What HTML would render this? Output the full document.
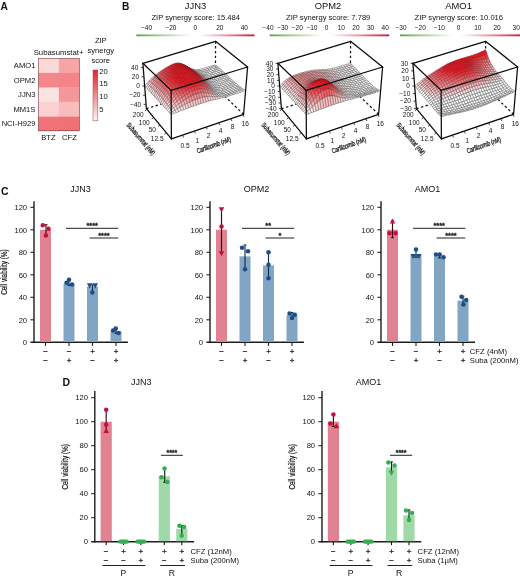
<!DOCTYPE html>
<html><head><meta charset="utf-8"><title>Figure</title>
<style>
html,body{margin:0;padding:0;background:#fff;}
body{width:520px;height:579px;overflow:hidden;}
svg{display:block;font-family:"Liberation Sans", Arial, Helvetica, sans-serif;}
</style></head><body>
<svg width="520" height="579" viewBox="0 0 520 579">
<rect x="0" y="0" width="520" height="579" fill="#ffffff"/>
<text x="0.50" y="9.50" font-size="10.2" text-anchor="start" font-weight="bold" fill="#111" >A</text>
<rect x="38.40" y="58.50" width="20.70" height="14.60" fill="#fcd9d9" />
<rect x="58.90" y="58.50" width="20.60" height="14.60" fill="#f6a5a6" />
<text x="35.40" y="68.40" font-size="7.6" text-anchor="end" font-weight="normal" fill="#111" >AMO1</text>
<rect x="38.40" y="72.90" width="20.70" height="14.90" fill="#f3878b" />
<rect x="58.90" y="72.90" width="20.60" height="14.90" fill="#f3858a" />
<text x="35.40" y="82.95" font-size="7.6" text-anchor="end" font-weight="normal" fill="#111" >OPM2</text>
<rect x="38.40" y="87.60" width="20.70" height="14.40" fill="#fce3e3" />
<rect x="58.90" y="87.60" width="20.60" height="14.40" fill="#f4979a" />
<text x="35.40" y="97.40" font-size="7.6" text-anchor="end" font-weight="normal" fill="#111" >JJN3</text>
<rect x="38.40" y="101.80" width="20.70" height="15.00" fill="#fad0d1" />
<rect x="58.90" y="101.80" width="20.60" height="15.00" fill="#f8bcbd" />
<text x="35.40" y="111.90" font-size="7.6" text-anchor="end" font-weight="normal" fill="#111" >MM1S</text>
<rect x="38.40" y="116.60" width="20.70" height="14.40" fill="#ef7378" />
<rect x="58.90" y="116.60" width="20.60" height="14.40" fill="#ef7277" />
<text x="35.40" y="126.40" font-size="7.6" text-anchor="end" font-weight="normal" fill="#111" >NCI-H929</text>
<rect x="38.4" y="58.5" width="41.10" height="72.30" fill="none" stroke="#7d3b42" stroke-width="0.6"/>
<text x="58.60" y="54.70" font-size="7.75" text-anchor="middle" font-weight="normal" fill="#111" >Subasumstat+</text>
<text x="48.40" y="139.50" font-size="7.6" text-anchor="middle" font-weight="normal" fill="#111" >BTZ</text>
<text x="69.40" y="139.50" font-size="7.6" text-anchor="middle" font-weight="normal" fill="#111" >CFZ</text>
<defs><linearGradient id="cbA" x1="0" y1="0" x2="0" y2="1"><stop offset="0" stop-color="#dc2430"/><stop offset="0.5" stop-color="#f08a8e"/><stop offset="1" stop-color="#fff6f6"/></linearGradient></defs>
<rect x="93.0" y="70.0" width="4.8" height="50.8" fill="url(#cbA)" stroke="#a8434a" stroke-width="0.5"/>
<text x="99.30" y="73.50" font-size="7.6" text-anchor="start" font-weight="normal" fill="#111" >20</text>
<text x="99.30" y="85.60" font-size="7.6" text-anchor="start" font-weight="normal" fill="#111" >15</text>
<text x="99.30" y="98.50" font-size="7.6" text-anchor="start" font-weight="normal" fill="#111" >10</text>
<text x="99.30" y="111.50" font-size="7.6" text-anchor="start" font-weight="normal" fill="#111" >5</text>
<text x="100.80" y="43.30" font-size="7.6" text-anchor="middle" font-weight="normal" fill="#111" >ZIP</text>
<text x="100.80" y="53.40" font-size="7.6" text-anchor="middle" font-weight="normal" fill="#111" >synergy</text>
<text x="100.80" y="63.10" font-size="7.6" text-anchor="middle" font-weight="normal" fill="#111" >score</text>
<text x="122.00" y="9.50" font-size="10.2" text-anchor="start" font-weight="bold" fill="#111" >B</text>
<text x="195.50" y="9.00" font-size="9.4" text-anchor="middle" font-weight="normal" fill="#111" >JJN3</text>
<text x="195.70" y="20.30" font-size="7.6" text-anchor="middle" font-weight="normal" fill="#111" >ZIP synergy score: 15.484</text>
<defs><linearGradient id="cb0" x1="0" y1="0" x2="1" y2="0"><stop offset="0" stop-color="#5fa544"/><stop offset="0.250" stop-color="#b3d6a3"/><stop offset="0.470" stop-color="#ffffff"/><stop offset="0.530" stop-color="#ffffff"/><stop offset="0.750" stop-color="#ee93a1"/><stop offset="1" stop-color="#cc1a3c"/></linearGradient></defs>
<rect x="136.30" y="34.40" width="118.20" height="1.90" fill="url(#cb0)" />
<text x="146.50" y="29.90" font-size="6.5" text-anchor="middle" font-weight="normal" fill="#111" >−40</text>
<text x="170.95" y="29.90" font-size="6.5" text-anchor="middle" font-weight="normal" fill="#111" >−20</text>
<text x="195.40" y="29.90" font-size="6.5" text-anchor="middle" font-weight="normal" fill="#111" >0</text>
<text x="219.85" y="29.90" font-size="6.5" text-anchor="middle" font-weight="normal" fill="#111" >20</text>
<text x="244.30" y="29.90" font-size="6.5" text-anchor="middle" font-weight="normal" fill="#111" >40</text>
<line x1="215.60" y1="41.30" x2="215.30" y2="87.30" stroke="#111" stroke-width="1.25" stroke-dasharray="2.4,2.4"/>
<line x1="146.40" y1="108.70" x2="215.30" y2="87.30" stroke="#111" stroke-width="1.25" stroke-dasharray="2.4,2.4"/>
<line x1="243.60" y1="114.30" x2="215.30" y2="87.30" stroke="#111" stroke-width="1.25" stroke-dasharray="2.4,2.4"/>
<g transform="scale(0.1)" stroke-width="5.2" stroke-linejoin="round">
<path fill="#ffffff" stroke="#666666" d="M2146 667l24-6l-16-11l-23 5z"/>
<path fill="#ffffff" stroke="#666666" d="M2122 673l24-6l-15-12l-24 6z"/>
<path fill="#ffffff" stroke="#666666" d="M2161 679l24-5l-15-13l-24 6z"/>
<path fill="#ffffff" stroke="#666666" d="M2099 681l23-8l-15-12l-23 8z"/>
<path fill="#ffffff" stroke="#666666" d="M2137 686l24-7l-15-12l-24 6z"/>
<path fill="#ffffff" stroke="#666666" d="M2176 692l24-6l-15-12l-24 5z"/>
<path fill="#ffffff" stroke="#666666" d="M2075 689l24-8l-15-12l-24 7z"/>
<path fill="#ffffff" stroke="#666666" d="M2113 694l24-8l-15-13l-23 8z"/>
<path fill="#ffffff" stroke="#666666" d="M2152 700l24-8l-15-13l-24 7z"/>
<path fill="#ffffff" stroke="#666666" d="M2051 697l24-8l-15-13l-23 8z"/>
<path fill="#ffffff" stroke="#666666" d="M2191 706l24-6l-15-14l-24 6z"/>
<path fill="#ffffff" stroke="#666666" d="M2090 702l23-8l-14-13l-24 8z"/>
<path fill="#ffffff" stroke="#666666" d="M2128 708l24-8l-15-14l-24 8z"/>
<path fill="#ffffff" stroke="#666666" d="M2028 703l23-6l-14-13l-24 6z"/>
<path fill="#ffffff" stroke="#666666" d="M2167 713l24-7l-15-14l-24 8z"/>
<path fill="#ffffff" stroke="#666666" d="M2066 710l24-8l-15-13l-24 8z"/>
<path fill="#ffffff" stroke="#666666" d="M2206 720l24-6l-15-14l-24 6z"/>
<path fill="#ffffff" stroke="#666666" d="M2105 716l23-8l-15-14l-23 8z"/>
<path fill="#ffffff" stroke="#666666" d="M2004 707l24-4l-15-13l-24 4z"/>
<path fill="#ffffff" stroke="#666666" d="M2143 722l24-9l-15-13l-24 8z"/>
<path fill="#ffffff" stroke="#666666" d="M2042 716l24-6l-15-13l-23 6z"/>
<path fill="#ffffff" stroke="#666666" d="M2182 728l24-8l-15-14l-24 7z"/>
<path fill="#ffffff" stroke="#666666" d="M2081 723l24-7l-15-14l-24 8z"/>
<path fill="#ffffff" stroke="#666666" d="M2221 734l24-6l-15-14l-24 6z"/>
<path fill="#fefafa" stroke="#676565" d="M1980 708l24-1l-15-13l-23 2z"/>
<path fill="#ffffff" stroke="#666666" d="M2119 730l24-8l-15-14l-23 8z"/>
<path fill="#ffffff" stroke="#666666" d="M2019 720l23-4l-14-13l-24 4z"/>
<path fill="#ffffff" stroke="#666666" d="M2158 736l24-8l-15-15l-24 9z"/>
<path fill="#ffffff" stroke="#666666" d="M2057 729l24-6l-15-13l-24 6z"/>
<path fill="#ffffff" stroke="#666666" d="M2197 742l24-8l-15-14l-24 8z"/>
<path fill="#fdeeef" stroke="#696263" d="M1956 706l24 2l-14-12l-24-2z"/>
<path fill="#ffffff" stroke="#666666" d="M2096 737l23-7l-14-14l-24 7z"/>
<path fill="#ffffff" stroke="#666666" d="M2236 749l24-7l-15-14l-24 6z"/>
<path fill="#fef9f9" stroke="#676565" d="M1995 721l24-1l-15-13l-24 1z"/>
<path fill="#ffffff" stroke="#666666" d="M2134 744l24-8l-15-14l-24 8z"/>
<path fill="#ffffff" stroke="#666666" d="M2033 733l24-4l-15-13l-23 4z"/>
<path fill="#ffffff" stroke="#666666" d="M2173 750l24-8l-15-14l-24 8z"/>
<path fill="#fbdbdd" stroke="#6e5e5f" d="M1932 699l24 7l-14-12l-24-6z"/>
<path fill="#ffffff" stroke="#666666" d="M2072 743l24-6l-15-14l-24 6z"/>
<path fill="#ffffff" stroke="#666666" d="M2212 756l24-7l-15-15l-24 8z"/>
<path fill="#fdeced" stroke="#6a6262" d="M1971 718l24 3l-15-13l-24-2z"/>
<path fill="#ffffff" stroke="#666666" d="M2110 751l24-7l-15-14l-23 7z"/>
<path fill="#ffffff" stroke="#666666" d="M2251 763l24-7l-15-14l-24 7z"/>
<path fill="#fef8f8" stroke="#676464" d="M2009 733l24 0l-14-13l-24 1z"/>
<path fill="#ffffff" stroke="#666666" d="M2149 758l24-8l-15-14l-24 8z"/>
<path fill="#f9c2c5" stroke="#735859" d="M1908 688l24 11l-14-11l-24-11z"/>
<path fill="#ffffff" stroke="#666666" d="M2048 746l24-3l-15-14l-24 4z"/>
<path fill="#ffffff" stroke="#666666" d="M2188 764l24-8l-15-14l-24 8z"/>
<path fill="#fbd9da" stroke="#6e5e5e" d="M1947 711l24 7l-15-12l-24-7z"/>
<path fill="#ffffff" stroke="#666666" d="M2086 756l24-5l-14-14l-24 6z"/>
<path fill="#ffffff" stroke="#666666" d="M2227 771l24-8l-15-14l-24 7z"/>
<path fill="#fdeaeb" stroke="#6a6262" d="M1986 730l23 3l-14-12l-24-3z"/>
<path fill="#ffffff" stroke="#666666" d="M2125 765l24-7l-15-14l-24 7z"/>
<path fill="#ffffff" stroke="#666666" d="M2266 777l24-7l-15-14l-24 7z"/>
<path fill="#f7a3a7" stroke="#7a4e50" d="M1884 674l24 14l-14-11l-24-13z"/>
<path fill="#fef7f7" stroke="#676464" d="M2024 746l24 0l-15-13l-24 0z"/>
<path fill="#ffffff" stroke="#666666" d="M2164 772l24-8l-15-14l-24 8z"/>
<path fill="#f9bec1" stroke="#745758" d="M1923 699l24 12l-15-12l-24-11z"/>
<path fill="#ffffff" stroke="#666666" d="M2063 759l23-3l-14-13l-24 3z"/>
<path fill="#ffffff" stroke="#666666" d="M2203 779l24-8l-15-15l-24 8z"/>
<path fill="#fbd6d8" stroke="#6f5d5e" d="M1962 722l24 8l-15-12l-24-7z"/>
<path fill="#ffffff" stroke="#666666" d="M2101 770l24-5l-15-14l-24 5z"/>
<path fill="#ffffff" stroke="#666666" d="M2242 785l24-8l-15-14l-24 8z"/>
<path fill="#f48186" stroke="#824144" d="M1860 660l24 14l-14-10l-25-14z"/>
<path fill="#fde8e9" stroke="#6b6162" d="M2000 742l24 4l-15-13l-23-3z"/>
<path fill="#ffffff" stroke="#666666" d="M2140 779l24-7l-15-14l-24 7z"/>
<path fill="#ffffff" stroke="#666666" d="M2281 791l24-7l-15-14l-24 7z"/>
<path fill="#f69ea2" stroke="#7b4c4e" d="M1899 684l24 15l-15-11l-24-14z"/>
<path fill="#fef6f6" stroke="#686464" d="M2039 759l24 0l-15-13l-24 0z"/>
<path fill="#ffffff" stroke="#666666" d="M2179 787l24-8l-15-15l-24 8z"/>
<path fill="#f9babd" stroke="#755557" d="M1938 710l24 12l-15-11l-24-12z"/>
<path fill="#ffffff" stroke="#666666" d="M2077 773l24-3l-15-14l-23 3z"/>
<path fill="#ffffff" stroke="#666666" d="M2217 793l25-8l-15-14l-24 8z"/>
<path fill="#f16067" stroke="#883337" d="M1835 647l25 13l-15-10l-24-11z"/>
<path fill="#fbd3d5" stroke="#705c5d" d="M1976 734l24 8l-14-12l-24-8z"/>
<path fill="#ffffff" stroke="#666666" d="M2116 784l24-5l-15-14l-24 5z"/>
<path fill="#ffffff" stroke="#666666" d="M2257 799l24-8l-15-14l-24 8z"/>
<path fill="#f37b81" stroke="#833f42" d="M1874 669l25 15l-15-10l-24-14z"/>
<path fill="#fce7e8" stroke="#6b6161" d="M2015 754l24 5l-15-13l-24-4z"/>
<path fill="#ffffff" stroke="#666666" d="M2155 794l24-7l-15-15l-24 7z"/>
<path fill="#ffffff" stroke="#666666" d="M2296 804l24-6l-15-14l-24 7z"/>
<path fill="#f6999d" stroke="#7c4a4c" d="M1913 694l25 16l-15-11l-24-15z"/>
<path fill="#fef5f6" stroke="#686464" d="M2053 772l24 1l-14-14l-24 0z"/>
<path fill="#ffffff" stroke="#666666" d="M2193 801l24-8l-14-14l-24 8z"/>
<path fill="#ee454d" stroke="#8e262b" d="M1811 640l24 7l-14-8l-25-8z"/>
<path fill="#f8b7ba" stroke="#765456" d="M1952 720l24 14l-14-12l-24-12z"/>
<path fill="#ffffff" stroke="#666666" d="M2092 786l24-2l-15-14l-24 3z"/>
<path fill="#ffffff" stroke="#666666" d="M2232 807l25-8l-15-14l-25 8z"/>
<path fill="#f05a61" stroke="#8a3034" d="M1850 656l24 13l-14-9l-25-13z"/>
<path fill="#fbd1d3" stroke="#705c5d" d="M1991 745l24 9l-15-12l-24-8z"/>
<path fill="#ffffff" stroke="#666666" d="M2131 798l24-4l-15-15l-24 5z"/>
<path fill="#ffffff" stroke="#666666" d="M2271 812l25-8l-15-13l-24 8z"/>
<path fill="#f3757b" stroke="#843c3f" d="M1889 678l24 16l-14-10l-25-15z"/>
<path fill="#fce6e7" stroke="#6b6161" d="M2029 767l24 5l-14-13l-24-5z"/>
<path fill="#ffffff" stroke="#666666" d="M2169 808l24-7l-14-14l-24 7z"/>
<path fill="#ffffff" stroke="#666666" d="M2311 818l24-7l-15-13l-24 6z"/>
<path fill="#ed323b" stroke="#921c21" d="M1786 638l25 2l-15-9l-24-1z"/>
<path fill="#f59499" stroke="#7d494b" d="M1928 704l24 16l-14-10l-25-16z"/>
<path fill="#fef6f6" stroke="#686464" d="M2068 786l24 0l-15-13l-24-1z"/>
<path fill="#ffffff" stroke="#666666" d="M2208 816l24-9l-15-14l-24 8z"/>
<path fill="#ee3d46" stroke="#902227" d="M1825 648l25 8l-15-9l-24-7z"/>
<path fill="#f8b3b7" stroke="#775355" d="M1967 732l24 13l-15-11l-24-14z"/>
<path fill="#ffffff" stroke="#666666" d="M2107 801l24-3l-15-14l-24 2z"/>
<path fill="#ffffff" stroke="#666666" d="M2247 821l24-9l-14-13l-25 8z"/>
<path fill="#f0535a" stroke="#8b2d31" d="M1864 665l25 13l-15-9l-24-13z"/>
<path fill="#facfd1" stroke="#705b5c" d="M2005 758l24 9l-14-13l-24-9z"/>
<path fill="#ffffff" stroke="#666666" d="M2145 813l24-5l-14-14l-24 4z"/>
<path fill="#ffffff" stroke="#666666" d="M2286 826l25-8l-15-14l-25 8z"/>
<path fill="#ec2932" stroke="#94171d" d="M1762 642l24-4l-14-8l-24 5z"/>
<path fill="#f26f75" stroke="#853a3d" d="M1903 688l25 16l-15-10l-24-16z"/>
<path fill="#fce5e6" stroke="#6b6161" d="M2044 780l24 6l-15-14l-24-5z"/>
<path fill="#ffffff" stroke="#666666" d="M2184 823l24-7l-15-15l-24 7z"/>
<path fill="#ffffff" stroke="#666666" d="M2326 831l24-7l-15-13l-24 7z"/>
<path fill="#ec2a33" stroke="#93181d" d="M1801 646l24 2l-14-8l-25-2z"/>
<path fill="#f59095" stroke="#7e4749" d="M1943 715l24 17l-15-12l-24-16z"/>
<path fill="#fef6f7" stroke="#676464" d="M2083 800l24 1l-15-15l-24 0z"/>
<path fill="#ffffff" stroke="#666666" d="M2223 830l24-9l-15-14l-24 9z"/>
<path fill="#ed363e" stroke="#911e23" d="M1840 656l24 9l-14-9l-25-8z"/>
<path fill="#f8b1b4" stroke="#775254" d="M1981 743l24 15l-14-13l-24-13z"/>
<path fill="#ffffff" stroke="#666666" d="M2121 816l24-3l-14-15l-24 3z"/>
<path fill="#ffffff" stroke="#666666" d="M2262 835l24-9l-15-14l-24 9z"/>
<path fill="#ec2731" stroke="#94161c" d="M1738 650l24-8l-14-7l-24 8z"/>
<path fill="#ef4c54" stroke="#8d292e" d="M1879 674l24 14l-14-10l-25-13z"/>
<path fill="#faced0" stroke="#715b5c" d="M2020 770l24 10l-15-13l-24-9z"/>
<path fill="#ffffff" stroke="#666666" d="M2160 828l24-5l-15-15l-24 5z"/>
<path fill="#ffffff" stroke="#666666" d="M2301 839l25-8l-15-13l-25 8z"/>
<path fill="#eb2029" stroke="#951218" d="M1777 650l24-4l-15-8l-24 4z"/>
<path fill="#f26a70" stroke="#86373b" d="M1918 698l25 17l-15-11l-25-16z"/>
<path fill="#fce6e7" stroke="#6b6161" d="M2059 794l24 6l-15-14l-24-6z"/>
<path fill="#ffffff" stroke="#666666" d="M2199 838l24-8l-15-14l-24 7z"/>
<path fill="#ffffff" stroke="#666666" d="M2341 843l24-6l-15-13l-24 7z"/>
<path fill="#eb222b" stroke="#951319" d="M1815 654l25 2l-15-8l-24-2z"/>
<path fill="#f58c91" stroke="#7f4548" d="M1957 726l24 17l-14-11l-24-17z"/>
<path fill="#fef8f8" stroke="#676464" d="M2097 814l24 2l-14-15l-24-1z"/>
<path fill="#ffffff" stroke="#666666" d="M2238 844l24-9l-15-14l-24 9z"/>
<path fill="#ec2c35" stroke="#93191e" d="M1714 662l24-12l-14-7l-24 12z"/>
<path fill="#ec2e37" stroke="#921a1f" d="M1854 665l25 9l-15-9l-24-9z"/>
<path fill="#f8afb2" stroke="#785253" d="M1996 755l24 15l-15-12l-24-15z"/>
<path fill="#ffffff" stroke="#666666" d="M2136 831l24-3l-15-15l-24 3z"/>
<path fill="#ffffff" stroke="#666666" d="M2277 848l24-9l-15-13l-24 9z"/>
<path fill="#eb1e28" stroke="#961117" d="M1753 658l24-8l-15-8l-24 8z"/>
<path fill="#ee464e" stroke="#8e262b" d="M1894 684l24 14l-15-10l-24-14z"/>
<path fill="#faced0" stroke="#715b5c" d="M2035 784l24 10l-15-14l-24-10z"/>
<path fill="#ffffff" stroke="#666666" d="M2175 843l24-5l-15-15l-24 5z"/>
<path fill="#ffffff" stroke="#666666" d="M2316 852l25-9l-15-12l-25 8z"/>
<path fill="#eb1923" stroke="#970e14" d="M1791 658l24-4l-14-8l-24 4z"/>
<path fill="#f1656c" stroke="#873539" d="M1933 709l24 17l-14-11l-25-17z"/>
<path fill="#fce7e8" stroke="#6b6161" d="M2073 809l24 5l-14-14l-24-6z"/>
<path fill="#ffffff" stroke="#666666" d="M2213 852l25-8l-15-14l-24 8z"/>
<path fill="#ffffff" stroke="#666666" d="M2356 856l24-6l-15-13l-24 6z"/>
<path fill="#ed343c" stroke="#911d22" d="M1691 675l23-13l-14-7l-23 13z"/>
<path fill="#eb1a24" stroke="#960f15" d="M1830 663l24 2l-14-9l-25-2z"/>
<path fill="#f4898e" stroke="#804447" d="M1972 738l24 17l-15-12l-24-17z"/>
<path fill="#fefbfb" stroke="#666565" d="M2112 830l24 1l-15-15l-24-2z"/>
<path fill="#ffffff" stroke="#666666" d="M2252 858l25-10l-15-13l-24 9z"/>
<path fill="#eb222b" stroke="#951319" d="M1729 670l24-12l-15-8l-24 12z"/>
<path fill="#ec2831" stroke="#94171c" d="M1869 675l25 9l-15-10l-25-9z"/>
<path fill="#f7aeb1" stroke="#785153" d="M2011 769l24 15l-15-14l-24-15z"/>
<path fill="#ffffff" stroke="#666666" d="M2150 846l25-3l-15-15l-24 3z"/>
<path fill="#ffffff" stroke="#666666" d="M2292 861l24-9l-15-13l-24 9z"/>
<path fill="#eb1923" stroke="#970e14" d="M1767 667l24-9l-14-8l-24 8z"/>
<path fill="#ee4049" stroke="#8f2428" d="M1908 694l25 15l-15-11l-24-14z"/>
<path fill="#facfd1" stroke="#715b5c" d="M2049 799l24 10l-14-15l-24-10z"/>
<path fill="#ffffff" stroke="#666666" d="M2189 859l24-7l-14-14l-24 5z"/>
<path fill="#ffffff" stroke="#666666" d="M2331 864l25-8l-15-13l-25 9z"/>
<path fill="#ee3e46" stroke="#8f2227" d="M1667 689l24-14l-14-7l-24 14z"/>
<path fill="#eb1923" stroke="#970e14" d="M1806 667l24-4l-15-9l-24 4z"/>
<path fill="#f16268" stroke="#883437" d="M1948 720l24 18l-15-12l-24-17z"/>
<path fill="#fdeaeb" stroke="#6a6262" d="M2088 825l24 5l-15-16l-24-5z"/>
<path fill="#ffffff" stroke="#666666" d="M2228 867l24-9l-14-14l-25 8z"/>
<path fill="#ffffff" stroke="#666666" d="M2371 868l24-6l-15-12l-24 6z"/>
<path fill="#ec2a33" stroke="#93181d" d="M1705 683l24-13l-15-8l-23 13z"/>
<path fill="#eb1923" stroke="#970e14" d="M1845 673l24 2l-15-10l-24-2z"/>
<path fill="#f4888d" stroke="#804446" d="M1987 750l24 19l-15-14l-24-17z"/>
<path fill="#fefefe" stroke="#666565" d="M2126 846l24 0l-14-15l-24-1z"/>
<path fill="#ffffff" stroke="#666666" d="M2267 871l25-10l-15-13l-25 10z"/>
<path fill="#eb1a23" stroke="#970f15" d="M1743 679l24-12l-14-9l-24 12z"/>
<path fill="#eb222b" stroke="#951319" d="M1884 685l24 9l-14-10l-25-9z"/>
<path fill="#f8aeb2" stroke="#785253" d="M2025 783l24 16l-14-15l-24-15z"/>
<path fill="#ffffff" stroke="#666666" d="M2165 862l24-3l-14-16l-25 3z"/>
<path fill="#ffffff" stroke="#666666" d="M2307 874l24-10l-15-12l-24 9z"/>
<path fill="#ef4951" stroke="#8d282c" d="M1643 704l24-15l-14-7l-23 14z"/>
<path fill="#eb1923" stroke="#970e14" d="M1781 676l25-9l-15-9l-24 9z"/>
<path fill="#ee3c44" stroke="#902126" d="M1923 705l25 15l-15-11l-25-15z"/>
<path fill="#fbd1d3" stroke="#705c5d" d="M2064 814l24 11l-15-16l-24-10z"/>
<path fill="#ffffff" stroke="#666666" d="M2204 874l24-7l-15-15l-24 7z"/>
<path fill="#ffffff" stroke="#666666" d="M2346 876l25-8l-15-12l-25 8z"/>
<path fill="#ed343d" stroke="#911d22" d="M1681 697l24-14l-14-8l-24 14z"/>
<path fill="#eb1923" stroke="#970e14" d="M1820 677l25-4l-15-10l-24 4z"/>
<path fill="#f15f66" stroke="#893336" d="M1962 732l25 18l-15-12l-24-18z"/>
<path fill="#fdedee" stroke="#696263" d="M2102 841l24 5l-14-16l-24-5z"/>
<path fill="#ffffff" stroke="#666666" d="M2243 880l24-9l-15-13l-24 9z"/>
<path fill="#ffffff" stroke="#666666" d="M2386 880l24-7l-15-11l-24 6z"/>
<path fill="#eb222b" stroke="#951319" d="M1719 692l24-13l-14-9l-24 13z"/>
<path fill="#eb1923" stroke="#970e14" d="M1859 683l25 2l-15-10l-24-2z"/>
<path fill="#f4888d" stroke="#804446" d="M2001 764l24 19l-14-14l-24-19z"/>
<path fill="#ffffff" stroke="#666666" d="M2141 862l24 0l-15-16l-24 0z"/>
<path fill="#ffffff" stroke="#666666" d="M2282 884l25-10l-15-13l-25 10z"/>
<path fill="#f0565d" stroke="#8b2e32" d="M1620 720l23-16l-13-8l-24 16z"/>
<path fill="#eb1923" stroke="#970e14" d="M1757 688l24-12l-14-9l-24 12z"/>
<path fill="#eb1d27" stroke="#961116" d="M1899 695l24 10l-15-11l-24-9z"/>
<path fill="#f8b1b4" stroke="#775254" d="M2040 798l24 16l-15-15l-24-16z"/>
<path fill="#ffffff" stroke="#666666" d="M2180 878l24-4l-15-15l-24 3z"/>
<path fill="#ffffff" stroke="#666666" d="M2322 886l24-10l-15-12l-24 10z"/>
<path fill="#ee4048" stroke="#8f2328" d="M1657 712l24-15l-14-8l-24 15z"/>
<path fill="#eb1923" stroke="#970e14" d="M1796 686l24-9l-14-10l-25 9z"/>
<path fill="#ed3942" stroke="#902025" d="M1938 717l24 15l-14-12l-25-15z"/>
<path fill="#fbd5d7" stroke="#6f5d5e" d="M2079 831l23 10l-14-16l-24-11z"/>
<path fill="#ffffff" stroke="#666666" d="M2218 888l25-8l-15-13l-24 7z"/>
<path fill="#ffffff" stroke="#666666" d="M2361 888l25-8l-15-12l-25 8z"/>
<path fill="#ec2c35" stroke="#93191e" d="M1695 706l24-14l-14-9l-24 14z"/>
<path fill="#eb1923" stroke="#970e14" d="M1835 687l24-4l-14-10l-25 4z"/>
<path fill="#f15f66" stroke="#893236" d="M1977 745l24 19l-14-14l-25-18z"/>
<path fill="#fdf2f3" stroke="#686363" d="M2117 858l24 4l-15-16l-24-5z"/>
<path fill="#ffffff" stroke="#666666" d="M2257 894l25-10l-15-13l-24 9z"/>
<path fill="#ffffff" stroke="#666666" d="M2401 892l24-7l-15-12l-24 7z"/>
<path fill="#f1646b" stroke="#883538" d="M1596 737l24-17l-14-8l-23 16z"/>
<path fill="#eb1b25" stroke="#960f15" d="M1733 702l24-14l-14-9l-24 13z"/>
<path fill="#eb1923" stroke="#970e14" d="M1874 694l25 1l-15-10l-25-2z"/>
<path fill="#f4898f" stroke="#804447" d="M2016 779l24 19l-15-15l-24-19z"/>
<path fill="#ffffff" stroke="#666666" d="M2155 879l25-1l-15-16l-24 0z"/>
<path fill="#ffffff" stroke="#666666" d="M2297 897l25-11l-15-12l-25 10z"/>
<path fill="#ef4d54" stroke="#8c2a2e" d="M1634 728l23-16l-14-8l-23 16z"/>
<path fill="#eb1923" stroke="#970e14" d="M1772 698l24-12l-15-10l-24 12z"/>
<path fill="#eb1a24" stroke="#970f15" d="M1913 707l25 10l-15-12l-24-10z"/>
<path fill="#f8b5b8" stroke="#765455" d="M2055 815l24 16l-15-17l-24-16z"/>
<path fill="#ffffff" stroke="#666666" d="M2194 893l24-5l-14-14l-24 4z"/>
<path fill="#ffffff" stroke="#666666" d="M2336 898l25-10l-15-12l-24 10z"/>
<path fill="#ed3740" stroke="#911f24" d="M1671 721l24-15l-14-9l-24 15z"/>
<path fill="#eb1923" stroke="#970e14" d="M1810 697l25-10l-15-10l-24 9z"/>
<path fill="#ed3840" stroke="#911f24" d="M1953 730l24 15l-15-13l-24-15z"/>
<path fill="#fbdbdc" stroke="#6e5e5f" d="M2093 848l24 10l-15-17l-23-10z"/>
<path fill="#ffffff" stroke="#666666" d="M2233 902l24-8l-14-14l-25 8z"/>
<path fill="#ffffff" stroke="#666666" d="M2376 900l25-8l-15-12l-25 8z"/>
<path fill="#f2747a" stroke="#843c3f" d="M1573 755l23-18l-13-9l-23 18z"/>
<path fill="#ec252f" stroke="#94151b" d="M1709 716l24-14l-14-10l-24 14z"/>
<path fill="#eb1923" stroke="#970e14" d="M1849 698l25-4l-15-11l-24 4z"/>
<path fill="#f16067" stroke="#883337" d="M1992 760l24 19l-15-15l-24-19z"/>
<path fill="#fef7f8" stroke="#676464" d="M2131 875l24 4l-14-17l-24-4z"/>
<path fill="#ffffff" stroke="#666666" d="M2272 906l25-9l-15-13l-25 10z"/>
<path fill="#ffffff" stroke="#666666" d="M2416 903l25-7l-16-11l-24 7z"/>
<path fill="#f05b63" stroke="#893135" d="M1610 745l24-17l-14-8l-24 17z"/>
<path fill="#eb1923" stroke="#970e14" d="M1748 712l24-14l-15-10l-24 14z"/>
<path fill="#eb1923" stroke="#970e14" d="M1889 705l24 2l-14-12l-25-1z"/>
<path fill="#f58d92" stroke="#7f4648" d="M2031 796l24 19l-15-17l-24-19z"/>
<path fill="#ffffff" stroke="#666666" d="M2170 895l24-2l-14-15l-25 1z"/>
<path fill="#ffffff" stroke="#666666" d="M2312 908l24-10l-14-12l-25 11z"/>
<path fill="#ee444c" stroke="#8e262a" d="M1648 737l23-16l-14-9l-23 16z"/>
<path fill="#eb1923" stroke="#970e14" d="M1786 709l24-12l-14-11l-24 12z"/>
<path fill="#eb1923" stroke="#970e14" d="M1928 720l25 10l-15-13l-25-10z"/>
<path fill="#f9babd" stroke="#755557" d="M2069 833l24 15l-14-17l-24-16z"/>
<path fill="#ffffff" stroke="#666666" d="M2209 908l24-6l-15-14l-24 5z"/>
<path fill="#ffffff" stroke="#666666" d="M2351 909l25-9l-15-12l-25 10z"/>
<path fill="#f4878c" stroke="#804346" d="M1550 775l23-20l-13-9l-23 19z"/>
<path fill="#ed3039" stroke="#921b20" d="M1685 730l24-14l-14-10l-24 15z"/>
<path fill="#eb1923" stroke="#970e14" d="M1825 708l24-10l-14-11l-25 10z"/>
<path fill="#ed3841" stroke="#902024" d="M1967 744l25 16l-15-15l-24-15z"/>
<path fill="#fce1e2" stroke="#6c6060" d="M2108 866l23 9l-14-17l-24-10z"/>
<path fill="#ffffff" stroke="#666666" d="M2248 915l24-9l-15-12l-24 8z"/>
<path fill="#ffffff" stroke="#666666" d="M2391 911l25-8l-15-11l-25 8z"/>
<path fill="#f26c73" stroke="#86383c" d="M1587 764l23-19l-14-8l-23 18z"/>
<path fill="#eb1f29" stroke="#951218" d="M1723 726l25-14l-15-10l-24 14z"/>
<path fill="#eb1923" stroke="#970e14" d="M1864 710l25-5l-15-11l-25 4z"/>
<path fill="#f1636a" stroke="#883438" d="M2006 776l25 20l-15-17l-24-19z"/>
<path fill="#fefcfd" stroke="#666565" d="M2146 892l24 3l-15-16l-24-4z"/>
<path fill="#ffffff" stroke="#666666" d="M2287 918l25-10l-15-11l-25 9z"/>
<path fill="#ffffff" stroke="#666666" d="M2431 915l25-9l-15-10l-25 7z"/>
<path fill="#f0535b" stroke="#8b2d31" d="M1624 754l24-17l-14-9l-24 17z"/>
<path fill="#eb1923" stroke="#970e14" d="M1762 723l24-14l-14-11l-24 14z"/>
<path fill="#eb1923" stroke="#970e14" d="M1903 717l25 3l-15-13l-24-2z"/>
<path fill="#f59398" stroke="#7e484a" d="M2045 814l24 19l-14-18l-24-19z"/>
<path fill="#ffffff" stroke="#666666" d="M2184 911l25-3l-15-15l-24 2z"/>
<path fill="#ffffff" stroke="#666666" d="M2327 919l24-10l-15-11l-24 10z"/>
<path fill="#f69ca0" stroke="#7c4b4d" d="M1527 797l23-22l-13-10l-23 21z"/>
<path fill="#ee3d45" stroke="#902227" d="M1661 746l24-16l-14-9l-23 16z"/>
<path fill="#eb1923" stroke="#970e14" d="M1801 721l24-13l-15-11l-24 12z"/>
<path fill="#eb1923" stroke="#970e14" d="M1943 733l24 11l-14-14l-25-10z"/>
<path fill="#f9c1c4" stroke="#745759" d="M2084 851l24 15l-15-18l-24-15z"/>
<path fill="#ffffff" stroke="#666666" d="M2223 922l25-7l-15-13l-24 6z"/>
<path fill="#ffffff" stroke="#666666" d="M2367 920l24-9l-15-11l-25 9z"/>
<path fill="#f38085" stroke="#824143" d="M1564 785l23-21l-14-9l-23 20z"/>
<path fill="#ec2a33" stroke="#93181d" d="M1699 740l24-14l-14-10l-24 14z"/>
<path fill="#eb1923" stroke="#970e14" d="M1840 720l24-10l-15-12l-24 10z"/>
<path fill="#ee3b44" stroke="#902126" d="M1982 760l24 16l-14-16l-25-16z"/>
<path fill="#fce7e8" stroke="#6b6161" d="M2122 884l24 8l-15-17l-23-9z"/>
<path fill="#ffffff" stroke="#666666" d="M2262 927l25-9l-15-12l-24 9z"/>
<path fill="#ffffff" stroke="#666666" d="M2406 923l25-8l-15-12l-25 8z"/>
<path fill="#f1646b" stroke="#883538" d="M1600 773l24-19l-14-9l-23 19z"/>
<path fill="#eb1b24" stroke="#960f15" d="M1738 737l24-14l-14-11l-25 14z"/>
<path fill="#eb1923" stroke="#970e14" d="M1879 722l24-5l-14-12l-25 5z"/>
<path fill="#f1696f" stroke="#87373a" d="M2021 794l24 20l-14-18l-25-20z"/>
<path fill="#ffffff" stroke="#666666" d="M2160 909l24 2l-14-16l-24-3z"/>
<path fill="#ffffff" stroke="#666666" d="M2302 929l25-10l-15-11l-25 10z"/>
<path fill="#f8b4b7" stroke="#775355" d="M1504 821l23-24l-13-11l-23 22z"/>
<path fill="#ef4b53" stroke="#8d292d" d="M1638 763l23-17l-13-9l-24 17z"/>
<path fill="#eb1923" stroke="#970e14" d="M1776 734l25-13l-15-12l-24 14z"/>
<path fill="#eb1923" stroke="#970e14" d="M1918 731l25 2l-15-13l-25-3z"/>
<path fill="#f69b9f" stroke="#7c4b4d" d="M2060 833l24 18l-15-18l-24-19z"/>
<path fill="#ffffff" stroke="#666666" d="M2199 925l24-3l-14-14l-25 3z"/>
<path fill="#ffffff" stroke="#666666" d="M2342 929l25-9l-16-11l-24 10z"/>
<path fill="#f5969b" stroke="#7d494b" d="M1541 807l23-22l-14-10l-23 22z"/>
<path fill="#ed363f" stroke="#911e23" d="M1675 756l24-16l-14-10l-24 16z"/>
<path fill="#eb1923" stroke="#970e14" d="M1815 732l25-12l-15-12l-24 13z"/>
<path fill="#eb1a24" stroke="#960f15" d="M1958 749l24 11l-15-16l-24-11z"/>
<path fill="#fac9cb" stroke="#725a5b" d="M2098 870l24 14l-14-18l-24-15z"/>
<path fill="#ffffff" stroke="#666666" d="M2238 934l24-7l-14-12l-25 7z"/>
<path fill="#ffffff" stroke="#666666" d="M2382 931l24-8l-15-12l-24 9z"/>
<path fill="#f3787e" stroke="#833e41" d="M1577 794l23-21l-13-9l-23 21z"/>
<path fill="#ec252e" stroke="#94151b" d="M1714 751l24-14l-15-11l-24 14z"/>
<path fill="#eb1923" stroke="#970e14" d="M1854 732l25-10l-15-12l-24 10z"/>
<path fill="#ee4149" stroke="#8f2428" d="M1997 777l24 17l-15-18l-24-16z"/>
<path fill="#fdedee" stroke="#6a6263" d="M2136 902l24 7l-14-17l-24-8z"/>
<path fill="#ffffff" stroke="#666666" d="M2277 938l25-9l-15-11l-25 9z"/>
<path fill="#facfd1" stroke="#705b5c" d="M1482 846l22-25l-13-13l-22 25z"/>
<path fill="#f05c63" stroke="#893135" d="M1614 782l24-19l-14-9l-24 19z"/>
<path fill="#eb1923" stroke="#970e14" d="M1752 748l24-14l-14-11l-24 14z"/>
<path fill="#eb1923" stroke="#970e14" d="M1893 735l25-4l-15-14l-24 5z"/>
<path fill="#f27177" stroke="#853a3e" d="M2036 813l24 20l-15-19l-24-20z"/>
<path fill="#ffffff" stroke="#666666" d="M2175 925l24 0l-15-14l-24-2z"/>
<path fill="#ffffff" stroke="#666666" d="M2317 938l25-9l-15-10l-25 10z"/>
<path fill="#f8b0b3" stroke="#785254" d="M1518 832l23-25l-14-10l-23 24z"/>
<path fill="#ee444c" stroke="#8e252a" d="M1652 772l23-16l-14-10l-23 17z"/>
<path fill="#eb1923" stroke="#970e14" d="M1791 746l24-14l-14-11l-25 13z"/>
<path fill="#eb1923" stroke="#970e14" d="M1933 745l25 4l-15-16l-25-2z"/>
<path fill="#f7a4a8" stroke="#7a4e50" d="M2074 853l24 17l-14-19l-24-18z"/>
<path fill="#ffffff" stroke="#666666" d="M2213 939l25-5l-15-12l-24 3z"/>
<path fill="#ffffff" stroke="#666666" d="M2357 939l25-8l-15-11l-25 9z"/>
<path fill="#f58f94" stroke="#7f4749" d="M1554 817l23-23l-13-9l-23 22z"/>
<path fill="#ed3039" stroke="#921b20" d="M1690 766l24-15l-15-11l-24 16z"/>
<path fill="#eb1923" stroke="#970e14" d="M1830 744l24-12l-14-12l-25 12z"/>
<path fill="#eb1f28" stroke="#961217" d="M1972 765l25 12l-15-17l-24-11z"/>
<path fill="#fbd1d3" stroke="#705c5d" d="M2112 890l24 12l-14-18l-24-14z"/>
<path fill="#ffffff" stroke="#666666" d="M2253 945l24-7l-15-11l-24 7z"/>
<path fill="#fdeeef" stroke="#696263" d="M1460 874l22-28l-13-13l-23 27z"/>
<path fill="#f27077" stroke="#853a3d" d="M1591 803l23-21l-14-9l-23 21z"/>
<path fill="#eb212a" stroke="#951318" d="M1728 762l24-14l-14-11l-24 14z"/>
<path fill="#eb1923" stroke="#970e14" d="M1869 744l24-9l-14-13l-25 10z"/>
<path fill="#ef4950" stroke="#8d282c" d="M2011 796l25 17l-15-19l-24-17z"/>
<path fill="#fef3f4" stroke="#686364" d="M2151 920l24 5l-15-16l-24-7z"/>
<path fill="#ffffff" stroke="#666666" d="M2292 947l25-9l-15-9l-25 9z"/>
<path fill="#facccf" stroke="#715b5b" d="M1495 859l23-27l-14-11l-22 25z"/>
<path fill="#f0555c" stroke="#8b2e32" d="M1628 791l24-19l-14-9l-24 19z"/>
<path fill="#eb1923" stroke="#970e14" d="M1766 760l25-14l-15-12l-24 14z"/>
<path fill="#eb1923" stroke="#970e14" d="M1908 749l25-4l-15-14l-25 4z"/>
<path fill="#f37b81" stroke="#833f42" d="M2050 834l24 19l-14-20l-24-20z"/>
<path fill="#ffffff" stroke="#666666" d="M2189 940l24-1l-14-14l-24 0z"/>
<path fill="#ffffff" stroke="#666666" d="M2332 946l25-7l-15-10l-25 9z"/>
<path fill="#f7aaae" stroke="#795052" d="M1531 843l23-26l-13-10l-23 25z"/>
<path fill="#ee3d46" stroke="#8f2227" d="M1666 782l24-16l-15-10l-23 16z"/>
<path fill="#eb1923" stroke="#970e14" d="M1805 758l25-14l-15-12l-24 14z"/>
<path fill="#eb1923" stroke="#970e14" d="M1948 762l24 3l-14-16l-25-4z"/>
<path fill="#f7aeb1" stroke="#785153" d="M2089 874l23 16l-14-20l-24-17z"/>
<path fill="#ffffff" stroke="#666666" d="M2228 951l25-6l-15-11l-25 5z"/>
<path fill="#f4888d" stroke="#804446" d="M1568 827l23-24l-14-9l-23 23z"/>
<path fill="#ec2b34" stroke="#93191e" d="M1704 776l24-14l-14-11l-24 15z"/>
<path fill="#eb1923" stroke="#970e14" d="M1844 757l25-13l-15-12l-24 12z"/>
<path fill="#ec2630" stroke="#94161b" d="M1987 785l24 11l-14-19l-25-12z"/>
<path fill="#fbdadb" stroke="#6e5e5f" d="M2127 910l24 10l-15-18l-24-12z"/>
<path fill="#ffffff" stroke="#666666" d="M2268 954l24-7l-15-9l-24 7z"/>
<path fill="#fdedee" stroke="#6a6263" d="M1473 889l22-30l-13-13l-22 28z"/>
<path fill="#f1696f" stroke="#87373a" d="M1604 812l24-21l-14-9l-23 21z"/>
<path fill="#eb1d27" stroke="#961116" d="M1742 773l24-13l-14-12l-24 14z"/>
<path fill="#eb1923" stroke="#970e14" d="M1883 758l25-9l-15-14l-24 9z"/>
<path fill="#f0535b" stroke="#8b2d31" d="M2026 818l24 16l-14-21l-25-17z"/>
<path fill="#fef8f8" stroke="#676464" d="M2165 937l24 3l-14-15l-24-5z"/>
<path fill="#ffffff" stroke="#666666" d="M2307 954l25-8l-15-8l-25 9z"/>
<path fill="#fac9cb" stroke="#72595b" d="M1509 871l22-28l-13-11l-23 27z"/>
<path fill="#ef4d55" stroke="#8c2a2e" d="M1642 800l24-18l-14-10l-24 19z"/>
<path fill="#eb1923" stroke="#970e14" d="M1781 772l24-14l-14-12l-25 14z"/>
<path fill="#eb1923" stroke="#970e14" d="M1923 764l25-2l-15-17l-25 4z"/>
<path fill="#f4878c" stroke="#804446" d="M2065 857l24 17l-15-21l-24-19z"/>
<path fill="#ffffff" stroke="#666666" d="M2204 954l24-3l-15-12l-24 1z"/>
<path fill="#f7a4a8" stroke="#7a4e50" d="M1545 853l23-26l-14-10l-23 26z"/>
<path fill="#ed3840" stroke="#911f24" d="M1679 792l25-16l-14-10l-24 16z"/>
<path fill="#eb1923" stroke="#970e14" d="M1820 770l24-13l-14-13l-25 14z"/>
<path fill="#eb1923" stroke="#970e14" d="M1962 780l25 5l-15-20l-24-3z"/>
<path fill="#f8b9bc" stroke="#755556" d="M2103 896l24 14l-15-20l-23-16z"/>
<path fill="#ffffff" stroke="#666666" d="M2243 961l25-7l-15-9l-25 6z"/>
<path fill="#f48186" stroke="#824144" d="M1581 836l23-24l-13-9l-23 24z"/>
<path fill="#ec2731" stroke="#94161c" d="M1718 787l24-14l-14-11l-24 14z"/>
<path fill="#eb1923" stroke="#970e14" d="M1859 770l24-12l-14-14l-25 13z"/>
<path fill="#ed313a" stroke="#921c21" d="M2002 806l24 12l-15-22l-24-11z"/>
<path fill="#fce1e3" stroke="#6c6060" d="M2141 930l24 7l-14-17l-24-10z"/>
<path fill="#ffffff" stroke="#666666" d="M2283 961l24-7l-15-7l-24 7z"/>
<path fill="#fdeced" stroke="#6a6262" d="M1486 903l23-32l-14-12l-22 30z"/>
<path fill="#f16168" stroke="#883337" d="M1618 821l24-21l-14-9l-24 21z"/>
<path fill="#eb1a24" stroke="#960f15" d="M1756 785l25-13l-15-12l-24 13z"/>
<path fill="#eb1923" stroke="#970e14" d="M1898 772l25-8l-15-15l-25 9z"/>
<path fill="#f16168" stroke="#883337" d="M2040 842l25 15l-15-23l-24-16z"/>
<path fill="#fefbfb" stroke="#666565" d="M2179 953l25 1l-15-14l-24-3z"/>
<path fill="#f9c4c7" stroke="#735859" d="M1522 883l23-30l-14-10l-22 28z"/>
<path fill="#ef474f" stroke="#8e272b" d="M1656 810l23-18l-13-10l-24 18z"/>
<path fill="#eb1923" stroke="#970e14" d="M1795 784l25-14l-15-12l-24 14z"/>
<path fill="#eb1923" stroke="#970e14" d="M1937 782l25-2l-14-18l-25 2z"/>
<path fill="#f5959a" stroke="#7d494b" d="M2079 882l24 14l-14-22l-24-17z"/>
<path fill="#ffffff" stroke="#666666" d="M2218 966l25-5l-15-10l-24 3z"/>
<path fill="#f69da2" stroke="#7b4c4e" d="M1558 864l23-28l-13-9l-23 26z"/>
<path fill="#ed333c" stroke="#921d22" d="M1693 803l25-16l-14-11l-25 16z"/>
<path fill="#eb1923" stroke="#970e14" d="M1834 783l25-13l-15-13l-24 13z"/>
<path fill="#eb1923" stroke="#970e14" d="M1977 801l25 5l-15-21l-25-5z"/>
<path fill="#fac5c8" stroke="#73595a" d="M2117 920l24 10l-14-20l-24-14z"/>
<path fill="#ffffff" stroke="#666666" d="M2258 969l25-8l-15-7l-25 7z"/>
<path fill="#f3797f" stroke="#833e41" d="M1595 846l23-25l-14-9l-23 24z"/>
<path fill="#eb242d" stroke="#95151a" d="M1732 799l24-14l-14-12l-24 14z"/>
<path fill="#eb1923" stroke="#970e14" d="M1873 784l25-12l-15-14l-24 12z"/>
<path fill="#ee4048" stroke="#8f2328" d="M2016 831l24 11l-14-24l-24-12z"/>
<path fill="#fde9ea" stroke="#6b6162" d="M2155 950l24 3l-14-16l-24-7z"/>
<path fill="#fdeaeb" stroke="#6a6262" d="M1500 917l22-34l-13-12l-23 32z"/>
<path fill="#f05b62" stroke="#8a3034" d="M1632 832l24-22l-14-10l-24 21z"/>
<path fill="#eb1923" stroke="#970e14" d="M1770 797l25-13l-14-12l-25 13z"/>
<path fill="#eb1923" stroke="#970e14" d="M1913 789l24-7l-14-18l-25 8z"/>
<path fill="#f27278" stroke="#853b3e" d="M2055 869l24 13l-14-25l-25-15z"/>
<path fill="#fefbfc" stroke="#666565" d="M2194 968l24-2l-14-12l-25-1z"/>
<path fill="#f9c0c3" stroke="#745758" d="M1535 895l23-31l-13-11l-23 30z"/>
<path fill="#ee424a" stroke="#8f2529" d="M1669 821l24-18l-14-11l-23 18z"/>
<path fill="#eb1923" stroke="#970e14" d="M1809 797l25-14l-14-13l-25 14z"/>
<path fill="#eb1923" stroke="#970e14" d="M1952 803l25-2l-15-21l-25 2z"/>
<path fill="#f7a6aa" stroke="#7a4f51" d="M2093 908l24 12l-14-24l-24-14z"/>
<path fill="#fefefe" stroke="#666565" d="M2233 975l25-6l-15-8l-25 5z"/>
<path fill="#f6979c" stroke="#7d4a4c" d="M1571 875l24-29l-14-10l-23 28z"/>
<path fill="#ed3039" stroke="#921b20" d="M1708 815l24-16l-14-12l-25 16z"/>
<path fill="#eb1923" stroke="#970e14" d="M1848 797l25-13l-14-14l-25 13z"/>
<path fill="#ec2731" stroke="#94161c" d="M1991 826l25 5l-14-25l-25-5z"/>
<path fill="#fbd2d4" stroke="#705c5d" d="M2131 944l24 6l-14-20l-24-10z"/>
<path fill="#f27379" stroke="#843b3e" d="M1608 856l24-24l-14-11l-23 25z"/>
<path fill="#eb222b" stroke="#951319" d="M1746 812l24-15l-14-12l-24 14z"/>
<path fill="#eb1923" stroke="#970e14" d="M1888 800l25-11l-15-17l-25 12z"/>
<path fill="#f0535a" stroke="#8b2d31" d="M2030 859l25 10l-15-27l-24-11z"/>
<path fill="#fdeff0" stroke="#696363" d="M2170 969l24-1l-15-15l-24-3z"/>
<path fill="#fde8e9" stroke="#6b6162" d="M1513 932l22-37l-13-12l-22 34z"/>
<path fill="#f0555d" stroke="#8b2e32" d="M1646 843l23-22l-13-11l-24 22z"/>
<path fill="#eb1923" stroke="#970e14" d="M1785 811l24-14l-14-13l-25 13z"/>
<path fill="#eb1923" stroke="#970e14" d="M1927 809l25-6l-15-21l-24 7z"/>
<path fill="#f4878c" stroke="#804346" d="M2069 898l24 10l-14-26l-24-13z"/>
<path fill="#fefafa" stroke="#676565" d="M2208 982l25-7l-15-9l-24 2z"/>
<path fill="#f9bbbe" stroke="#755657" d="M1549 908l22-33l-13-11l-23 31z"/>
<path fill="#ee3f47" stroke="#8f2327" d="M1683 833l25-18l-15-12l-24 18z"/>
<path fill="#eb1923" stroke="#970e14" d="M1824 811l24-14l-14-14l-25 14z"/>
<path fill="#eb1923" stroke="#970e14" d="M1967 827l24-1l-14-25l-25 2z"/>
<path fill="#f8b8bb" stroke="#765556" d="M2107 937l24 7l-14-24l-24-12z"/>
<path fill="#f59296" stroke="#7e484a" d="M1585 886l23-30l-13-10l-24 29z"/>
<path fill="#ec2e37" stroke="#931a1f" d="M1722 828l24-16l-14-13l-24 16z"/>
<path fill="#eb1923" stroke="#970e14" d="M1863 813l25-13l-15-16l-25 13z"/>
<path fill="#ee3b44" stroke="#902126" d="M2006 855l24 4l-14-28l-25-5z"/>
<path fill="#fcdfe0" stroke="#6d5f60" d="M2145 968l25 1l-15-19l-24-6z"/>
<path fill="#f26e74" stroke="#86393c" d="M1622 868l24-25l-14-11l-24 24z"/>
<path fill="#eb212a" stroke="#951318" d="M1760 826l25-15l-15-14l-24 15z"/>
<path fill="#eb1923" stroke="#970e14" d="M1902 819l25-10l-14-20l-25 11z"/>
<path fill="#f26b71" stroke="#86383b" d="M2044 891l25 7l-14-29l-25-10z"/>
<path fill="#fef4f4" stroke="#686464" d="M2184 988l24-6l-14-14l-24 1z"/>
<path fill="#fce7e8" stroke="#6b6161" d="M1526 946l23-38l-14-13l-22 37z"/>
<path fill="#ef5259" stroke="#8b2c30" d="M1659 855l24-22l-14-12l-23 22z"/>
<path fill="#eb1923" stroke="#970e14" d="M1799 825l25-14l-15-14l-24 14z"/>
<path fill="#eb1923" stroke="#970e14" d="M1942 833l25-6l-15-24l-25 6z"/>
<path fill="#f69fa3" stroke="#7b4c4e" d="M2083 930l24 7l-14-29l-24-10z"/>
<path fill="#f8b7bb" stroke="#765456" d="M1562 920l23-34l-14-11l-22 33z"/>
<path fill="#ee3d45" stroke="#902227" d="M1697 847l25-19l-14-13l-25 18z"/>
<path fill="#eb1923" stroke="#970e14" d="M1838 827l25-14l-15-16l-24 14z"/>
<path fill="#ec2d36" stroke="#93191e" d="M1981 856l25-1l-15-29l-24 1z"/>
<path fill="#facdcf" stroke="#715b5c" d="M2121 967l24 1l-14-24l-24-7z"/>
<path fill="#f58d92" stroke="#7f4648" d="M1598 898l24-30l-14-12l-23 30z"/>
<path fill="#ec2d36" stroke="#931a1f" d="M1736 842l24-16l-14-14l-24 16z"/>
<path fill="#eb1923" stroke="#970e14" d="M1877 832l25-13l-14-19l-25 13z"/>
<path fill="#f0555d" stroke="#8b2e32" d="M2020 888l24 3l-14-32l-24-4z"/>
<path fill="#fdeced" stroke="#6a6262" d="M2159 994l25-6l-14-19l-25-1z"/>
<path fill="#f26b71" stroke="#86383b" d="M1636 880l23-25l-13-12l-24 25z"/>
<path fill="#eb222b" stroke="#951319" d="M1774 841l25-16l-14-14l-25 15z"/>
<path fill="#eb1923" stroke="#970e14" d="M1917 842l25-9l-15-24l-25 10z"/>
<path fill="#f4888d" stroke="#804446" d="M2058 926l25 4l-14-32l-25-7z"/>
<path fill="#fce5e6" stroke="#6b6161" d="M1540 960l22-40l-13-12l-23 38z"/>
<path fill="#ef5058" stroke="#8c2c30" d="M1673 869l24-22l-14-14l-24 22z"/>
<path fill="#eb1923" stroke="#970e14" d="M1813 842l25-15l-14-16l-25 14z"/>
<path fill="#ec252f" stroke="#94151b" d="M1956 861l25-5l-14-29l-25 6z"/>
<path fill="#f9bbbe" stroke="#755657" d="M2096 966l25 1l-14-30l-24-7z"/>
<path fill="#f8b4b7" stroke="#765355" d="M1575 933l23-35l-13-12l-23 34z"/>
<path fill="#ee3d46" stroke="#902227" d="M1711 862l25-20l-14-14l-25 19z"/>
<path fill="#eb1923" stroke="#970e14" d="M1853 845l24-13l-14-19l-25 14z"/>
<path fill="#ef484f" stroke="#8d272c" d="M1995 889l25-1l-14-33l-25 1z"/>
<path fill="#fce3e5" stroke="#6c6061" d="M2134 999l25-5l-14-26l-24-1z"/>
<path fill="#f48a90" stroke="#804547" d="M1612 911l24-31l-14-12l-24 30z"/>
<path fill="#ec2f38" stroke="#921b20" d="M1750 858l24-17l-14-15l-24 16z"/>
<path fill="#eb1923" stroke="#970e14" d="M1892 854l25-12l-15-23l-25 13z"/>
<path fill="#f3767c" stroke="#843d40" d="M2034 926l24 0l-14-35l-24-3z"/>
<path fill="#f26a70" stroke="#86373b" d="M1649 894l24-25l-14-14l-23 25z"/>
<path fill="#ec252e" stroke="#94151b" d="M1789 858l24-16l-14-17l-25 16z"/>
<path fill="#ec252e" stroke="#94151a" d="M1931 870l25-9l-14-28l-25 9z"/>
<path fill="#f7abae" stroke="#795052" d="M2072 967l24-1l-13-36l-25-4z"/>
<path fill="#fce4e5" stroke="#6c6061" d="M1553 975l22-42l-13-13l-22 40z"/>
<path fill="#ef5159" stroke="#8b2c30" d="M1687 884l24-22l-14-15l-24 22z"/>
<path fill="#eb1f29" stroke="#951218" d="M1828 861l25-16l-15-18l-25 15z"/>
<path fill="#ee4049" stroke="#8f2428" d="M1970 894l25-5l-14-33l-25 5z"/>
<path fill="#fbdbdc" stroke="#6e5e5f" d="M2110 1005l24-6l-13-32l-25-1z"/>
<path fill="#f8b2b6" stroke="#775354" d="M1589 947l23-36l-14-13l-23 35z"/>
<path fill="#ee4048" stroke="#8f2328" d="M1725 878l25-20l-14-16l-25 20z"/>
<path fill="#eb1f29" stroke="#951218" d="M1867 868l25-14l-15-22l-24 13z"/>
<path fill="#f26a71" stroke="#86373b" d="M2009 928l25-2l-14-38l-25 1z"/>
<path fill="#f48a8f" stroke="#804547" d="M1626 925l23-31l-13-14l-24 31z"/>
<path fill="#ed343c" stroke="#911d22" d="M1764 876l25-18l-15-17l-24 17z"/>
<path fill="#ec2932" stroke="#94171d" d="M1906 881l25-11l-14-28l-25 12z"/>
<path fill="#f69ea2" stroke="#7b4c4e" d="M2047 969l25-2l-14-41l-24 0z"/>
<path fill="#f26b71" stroke="#86383b" d="M1663 910l24-26l-14-15l-24 25z"/>
<path fill="#ec2c35" stroke="#93191e" d="M1803 878l25-17l-15-19l-24 16z"/>
<path fill="#ee3f47" stroke="#8f2328" d="M1945 903l25-9l-14-33l-25 9z"/>
<path fill="#fbd3d5" stroke="#6f5c5d" d="M2085 1012l25-7l-14-39l-24 1z"/>
<path fill="#fce3e5" stroke="#6c6061" d="M1566 989l23-42l-14-14l-22 42z"/>
<path fill="#f0555c" stroke="#8b2e32" d="M1701 901l24-23l-14-16l-24 22z"/>
<path fill="#ec2a33" stroke="#93181d" d="M1842 883l25-15l-14-23l-25 16z"/>
<path fill="#f1646a" stroke="#883538" d="M1984 934l25-6l-14-39l-25 5z"/>
<path fill="#f8b2b5" stroke="#775354" d="M1602 961l24-36l-14-14l-23 36z"/>
<path fill="#ee454d" stroke="#8e262b" d="M1740 897l24-21l-14-18l-25 20z"/>
<path fill="#ed3139" stroke="#921b20" d="M1881 895l25-14l-14-27l-25 14z"/>
<path fill="#f5959a" stroke="#7d494b" d="M2022 974l25-5l-13-43l-25 2z"/>
<path fill="#f48b90" stroke="#7f4548" d="M1639 941l24-31l-14-16l-23 31z"/>
<path fill="#ee3c44" stroke="#902126" d="M1778 897l25-19l-14-20l-25 18z"/>
<path fill="#ee424a" stroke="#8f2529" d="M1920 913l25-10l-14-33l-25 11z"/>
<path fill="#faced0" stroke="#715b5c" d="M2060 1019l25-7l-13-45l-25 2z"/>
<path fill="#f26f75" stroke="#85393d" d="M1677 927l24-26l-14-17l-24 26z"/>
<path fill="#ed3740" stroke="#911f24" d="M1817 901l25-18l-14-22l-25 17z"/>
<path fill="#f16269" stroke="#883437" d="M1959 942l25-8l-14-40l-25 9z"/>
<path fill="#fce3e4" stroke="#6c6061" d="M1580 1003l22-42l-13-14l-23 42z"/>
<path fill="#f05b62" stroke="#8a3134" d="M1715 920l25-23l-15-19l-24 23z"/>
<path fill="#ee3b44" stroke="#902126" d="M1856 910l25-15l-14-27l-25 15z"/>
<path fill="#f59195" stroke="#7e474a" d="M1997 981l25-7l-13-46l-25 6z"/>
<path fill="#f8b3b6" stroke="#775355" d="M1616 976l23-35l-13-16l-24 36z"/>
<path fill="#ef4e56" stroke="#8c2a2f" d="M1754 918l24-21l-14-21l-24 21z"/>
<path fill="#ef4951" stroke="#8d282c" d="M1895 926l25-13l-14-32l-25 14z"/>
<path fill="#facacc" stroke="#725a5b" d="M2035 1027l25-8l-13-50l-25 5z"/>
<path fill="#f58f94" stroke="#7f4749" d="M1653 958l24-31l-14-17l-24 31z"/>
<path fill="#ef474f" stroke="#8d272c" d="M1792 920l25-19l-14-23l-25 19z"/>
<path fill="#f1646b" stroke="#883538" d="M1934 952l25-10l-14-39l-25 10z"/>
<path fill="#f3757b" stroke="#843c3f" d="M1691 946l24-26l-14-19l-24 26z"/>
<path fill="#ef4850" stroke="#8d282c" d="M1831 927l25-17l-14-27l-25 18z"/>
<path fill="#f58f94" stroke="#7f4749" d="M1972 989l25-8l-13-47l-25 8z"/>
<path fill="#fce4e5" stroke="#6c6061" d="M1593 1018l23-42l-14-15l-22 42z"/>
<path fill="#f1646b" stroke="#883538" d="M1729 941l25-23l-14-21l-25 23z"/>
<path fill="#f0535a" stroke="#8b2d31" d="M1870 941l25-15l-14-31l-25 15z"/>
<path fill="#fac8ca" stroke="#72595a" d="M2010 1035l25-8l-13-53l-25 7z"/>
<path fill="#f8b6b9" stroke="#765455" d="M1629 992l24-34l-14-17l-23 35z"/>
<path fill="#f05a61" stroke="#8a3034" d="M1768 941l24-21l-14-23l-24 21z"/>
<path fill="#f26a71" stroke="#86373b" d="M1909 964l25-12l-14-39l-25 13z"/>
<path fill="#f59599" stroke="#7d494b" d="M1667 976l24-30l-14-19l-24 31z"/>
<path fill="#f0585f" stroke="#8a2f33" d="M1806 946l25-19l-14-26l-25 19z"/>
<path fill="#f59196" stroke="#7e474a" d="M1948 998l24-9l-13-47l-25 10z"/>
<path fill="#f37e84" stroke="#824043" d="M1705 967l24-26l-14-21l-24 26z"/>
<path fill="#f15f66" stroke="#893236" d="M1845 957l25-16l-14-31l-25 17z"/>
<path fill="#fac8ca" stroke="#72595a" d="M1986 1043l24-8l-13-54l-25 8z"/>
<path fill="#fce5e6" stroke="#6b6061" d="M1606 1032l23-40l-13-16l-23 42z"/>
<path fill="#f27077" stroke="#853a3d" d="M1743 963l25-22l-14-23l-25 23z"/>
<path fill="#f27278" stroke="#853b3e" d="M1884 978l25-14l-14-38l-25 15z"/>
<path fill="#f9babd" stroke="#755557" d="M1643 1009l24-33l-14-18l-24 34z"/>
<path fill="#f26b71" stroke="#86383b" d="M1782 966l24-20l-14-26l-24 21z"/>
<path fill="#f5959a" stroke="#7d494b" d="M1923 1009l25-11l-14-46l-25 12z"/>
<path fill="#f69da1" stroke="#7c4c4e" d="M1681 995l24-28l-14-21l-24 30z"/>
<path fill="#f26e74" stroke="#86393c" d="M1820 975l25-18l-14-30l-25 19z"/>
<path fill="#fac9cb" stroke="#725a5b" d="M1961 1052l25-9l-14-54l-24 9z"/>
<path fill="#f48a8f" stroke="#804547" d="M1719 988l24-25l-14-22l-24 26z"/>
<path fill="#f37d83" stroke="#824042" d="M1859 992l25-14l-14-37l-25 16z"/>
<path fill="#fce7e8" stroke="#6b6161" d="M1619 1046l24-37l-14-17l-23 40z"/>
<path fill="#f38085" stroke="#824143" d="M1757 988l25-22l-14-25l-25 22z"/>
<path fill="#f69b9f" stroke="#7c4b4d" d="M1898 1020l25-11l-14-45l-25 14z"/>
<path fill="#f9c0c3" stroke="#745758" d="M1657 1026l24-31l-14-19l-24 33z"/>
<path fill="#f37f85" stroke="#824043" d="M1796 994l24-19l-14-29l-24 20z"/>
<path fill="#facbcd" stroke="#715a5b" d="M1936 1061l25-9l-13-54l-25 11z"/>
<path fill="#f7a6aa" stroke="#7a4f51" d="M1694 1015l25-27l-14-21l-24 28z"/>
<path fill="#f48a8f" stroke="#804547" d="M1834 1008l25-16l-14-35l-25 18z"/>
<path fill="#f6989c" stroke="#7d4a4c" d="M1732 1011l25-23l-14-25l-24 25z"/>
<path fill="#f7a3a7" stroke="#7a4e50" d="M1873 1033l25-13l-14-42l-25 14z"/>
<path fill="#fde9ea" stroke="#6b6162" d="M1633 1061l24-35l-14-17l-24 37z"/>
<path fill="#f59397" stroke="#7e484a" d="M1771 1015l25-21l-14-28l-25 22z"/>
<path fill="#faced0" stroke="#715b5c" d="M1911 1069l25-8l-13-52l-25 11z"/>
<path fill="#fac7c9" stroke="#72595a" d="M1670 1044l24-29l-13-20l-24 31z"/>
<path fill="#f6999d" stroke="#7c4a4c" d="M1809 1025l25-17l-14-33l-24 19z"/>
<path fill="#f8b2b5" stroke="#775354" d="M1708 1036l24-25l-13-23l-25 27z"/>
<path fill="#f7acb0" stroke="#785153" d="M1848 1046l25-13l-14-41l-25 16z"/>
<path fill="#f7a8ac" stroke="#794f51" d="M1746 1036l25-21l-14-27l-25 23z"/>
<path fill="#fbd2d4" stroke="#705c5d" d="M1886 1078l25-9l-13-49l-25 13z"/>
<path fill="#fdebec" stroke="#6a6262" d="M1646 1075l24-31l-13-18l-24 35z"/>
<path fill="#f7a9ad" stroke="#795052" d="M1785 1043l24-18l-13-31l-25 21z"/>
<path fill="#facfd1" stroke="#715b5c" d="M1684 1062l24-26l-14-21l-24 29z"/>
<path fill="#f8b7ba" stroke="#765456" d="M1823 1059l25-13l-14-38l-25 17z"/>
<path fill="#f9bfc2" stroke="#745758" d="M1721 1058l25-22l-14-25l-24 25z"/>
<path fill="#fbd6d8" stroke="#6f5d5e" d="M1861 1087l25-9l-13-45l-25 13z"/>
<path fill="#f9bbbe" stroke="#755557" d="M1760 1061l25-18l-14-28l-25 21z"/>
<path fill="#fdeeef" stroke="#696263" d="M1659 1089l25-27l-14-18l-24 31z"/>
<path fill="#f9c3c6" stroke="#735859" d="M1798 1074l25-15l-14-34l-24 18z"/>
<path fill="#fbd7d9" stroke="#6f5d5e" d="M1697 1080l24-22l-13-22l-24 26z"/>
<path fill="#fbdbdd" stroke="#6e5e5f" d="M1837 1097l24-10l-13-41l-25 13z"/>
<path fill="#facdcf" stroke="#715b5c" d="M1735 1080l25-19l-14-25l-25 22z"/>
<path fill="#fad0d2" stroke="#705b5c" d="M1773 1088l25-14l-13-31l-25 18z"/>
<path fill="#fdf1f2" stroke="#696363" d="M1673 1104l24-24l-13-18l-25 27z"/>
<path fill="#fce1e2" stroke="#6c6060" d="M1812 1106l25-9l-14-38l-25 15z"/>
<path fill="#fce1e2" stroke="#6c6060" d="M1710 1099l25-19l-14-22l-24 22z"/>
<path fill="#fcddde" stroke="#6d5f5f" d="M1749 1103l24-15l-13-27l-25 19z"/>
<path fill="#fce7e8" stroke="#6b6161" d="M1787 1116l25-10l-14-32l-25 14z"/>
<path fill="#fef4f5" stroke="#686464" d="M1686 1118l24-19l-13-19l-24 24z"/>
<path fill="#fdeaeb" stroke="#6a6262" d="M1724 1118l25-15l-14-23l-25 19z"/>
<path fill="#fdedee" stroke="#6a6263" d="M1762 1126l25-10l-14-28l-24 15z"/>
<path fill="#fef8f8" stroke="#676464" d="M1699 1132l25-14l-14-19l-24 19z"/>
<path fill="#fef4f5" stroke="#686464" d="M1737 1136l25-10l-13-23l-25 15z"/>
<path fill="#fefbfb" stroke="#666565" d="M1712 1146l25-10l-13-18l-25 14z"/>
</g>
<line x1="142.90" y1="63.30" x2="215.60" y2="41.30" stroke="#0a0a0a" stroke-width="1.25" stroke-linecap="round"/>
<line x1="215.60" y1="41.30" x2="247.60" y2="67.00" stroke="#0a0a0a" stroke-width="1.25" stroke-linecap="round"/>
<line x1="247.60" y1="67.00" x2="171.10" y2="90.40" stroke="#0a0a0a" stroke-width="1.25" stroke-linecap="round"/>
<line x1="171.10" y1="90.40" x2="142.90" y2="63.30" stroke="#0a0a0a" stroke-width="1.25" stroke-linecap="round"/>
<line x1="142.90" y1="63.30" x2="146.40" y2="108.70" stroke="#0a0a0a" stroke-width="1.25" stroke-linecap="round"/>
<line x1="171.10" y1="90.40" x2="171.40" y2="138.90" stroke="#0a0a0a" stroke-width="1.25" stroke-linecap="round"/>
<line x1="247.60" y1="67.00" x2="243.60" y2="114.30" stroke="#0a0a0a" stroke-width="1.25" stroke-linecap="round"/>
<line x1="146.40" y1="108.70" x2="171.40" y2="138.90" stroke="#0a0a0a" stroke-width="1.25" stroke-linecap="round"/>
<line x1="171.40" y1="138.90" x2="243.60" y2="114.30" stroke="#0a0a0a" stroke-width="1.25" stroke-linecap="round"/>
<line x1="140.84" y1="67.66" x2="143.24" y2="67.66" stroke="#1a1a1a" stroke-width="0.8" />
<text x="138.34" y="69.96" font-size="6.5" text-anchor="end" font-weight="normal" fill="#111" >40</text>
<line x1="141.54" y1="76.83" x2="143.94" y2="76.83" stroke="#1a1a1a" stroke-width="0.8" />
<text x="139.04" y="79.13" font-size="6.5" text-anchor="end" font-weight="normal" fill="#111" >20</text>
<line x1="142.25" y1="86.00" x2="144.65" y2="86.00" stroke="#1a1a1a" stroke-width="0.8" />
<text x="139.75" y="88.30" font-size="6.5" text-anchor="end" font-weight="normal" fill="#111" >0</text>
<line x1="142.96" y1="95.17" x2="145.36" y2="95.17" stroke="#1a1a1a" stroke-width="0.8" />
<text x="140.46" y="97.47" font-size="6.5" text-anchor="end" font-weight="normal" fill="#111" >−20</text>
<line x1="143.66" y1="104.34" x2="146.06" y2="104.34" stroke="#1a1a1a" stroke-width="0.8" />
<text x="141.16" y="106.64" font-size="6.5" text-anchor="end" font-weight="normal" fill="#111" >−40</text>
<line x1="146.90" y1="109.30" x2="145.00" y2="110.80" stroke="#1a1a1a" stroke-width="0.8" />
<text x="138.30" y="116.70" font-size="6.5" text-anchor="middle" font-weight="normal" fill="#111" >200</text>
<line x1="153.65" y1="117.46" x2="151.75" y2="118.96" stroke="#1a1a1a" stroke-width="0.8" />
<text x="144.20" y="124.70" font-size="6.5" text-anchor="middle" font-weight="normal" fill="#111" >100</text>
<line x1="159.90" y1="125.01" x2="158.00" y2="126.51" stroke="#1a1a1a" stroke-width="0.8" />
<text x="152.30" y="132.40" font-size="6.5" text-anchor="middle" font-weight="normal" fill="#111" >50</text>
<line x1="166.28" y1="132.71" x2="164.38" y2="134.21" stroke="#1a1a1a" stroke-width="0.8" />
<text x="157.20" y="140.70" font-size="6.5" text-anchor="middle" font-weight="normal" fill="#111" >12.5</text>
<line x1="182.52" y1="135.11" x2="183.52" y2="137.51" stroke="#1a1a1a" stroke-width="0.8" />
<text x="185.00" y="147.70" font-size="6.5" text-anchor="middle" font-weight="normal" fill="#111" >0.5</text>
<line x1="194.36" y1="131.08" x2="195.36" y2="133.48" stroke="#1a1a1a" stroke-width="0.8" />
<text x="197.20" y="142.50" font-size="6.5" text-anchor="middle" font-weight="normal" fill="#111" >1</text>
<line x1="206.20" y1="127.04" x2="207.20" y2="129.44" stroke="#1a1a1a" stroke-width="0.8" />
<text x="208.50" y="138.00" font-size="6.5" text-anchor="middle" font-weight="normal" fill="#111" >2</text>
<line x1="218.69" y1="122.79" x2="219.69" y2="125.19" stroke="#1a1a1a" stroke-width="0.8" />
<text x="220.60" y="133.40" font-size="6.5" text-anchor="middle" font-weight="normal" fill="#111" >4</text>
<line x1="230.89" y1="118.63" x2="231.89" y2="121.03" stroke="#1a1a1a" stroke-width="0.8" />
<text x="232.60" y="129.30" font-size="6.5" text-anchor="middle" font-weight="normal" fill="#111" >8</text>
<line x1="243.09" y1="114.47" x2="244.09" y2="116.87" stroke="#1a1a1a" stroke-width="0.8" />
<text x="245.30" y="125.60" font-size="6.5" text-anchor="middle" font-weight="normal" fill="#111" >16</text>
<text transform="translate(214.6,147.4) rotate(-19.5) scale(0.68,1)" font-size="7.2" text-anchor="middle" fill="#000" stroke="#000" stroke-width="0.22">Carfilzomib (nM)</text>
<text transform="translate(139.0,140.3) rotate(49.5) scale(0.68,1)" font-size="7.2" text-anchor="middle" fill="#000" stroke="#000" stroke-width="0.22">Subasumstat (nM)</text>
<text x="328.00" y="9.00" font-size="9.4" text-anchor="middle" font-weight="normal" fill="#111" >OPM2</text>
<text x="328.20" y="20.30" font-size="7.6" text-anchor="middle" font-weight="normal" fill="#111" >ZIP synergy score: 7.789</text>
<defs><linearGradient id="cb135" x1="0" y1="0" x2="1" y2="0"><stop offset="0" stop-color="#5fa544"/><stop offset="0.238" stop-color="#b3d6a3"/><stop offset="0.446" stop-color="#ffffff"/><stop offset="0.506" stop-color="#ffffff"/><stop offset="0.738" stop-color="#ee93a1"/><stop offset="1" stop-color="#cc1a3c"/></linearGradient></defs>
<rect x="269.70" y="34.40" width="119.50" height="1.90" fill="url(#cb135)" />
<text x="268.00" y="29.90" font-size="6.5" text-anchor="middle" font-weight="normal" fill="#111" >−40</text>
<text x="282.65" y="29.90" font-size="6.5" text-anchor="middle" font-weight="normal" fill="#111" >−30</text>
<text x="297.30" y="29.90" font-size="6.5" text-anchor="middle" font-weight="normal" fill="#111" >−20</text>
<text x="311.95" y="29.90" font-size="6.5" text-anchor="middle" font-weight="normal" fill="#111" >−10</text>
<text x="326.60" y="29.90" font-size="6.5" text-anchor="middle" font-weight="normal" fill="#111" >0</text>
<text x="341.25" y="29.90" font-size="6.5" text-anchor="middle" font-weight="normal" fill="#111" >10</text>
<text x="355.90" y="29.90" font-size="6.5" text-anchor="middle" font-weight="normal" fill="#111" >20</text>
<text x="370.55" y="29.90" font-size="6.5" text-anchor="middle" font-weight="normal" fill="#111" >30</text>
<text x="385.20" y="29.90" font-size="6.5" text-anchor="middle" font-weight="normal" fill="#111" >40</text>
<line x1="350.60" y1="41.30" x2="350.30" y2="87.30" stroke="#111" stroke-width="1.25" stroke-dasharray="2.4,2.4"/>
<line x1="281.40" y1="108.70" x2="350.30" y2="87.30" stroke="#111" stroke-width="1.25" stroke-dasharray="2.4,2.4"/>
<line x1="378.60" y1="114.30" x2="350.30" y2="87.30" stroke="#111" stroke-width="1.25" stroke-dasharray="2.4,2.4"/>
<g transform="scale(0.1)" stroke-width="5.2" stroke-linejoin="round">
<path fill="#fdf1f1" stroke="#696363" d="M3496 654l24-7l-15-16l-24 8z"/>
<path fill="#fdf1f1" stroke="#696363" d="M3472 662l24-8l-15-15l-24 7z"/>
<path fill="#fef4f4" stroke="#686464" d="M3511 670l24-8l-15-15l-24 7z"/>
<path fill="#fdf1f2" stroke="#696363" d="M3449 669l23-7l-15-16l-23 7z"/>
<path fill="#fef4f5" stroke="#686464" d="M3487 678l24-8l-15-16l-24 8z"/>
<path fill="#fef7f7" stroke="#676464" d="M3526 685l24-7l-15-16l-24 8z"/>
<path fill="#fdf1f2" stroke="#696363" d="M3425 677l24-8l-15-16l-24 8z"/>
<path fill="#fef5f5" stroke="#686464" d="M3464 685l23-7l-15-16l-23 7z"/>
<path fill="#fef7f8" stroke="#676464" d="M3502 693l24-8l-15-15l-24 8z"/>
<path fill="#fdf1f2" stroke="#696363" d="M3401 684l24-7l-15-16l-24 7z"/>
<path fill="#fefafa" stroke="#676565" d="M3541 701l24-8l-15-15l-24 7z"/>
<path fill="#fef5f5" stroke="#686464" d="M3440 693l24-8l-15-16l-24 8z"/>
<path fill="#fef8f8" stroke="#676464" d="M3478 701l24-8l-15-15l-23 7z"/>
<path fill="#fdf0f1" stroke="#696363" d="M3378 690l23-6l-15-16l-23 6z"/>
<path fill="#fefbfb" stroke="#666565" d="M3517 709l24-8l-15-16l-24 8z"/>
<path fill="#fef5f5" stroke="#686464" d="M3416 700l24-7l-15-16l-24 7z"/>
<path fill="#fefdfd" stroke="#666565" d="M3556 717l24-9l-15-15l-24 8z"/>
<path fill="#fef8f8" stroke="#676464" d="M3455 708l23-7l-14-16l-24 8z"/>
<path fill="#fdeff0" stroke="#696363" d="M3354 696l24-6l-15-16l-24 6z"/>
<path fill="#fefbfb" stroke="#666565" d="M3493 717l24-8l-15-16l-24 8z"/>
<path fill="#fef4f4" stroke="#686464" d="M3392 706l24-6l-15-16l-23 6z"/>
<path fill="#fefefe" stroke="#666565" d="M3532 725l24-8l-15-16l-24 8z"/>
<path fill="#fef8f8" stroke="#676464" d="M3431 715l24-7l-15-15l-24 7z"/>
<path fill="#ffffff" stroke="#666666" d="M3571 732l24-8l-15-16l-24 9z"/>
<path fill="#fdeded" stroke="#6a6262" d="M3330 701l24-5l-15-16l-24 5z"/>
<path fill="#fefbfb" stroke="#666565" d="M3469 724l24-7l-15-16l-23 7z"/>
<path fill="#fdf2f3" stroke="#686363" d="M3369 712l23-6l-14-16l-24 6z"/>
<path fill="#fefefe" stroke="#666565" d="M3508 732l24-7l-15-16l-24 8z"/>
<path fill="#fef7f7" stroke="#676464" d="M3407 721l24-6l-15-15l-24 6z"/>
<path fill="#ffffff" stroke="#666666" d="M3547 740l24-8l-15-15l-24 8z"/>
<path fill="#fde9ea" stroke="#6b6162" d="M3306 705l24-4l-15-16l-23 4z"/>
<path fill="#fefbfb" stroke="#666565" d="M3446 730l23-6l-14-16l-24 7z"/>
<path fill="#ffffff" stroke="#666666" d="M3586 748l24-9l-15-15l-24 8z"/>
<path fill="#fdf0f0" stroke="#696363" d="M3345 716l24-4l-15-16l-24 5z"/>
<path fill="#fefefe" stroke="#666565" d="M3484 739l24-7l-15-15l-24 7z"/>
<path fill="#fef5f5" stroke="#686464" d="M3383 727l24-6l-15-15l-23 6z"/>
<path fill="#ffffff" stroke="#666666" d="M3523 748l24-8l-15-15l-24 7z"/>
<path fill="#fce4e5" stroke="#6c6061" d="M3283 708l23-3l-14-16l-24 3z"/>
<path fill="#fef9fa" stroke="#676565" d="M3422 736l24-6l-15-15l-24 6z"/>
<path fill="#ffffff" stroke="#666666" d="M3562 756l24-8l-15-16l-24 8z"/>
<path fill="#fdecec" stroke="#6a6262" d="M3321 720l24-4l-15-15l-24 4z"/>
<path fill="#fefdfd" stroke="#666565" d="M3460 746l24-7l-15-15l-23 6z"/>
<path fill="#ffffff" stroke="#666666" d="M3601 764l24-9l-15-16l-24 9z"/>
<path fill="#fdf2f2" stroke="#686363" d="M3359 731l24-4l-14-15l-24 4z"/>
<path fill="#ffffff" stroke="#666666" d="M3499 755l24-7l-15-16l-24 7z"/>
<path fill="#fcdddf" stroke="#6d5f5f" d="M3259 709l24-1l-15-16l-24 2z"/>
<path fill="#fef7f7" stroke="#676464" d="M3398 742l24-6l-15-15l-24 6z"/>
<path fill="#ffffff" stroke="#666666" d="M3538 764l24-8l-15-16l-24 8z"/>
<path fill="#fce6e7" stroke="#6b6161" d="M3297 723l24-3l-15-15l-23 3z"/>
<path fill="#fefcfc" stroke="#666565" d="M3437 751l23-5l-14-16l-24 6z"/>
<path fill="#ffffff" stroke="#666666" d="M3577 772l24-8l-15-16l-24 8z"/>
<path fill="#fdeeee" stroke="#696263" d="M3336 735l23-4l-14-15l-24 4z"/>
<path fill="#ffffff" stroke="#666666" d="M3475 761l24-6l-15-16l-24 7z"/>
<path fill="#ffffff" stroke="#666666" d="M3616 780l24-10l-15-15l-24 9z"/>
<path fill="#fbd6d7" stroke="#6f5d5e" d="M3235 710l24-1l-15-15l-24 2z"/>
<path fill="#fef4f4" stroke="#686464" d="M3374 746l24-4l-15-15l-24 4z"/>
<path fill="#ffffff" stroke="#666666" d="M3514 770l24-6l-15-16l-24 7z"/>
<path fill="#fcdfe1" stroke="#6d5f60" d="M3273 724l24-1l-14-15l-24 1z"/>
<path fill="#fef9f9" stroke="#676565" d="M3413 756l24-5l-15-15l-24 6z"/>
<path fill="#ffffff" stroke="#666666" d="M3553 779l24-7l-15-16l-24 8z"/>
<path fill="#fde8e9" stroke="#6b6162" d="M3312 737l24-2l-15-15l-24 3z"/>
<path fill="#fefefe" stroke="#666565" d="M3451 766l24-5l-15-15l-23 5z"/>
<path fill="#ffffff" stroke="#666666" d="M3592 788l24-8l-15-16l-24 8z"/>
<path fill="#facdcf" stroke="#715b5c" d="M3211 711l24-1l-15-14l-23 1z"/>
<path fill="#fdeff0" stroke="#696363" d="M3350 749l24-3l-15-15l-23 4z"/>
<path fill="#ffffff" stroke="#666666" d="M3490 776l24-6l-15-15l-24 6z"/>
<path fill="#ffffff" stroke="#666666" d="M3630 795l25-9l-15-16l-24 10z"/>
<path fill="#fbd7d9" stroke="#6f5d5e" d="M3249 725l24-1l-14-15l-24 1z"/>
<path fill="#fef5f6" stroke="#686464" d="M3389 760l24-4l-15-14l-24 4z"/>
<path fill="#ffffff" stroke="#666666" d="M3529 786l24-7l-15-15l-24 6z"/>
<path fill="#fce1e2" stroke="#6c6060" d="M3288 738l24-1l-15-14l-24 1z"/>
<path fill="#fefbfb" stroke="#666565" d="M3427 771l24-5l-14-15l-24 5z"/>
<path fill="#ffffff" stroke="#666666" d="M3567 795l25-7l-15-16l-24 7z"/>
<path fill="#f9c5c7" stroke="#735859" d="M3187 712l24-1l-14-14l-24 1z"/>
<path fill="#fde9ea" stroke="#6a6162" d="M3326 751l24-2l-14-14l-24 2z"/>
<path fill="#ffffff" stroke="#666666" d="M3466 781l24-5l-15-15l-24 5z"/>
<path fill="#ffffff" stroke="#666666" d="M3606 804l24-9l-14-15l-24 8z"/>
<path fill="#faced0" stroke="#715b5c" d="M3225 725l24 0l-14-15l-24 1z"/>
<path fill="#fdf1f1" stroke="#696363" d="M3365 763l24-3l-15-14l-24 3z"/>
<path fill="#ffffff" stroke="#666666" d="M3505 792l24-6l-15-16l-24 6z"/>
<path fill="#ffffff" stroke="#666666" d="M3645 811l25-10l-15-15l-25 9z"/>
<path fill="#fbd8da" stroke="#6e5e5e" d="M3264 739l24-1l-15-14l-24 1z"/>
<path fill="#fef7f7" stroke="#676464" d="M3403 775l24-4l-14-15l-24 4z"/>
<path fill="#ffffff" stroke="#666666" d="M3543 802l24-7l-14-16l-24 7z"/>
<path fill="#f9bdc0" stroke="#755657" d="M3163 713l24-1l-14-14l-24 2z"/>
<path fill="#fce2e3" stroke="#6c6060" d="M3302 753l24-2l-14-14l-24 1z"/>
<path fill="#fefdfd" stroke="#666565" d="M3442 786l24-5l-15-15l-24 5z"/>
<path fill="#ffffff" stroke="#666666" d="M3582 811l24-7l-14-16l-25 7z"/>
<path fill="#f9c5c7" stroke="#73585a" d="M3201 725l24 0l-14-14l-24 1z"/>
<path fill="#fdeaeb" stroke="#6a6262" d="M3341 766l24-3l-15-14l-24 2z"/>
<path fill="#ffffff" stroke="#666666" d="M3481 797l24-5l-15-16l-24 5z"/>
<path fill="#ffffff" stroke="#666666" d="M3621 820l24-9l-15-16l-24 9z"/>
<path fill="#facfd1" stroke="#705b5c" d="M3240 739l24 0l-15-14l-24 0z"/>
<path fill="#fdf2f2" stroke="#686363" d="M3379 778l24-3l-14-15l-24 3z"/>
<path fill="#ffffff" stroke="#666666" d="M3519 807l24-5l-14-16l-24 6z"/>
<path fill="#ffffff" stroke="#666666" d="M3660 827l25-11l-15-15l-25 10z"/>
<path fill="#f8b6b9" stroke="#765456" d="M3139 716l24-3l-14-13l-24 3z"/>
<path fill="#fbd9db" stroke="#6e5e5e" d="M3278 753l24 0l-14-15l-24 1z"/>
<path fill="#fef8f9" stroke="#676465" d="M3418 789l24-3l-15-15l-24 4z"/>
<path fill="#ffffff" stroke="#666666" d="M3558 818l24-7l-15-16l-24 7z"/>
<path fill="#f9bdbf" stroke="#755657" d="M3177 727l24-2l-14-13l-24 1z"/>
<path fill="#fce3e4" stroke="#6c6061" d="M3317 767l24-1l-15-15l-24 2z"/>
<path fill="#ffffff" stroke="#666666" d="M3457 801l24-4l-15-16l-24 5z"/>
<path fill="#ffffff" stroke="#666666" d="M3597 828l24-8l-15-16l-24 7z"/>
<path fill="#fac5c8" stroke="#73595a" d="M3216 739l24 0l-15-14l-24 0z"/>
<path fill="#fdebec" stroke="#6a6262" d="M3355 780l24-2l-14-15l-24 3z"/>
<path fill="#ffffff" stroke="#666666" d="M3495 812l24-5l-14-15l-24 5z"/>
<path fill="#ffffff" stroke="#666666" d="M3636 836l24-9l-15-16l-24 9z"/>
<path fill="#f8b1b5" stroke="#775354" d="M3115 720l24-4l-14-13l-24 5z"/>
<path fill="#fad0d2" stroke="#705b5c" d="M3254 753l24 0l-14-14l-24 0z"/>
<path fill="#fdf3f3" stroke="#686364" d="M3394 792l24-3l-15-14l-24 3z"/>
<path fill="#ffffff" stroke="#666666" d="M3534 823l24-5l-15-16l-24 5z"/>
<path fill="#ffffff" stroke="#666666" d="M3675 842l25-11l-15-15l-25 11z"/>
<path fill="#f8b5b9" stroke="#765455" d="M3153 729l24-2l-14-14l-24 3z"/>
<path fill="#fbdadc" stroke="#6e5e5f" d="M3293 767l24 0l-15-14l-24 0z"/>
<path fill="#fefafa" stroke="#676565" d="M3433 804l24-3l-15-15l-24 3z"/>
<path fill="#ffffff" stroke="#666666" d="M3573 834l24-6l-15-17l-24 7z"/>
<path fill="#f9bdc0" stroke="#755657" d="M3192 740l24-1l-15-14l-24 2z"/>
<path fill="#fce4e5" stroke="#6c6061" d="M3331 781l24-1l-14-14l-24 1z"/>
<path fill="#ffffff" stroke="#666666" d="M3471 816l24-4l-14-15l-24 4z"/>
<path fill="#ffffff" stroke="#666666" d="M3612 844l24-8l-15-16l-24 8z"/>
<path fill="#f7aeb1" stroke="#785153" d="M3091 724l24-4l-14-12l-24 5z"/>
<path fill="#fac6c9" stroke="#72595a" d="M3230 753l24 0l-14-14l-24 0z"/>
<path fill="#fdeced" stroke="#6a6262" d="M3370 794l24-2l-15-14l-24 2z"/>
<path fill="#ffffff" stroke="#666666" d="M3510 828l24-5l-15-16l-24 5z"/>
<path fill="#ffffff" stroke="#666666" d="M3651 851l24-9l-15-15l-24 9z"/>
<path fill="#f8b0b3" stroke="#775254" d="M3129 732l24-3l-14-13l-24 4z"/>
<path fill="#fbd1d3" stroke="#705c5c" d="M3269 767l24 0l-15-14l-24 0z"/>
<path fill="#fef4f5" stroke="#686464" d="M3409 807l24-3l-15-15l-24 3z"/>
<path fill="#ffffff" stroke="#666666" d="M3549 840l24-6l-15-16l-24 5z"/>
<path fill="#ffffff" stroke="#666666" d="M3690 856l24-11l-14-14l-25 11z"/>
<path fill="#f8b5b8" stroke="#765455" d="M3168 742l24-2l-15-13l-24 2z"/>
<path fill="#fbdbdc" stroke="#6e5e5f" d="M3307 782l24-1l-14-14l-24 0z"/>
<path fill="#fefcfc" stroke="#666565" d="M3447 819l24-3l-14-15l-24 3z"/>
<path fill="#ffffff" stroke="#666666" d="M3587 851l25-7l-15-16l-24 6z"/>
<path fill="#f7abae" stroke="#795052" d="M3067 730l24-6l-14-11l-24 6z"/>
<path fill="#f9bdc0" stroke="#745658" d="M3206 754l24-1l-14-14l-24 1z"/>
<path fill="#fce4e6" stroke="#6c6061" d="M3346 795l24-1l-15-14l-24 1z"/>
<path fill="#ffffff" stroke="#666666" d="M3486 832l24-4l-15-16l-24 4z"/>
<path fill="#ffffff" stroke="#666666" d="M3626 860l25-9l-15-15l-24 8z"/>
<path fill="#f7abaf" stroke="#785152" d="M3105 737l24-5l-14-12l-24 4z"/>
<path fill="#fac7c9" stroke="#72595a" d="M3245 768l24-1l-15-14l-24 0z"/>
<path fill="#fdedee" stroke="#696263" d="M3385 808l24-1l-15-15l-24 2z"/>
<path fill="#ffffff" stroke="#666666" d="M3524 844l25-4l-15-17l-24 5z"/>
<path fill="#ffffff" stroke="#666666" d="M3665 866l25-10l-15-14l-24 9z"/>
<path fill="#f8afb2" stroke="#785253" d="M3144 746l24-4l-15-13l-24 3z"/>
<path fill="#fbd1d3" stroke="#705c5d" d="M3283 782l24 0l-14-15l-24 0z"/>
<path fill="#fef6f6" stroke="#676464" d="M3423 821l24-2l-14-15l-24 3z"/>
<path fill="#ffffff" stroke="#666666" d="M3563 856l24-5l-14-17l-24 6z"/>
<path fill="#ffffff" stroke="#666666" d="M3705 870l24-12l-15-13l-24 11z"/>
<path fill="#f7a9ac" stroke="#795052" d="M3043 735l24-5l-14-11l-24 6z"/>
<path fill="#f8b5b8" stroke="#765455" d="M3182 756l24-2l-14-14l-24 2z"/>
<path fill="#fbdcdd" stroke="#6e5e5f" d="M3322 796l24-1l-15-14l-24 1z"/>
<path fill="#ffffff" stroke="#666666" d="M3462 835l24-3l-15-16l-24 3z"/>
<path fill="#ffffff" stroke="#666666" d="M3602 867l24-7l-14-16l-25 7z"/>
<path fill="#f7a8ac" stroke="#795051" d="M3081 742l24-5l-14-13l-24 6z"/>
<path fill="#f9bec1" stroke="#745658" d="M3221 768l24 0l-15-15l-24 1z"/>
<path fill="#fce6e7" stroke="#6b6161" d="M3360 810l25-2l-15-14l-24 1z"/>
<path fill="#ffffff" stroke="#666666" d="M3500 848l24-4l-14-16l-24 4z"/>
<path fill="#ffffff" stroke="#666666" d="M3641 875l24-9l-14-15l-25 9z"/>
<path fill="#f7aaae" stroke="#795052" d="M3120 749l24-3l-15-14l-24 5z"/>
<path fill="#fac8ca" stroke="#72595a" d="M3259 782l24 0l-14-15l-24 1z"/>
<path fill="#fdeff0" stroke="#696363" d="M3399 823l24-2l-14-14l-24 1z"/>
<path fill="#ffffff" stroke="#666666" d="M3539 861l24-5l-14-16l-25 4z"/>
<path fill="#ffffff" stroke="#666666" d="M3680 880l25-10l-15-14l-25 10z"/>
<path fill="#f7a7ab" stroke="#794f51" d="M3019 741l24-6l-14-10l-23 6z"/>
<path fill="#f8afb2" stroke="#785253" d="M3158 759l24-3l-14-14l-24 4z"/>
<path fill="#fbd2d4" stroke="#705c5d" d="M3298 796l24 0l-15-14l-24 0z"/>
<path fill="#fef8f9" stroke="#676465" d="M3438 837l24-2l-15-16l-24 2z"/>
<path fill="#ffffff" stroke="#666666" d="M3578 873l24-6l-15-16l-24 5z"/>
<path fill="#ffffff" stroke="#666666" d="M3720 882l25-11l-16-13l-24 12z"/>
<path fill="#f7a5a9" stroke="#7a4f50" d="M3057 747l24-5l-14-12l-24 5z"/>
<path fill="#f8b5b9" stroke="#765455" d="M3196 769l25-1l-15-14l-24 2z"/>
<path fill="#fcddde" stroke="#6d5f5f" d="M3336 810l24 0l-14-15l-24 1z"/>
<path fill="#ffffff" stroke="#666666" d="M3476 851l24-3l-14-16l-24 3z"/>
<path fill="#ffffff" stroke="#666666" d="M3617 882l24-7l-15-15l-24 7z"/>
<path fill="#f7a6aa" stroke="#7a4f51" d="M3096 754l24-5l-15-12l-24 5z"/>
<path fill="#f9bec1" stroke="#745758" d="M3235 782l24 0l-14-14l-24 0z"/>
<path fill="#fce7e8" stroke="#6b6161" d="M3375 824l24-1l-14-15l-25 2z"/>
<path fill="#ffffff" stroke="#666666" d="M3515 865l24-4l-15-17l-24 4z"/>
<path fill="#ffffff" stroke="#666666" d="M3656 889l24-9l-15-14l-24 9z"/>
<path fill="#f7a6aa" stroke="#7a4f51" d="M2996 748l23-7l-13-10l-24 8z"/>
<path fill="#f7a9ad" stroke="#795052" d="M3134 762l24-3l-14-13l-24 3z"/>
<path fill="#fac8cb" stroke="#72595a" d="M3274 796l24 0l-15-14l-24 0z"/>
<path fill="#fdf1f2" stroke="#696363" d="M3414 838l24-1l-15-16l-24 2z"/>
<path fill="#ffffff" stroke="#666666" d="M3554 877l24-4l-15-17l-24 5z"/>
<path fill="#ffffff" stroke="#666666" d="M3695 893l25-11l-15-12l-25 10z"/>
<path fill="#f7a3a7" stroke="#7a4e50" d="M3033 752l24-5l-14-12l-24 6z"/>
<path fill="#f8aeb2" stroke="#785253" d="M3172 772l24-3l-14-13l-24 3z"/>
<path fill="#fbd3d5" stroke="#705c5d" d="M3312 810l24 0l-14-14l-24 0z"/>
<path fill="#fefbfb" stroke="#666565" d="M3452 853l24-2l-14-16l-24 2z"/>
<path fill="#ffffff" stroke="#666666" d="M3592 888l25-6l-15-15l-24 6z"/>
<path fill="#ffffff" stroke="#666666" d="M3735 893l25-11l-15-11l-25 11z"/>
<path fill="#f7a3a7" stroke="#7a4e50" d="M3072 759l24-5l-15-12l-24 5z"/>
<path fill="#f8b5b8" stroke="#765455" d="M3211 783l24-1l-14-14l-25 1z"/>
<path fill="#fcdedf" stroke="#6d5f60" d="M3351 825l24-1l-15-14l-24 0z"/>
<path fill="#ffffff" stroke="#666666" d="M3491 867l24-2l-15-17l-24 3z"/>
<path fill="#ffffff" stroke="#666666" d="M3631 897l25-8l-15-14l-24 7z"/>
<path fill="#f7a6aa" stroke="#7a4f51" d="M2972 755l24-7l-14-9l-24 8z"/>
<path fill="#f7a5a9" stroke="#7a4e50" d="M3110 766l24-4l-14-13l-24 5z"/>
<path fill="#f9bec1" stroke="#745758" d="M3249 795l25 1l-15-14l-24 0z"/>
<path fill="#fde9ea" stroke="#6b6162" d="M3389 839l25-1l-15-15l-24 1z"/>
<path fill="#ffffff" stroke="#666666" d="M3529 881l25-4l-15-16l-24 4z"/>
<path fill="#ffffff" stroke="#666666" d="M3671 902l24-9l-15-13l-24 9z"/>
<path fill="#f6a1a5" stroke="#7b4d4f" d="M3009 759l24-7l-14-11l-23 7z"/>
<path fill="#f7a8ac" stroke="#795051" d="M3148 775l24-3l-14-13l-24 3z"/>
<path fill="#fac9cb" stroke="#725a5b" d="M3288 809l24 1l-14-14l-24 0z"/>
<path fill="#fef4f4" stroke="#686464" d="M3428 854l24-1l-14-16l-24 1z"/>
<path fill="#ffffff" stroke="#666666" d="M3568 893l24-5l-14-15l-24 4z"/>
<path fill="#ffffff" stroke="#666666" d="M3710 904l25-11l-15-11l-25 11z"/>
<path fill="#f6a0a4" stroke="#7b4d4f" d="M3047 764l25-5l-15-12l-24 5z"/>
<path fill="#f7adb1" stroke="#785153" d="M3187 784l24-1l-15-14l-24 3z"/>
<path fill="#fbd4d6" stroke="#6f5d5d" d="M3327 824l24 1l-15-15l-24 0z"/>
<path fill="#ffffff" stroke="#666666" d="M3467 869l24-2l-15-16l-24 2z"/>
<path fill="#ffffff" stroke="#666666" d="M3607 903l24-6l-14-15l-25 6z"/>
<path fill="#ffffff" stroke="#666666" d="M3750 903l25-11l-15-10l-25 11z"/>
<path fill="#f7a8ac" stroke="#794f51" d="M2948 764l24-9l-14-8l-24 9z"/>
<path fill="#f6a1a5" stroke="#7b4d4f" d="M3086 771l24-5l-14-12l-24 5z"/>
<path fill="#f8b5b8" stroke="#765455" d="M3225 795l24 0l-14-13l-24 1z"/>
<path fill="#fce0e1" stroke="#6d5f60" d="M3365 839l24 0l-14-15l-24 1z"/>
<path fill="#ffffff" stroke="#666666" d="M3505 884l24-3l-14-16l-24 2z"/>
<path fill="#ffffff" stroke="#666666" d="M3646 910l25-8l-15-13l-25 8z"/>
<path fill="#f6a1a5" stroke="#7b4d4f" d="M2986 766l23-7l-13-11l-24 7z"/>
<path fill="#f7a3a7" stroke="#7a4e50" d="M3124 778l24-3l-14-13l-24 4z"/>
<path fill="#f9bec1" stroke="#745758" d="M3264 808l24 1l-14-13l-25-1z"/>
<path fill="#fdebec" stroke="#6a6262" d="M3404 855l24-1l-14-16l-25 1z"/>
<path fill="#ffffff" stroke="#666666" d="M3544 897l24-4l-14-16l-25 4z"/>
<path fill="#ffffff" stroke="#666666" d="M3686 913l24-9l-15-11l-24 9z"/>
<path fill="#f69ea2" stroke="#7b4c4e" d="M3023 771l24-7l-14-12l-24 7z"/>
<path fill="#f7a6aa" stroke="#7a4f51" d="M3162 786l25-2l-15-12l-24 3z"/>
<path fill="#fac9cc" stroke="#725a5b" d="M3302 823l25 1l-15-14l-24-1z"/>
<path fill="#fef7f7" stroke="#676464" d="M3442 870l25-1l-15-16l-24 1z"/>
<path fill="#ffffff" stroke="#666666" d="M3583 908l24-5l-15-15l-24 5z"/>
<path fill="#ffffff" stroke="#666666" d="M3725 913l25-10l-15-10l-25 11z"/>
<path fill="#f7acaf" stroke="#785152" d="M2924 775l24-11l-14-8l-23 11z"/>
<path fill="#f69ea2" stroke="#7b4c4e" d="M3062 777l24-6l-14-12l-25 5z"/>
<path fill="#f7abaf" stroke="#785152" d="M3201 795l24 0l-14-12l-24 1z"/>
<path fill="#fbd5d7" stroke="#6f5d5e" d="M3341 838l24 1l-14-14l-24-1z"/>
<path fill="#ffffff" stroke="#666666" d="M3481 886l24-2l-14-17l-24 2z"/>
<path fill="#ffffff" stroke="#666666" d="M3622 916l24-6l-15-13l-24 6z"/>
<path fill="#ffffff" stroke="#666666" d="M3766 910l24-10l-15-8l-25 11z"/>
<path fill="#f6a2a6" stroke="#7a4e4f" d="M2962 775l24-9l-14-11l-24 9z"/>
<path fill="#f69fa3" stroke="#7b4c4e" d="M3100 783l24-5l-14-12l-24 5z"/>
<path fill="#f8b3b6" stroke="#775355" d="M3239 807l25 1l-15-13l-24 0z"/>
<path fill="#fce1e3" stroke="#6c6060" d="M3380 854l24 1l-15-16l-24 0z"/>
<path fill="#ffffff" stroke="#666666" d="M3520 900l24-3l-15-16l-24 3z"/>
<path fill="#ffffff" stroke="#666666" d="M3661 921l25-8l-15-11l-25 8z"/>
<path fill="#f69ea2" stroke="#7b4c4e" d="M2999 778l24-7l-14-12l-23 7z"/>
<path fill="#f6a0a4" stroke="#7b4d4f" d="M3138 789l24-3l-14-11l-24 3z"/>
<path fill="#f9bdc0" stroke="#745658" d="M3278 820l24 3l-14-14l-24-1z"/>
<path fill="#fdeeef" stroke="#696263" d="M3418 871l24-1l-14-16l-24 1z"/>
<path fill="#ffffff" stroke="#666666" d="M3558 912l25-4l-15-15l-24 4z"/>
<path fill="#ffffff" stroke="#666666" d="M3701 922l24-9l-15-9l-24 9z"/>
<path fill="#f8b2b5" stroke="#775354" d="M2901 789l23-14l-13-8l-23 13z"/>
<path fill="#f69ca0" stroke="#7c4b4d" d="M3037 783l25-6l-15-13l-24 7z"/>
<path fill="#f7a3a7" stroke="#7a4e50" d="M3177 796l24-1l-14-11l-25 2z"/>
<path fill="#fac9cc" stroke="#725a5b" d="M3317 836l24 2l-14-14l-25-1z"/>
<path fill="#fefafb" stroke="#666565" d="M3457 887l24-1l-14-17l-25 1z"/>
<path fill="#ffffff" stroke="#666666" d="M3597 922l25-6l-15-13l-24 5z"/>
<path fill="#ffffff" stroke="#666666" d="M3741 919l25-9l-16-7l-25 10z"/>
<path fill="#f7a6aa" stroke="#7a4f51" d="M2938 786l24-11l-14-11l-24 11z"/>
<path fill="#f69ca0" stroke="#7c4b4d" d="M3076 788l24-5l-14-12l-24 6z"/>
<path fill="#f7a8ac" stroke="#795051" d="M3215 805l24 2l-14-12l-24 0z"/>
<path fill="#fbd6d8" stroke="#6f5d5e" d="M3355 852l25 2l-15-15l-24-1z"/>
<path fill="#ffffff" stroke="#666666" d="M3496 902l24-2l-15-16l-24 2z"/>
<path fill="#ffffff" stroke="#666666" d="M3637 928l24-7l-15-11l-24 6z"/>
<path fill="#ffffff" stroke="#666666" d="M3781 915l25-9l-16-6l-24 10z"/>
<path fill="#f69fa3" stroke="#7b4c4e" d="M2976 787l23-9l-13-12l-24 9z"/>
<path fill="#f69ba0" stroke="#7c4b4d" d="M3114 793l24-4l-14-11l-24 5z"/>
<path fill="#f8b1b4" stroke="#775254" d="M3254 817l24 3l-14-12l-25-1z"/>
<path fill="#fce4e5" stroke="#6c6061" d="M3394 869l24 2l-14-16l-24-1z"/>
<path fill="#ffffff" stroke="#666666" d="M3534 916l24-4l-14-15l-24 3z"/>
<path fill="#ffffff" stroke="#666666" d="M3676 930l25-8l-15-9l-25 8z"/>
<path fill="#f9bcbf" stroke="#755657" d="M2878 805l23-16l-13-9l-24 15z"/>
<path fill="#f69ba0" stroke="#7c4b4d" d="M3013 791l24-8l-14-12l-24 7z"/>
<path fill="#f69ca0" stroke="#7c4b4d" d="M3152 798l25-2l-15-10l-24 3z"/>
<path fill="#f9bcbf" stroke="#755657" d="M3293 832l24 4l-15-13l-24-3z"/>
<path fill="#fdf1f2" stroke="#696363" d="M3433 886l24 1l-15-17l-24 1z"/>
<path fill="#ffffff" stroke="#666666" d="M3573 926l24-4l-14-14l-25 4z"/>
<path fill="#ffffff" stroke="#666666" d="M3716 928l25-9l-16-6l-24 9z"/>
<path fill="#f7acb0" stroke="#785153" d="M2914 800l24-14l-14-11l-23 14z"/>
<path fill="#f69a9e" stroke="#7c4b4d" d="M3051 795l25-7l-14-11l-25 6z"/>
<path fill="#f69ea2" stroke="#7b4c4e" d="M3191 804l24 1l-14-10l-24 1z"/>
<path fill="#fac9cc" stroke="#725a5b" d="M3331 848l24 4l-14-14l-24-2z"/>
<path fill="#fefefe" stroke="#666565" d="M3471 903l25-1l-15-16l-24 1z"/>
<path fill="#ffffff" stroke="#666666" d="M3612 934l25-6l-15-12l-25 6z"/>
<path fill="#ffffff" stroke="#666666" d="M3756 924l25-9l-15-5l-25 9z"/>
<path fill="#f6a2a6" stroke="#7a4e50" d="M2952 798l24-11l-14-12l-24 11z"/>
<path fill="#f6989d" stroke="#7d4a4c" d="M3090 799l24-6l-14-10l-24 5z"/>
<path fill="#f7a3a7" stroke="#7a4e50" d="M3229 813l25 4l-15-10l-24-2z"/>
<path fill="#fbd8d9" stroke="#6f5d5e" d="M3370 866l24 3l-14-15l-25-2z"/>
<path fill="#ffffff" stroke="#666666" d="M3510 917l24-1l-14-16l-24 2z"/>
<path fill="#ffffff" stroke="#666666" d="M3651 937l25-7l-15-9l-24 7z"/>
<path fill="#fac9cc" stroke="#725a5b" d="M2855 824l23-19l-14-10l-23 19z"/>
<path fill="#f69da1" stroke="#7c4c4e" d="M2989 800l24-9l-14-13l-23 9z"/>
<path fill="#f5969b" stroke="#7d494b" d="M3128 802l24-4l-14-9l-24 4z"/>
<path fill="#f7adb0" stroke="#785153" d="M3268 826l25 6l-15-12l-24-3z"/>
<path fill="#fce6e7" stroke="#6b6161" d="M3409 885l24 1l-15-15l-24-2z"/>
<path fill="#ffffff" stroke="#666666" d="M3549 930l24-4l-15-14l-24 4z"/>
<path fill="#ffffff" stroke="#666666" d="M3691 936l25-8l-15-6l-25 8z"/>
<path fill="#f8b7ba" stroke="#765456" d="M2891 816l23-16l-13-11l-23 16z"/>
<path fill="#f6999e" stroke="#7c4a4d" d="M3027 803l24-8l-14-12l-24 8z"/>
<path fill="#f5959a" stroke="#7d494b" d="M3166 805l25-1l-14-8l-25 2z"/>
<path fill="#f9babd" stroke="#755557" d="M3307 842l24 6l-14-12l-24-4z"/>
<path fill="#fef4f5" stroke="#686464" d="M3447 902l24 1l-14-16l-24-1z"/>
<path fill="#ffffff" stroke="#666666" d="M3588 939l24-5l-15-12l-24 4z"/>
<path fill="#ffffff" stroke="#666666" d="M3732 932l24-8l-15-5l-25 9z"/>
<path fill="#f7a9ad" stroke="#795052" d="M2928 812l24-14l-14-12l-24 14z"/>
<path fill="#f5969b" stroke="#7d494c" d="M3065 806l25-7l-14-11l-25 7z"/>
<path fill="#f5979b" stroke="#7d494c" d="M3205 811l24 2l-14-8l-24-1z"/>
<path fill="#fac9cb" stroke="#725a5b" d="M3346 861l24 5l-15-14l-24-4z"/>
<path fill="#ffffff" stroke="#666666" d="M3486 918l24-1l-14-15l-25 1z"/>
<path fill="#ffffff" stroke="#666666" d="M3627 943l24-6l-14-9l-25 6z"/>
<path fill="#fbdbdd" stroke="#6e5e5f" d="M2832 847l23-23l-14-10l-22 21z"/>
<path fill="#f6a1a5" stroke="#7b4d4f" d="M2966 812l23-12l-13-13l-24 11z"/>
<path fill="#f59397" stroke="#7e484a" d="M3104 807l24-5l-14-9l-24 6z"/>
<path fill="#f69da1" stroke="#7c4c4e" d="M3244 819l24 7l-14-9l-25-4z"/>
<path fill="#fbd9db" stroke="#6e5e5e" d="M3384 881l25 4l-15-16l-24-3z"/>
<path fill="#ffffff" stroke="#666666" d="M3524 932l25-2l-15-14l-24 1z"/>
<path fill="#ffffff" stroke="#666666" d="M3667 943l24-7l-15-6l-25 7z"/>
<path fill="#f9c5c7" stroke="#73585a" d="M2868 836l23-20l-13-11l-23 19z"/>
<path fill="#f69ba0" stroke="#7c4b4d" d="M3003 813l24-10l-14-12l-24 9z"/>
<path fill="#f58e93" stroke="#7f4649" d="M3142 808l24-3l-14-7l-24 4z"/>
<path fill="#f7a7ab" stroke="#794f51" d="M3283 833l24 9l-14-10l-25-6z"/>
<path fill="#fde9ea" stroke="#6b6162" d="M3423 900l24 2l-14-16l-24-1z"/>
<path fill="#ffffff" stroke="#666666" d="M3563 943l25-4l-15-13l-24 4z"/>
<path fill="#ffffff" stroke="#666666" d="M3707 939l25-7l-16-4l-25 8z"/>
<path fill="#f8b4b7" stroke="#775355" d="M2905 829l23-17l-14-12l-23 16z"/>
<path fill="#f5979b" stroke="#7d494c" d="M3041 815l24-9l-14-11l-24 8z"/>
<path fill="#f58c91" stroke="#7f4548" d="M3180 810l25 1l-14-7l-25 1z"/>
<path fill="#f8b7ba" stroke="#765456" d="M3321 852l25 9l-15-13l-24-6z"/>
<path fill="#fef7f8" stroke="#676464" d="M3462 918l24 0l-15-15l-24-1z"/>
<path fill="#ffffff" stroke="#666666" d="M3602 949l25-6l-15-9l-24 5z"/>
<path fill="#fdf2f2" stroke="#686363" d="M2810 874l22-27l-13-12l-23 25z"/>
<path fill="#f7a8ac" stroke="#794f51" d="M2942 826l24-14l-14-14l-24 14z"/>
<path fill="#f59196" stroke="#7e474a" d="M3079 815l25-8l-14-8l-25 7z"/>
<path fill="#f58d92" stroke="#7f4648" d="M3219 814l25 5l-15-6l-24-2z"/>
<path fill="#fac8cb" stroke="#72595a" d="M3360 873l24 8l-14-15l-24-5z"/>
<path fill="#ffffff" stroke="#666666" d="M3500 933l24-1l-14-15l-24 1z"/>
<path fill="#ffffff" stroke="#666666" d="M3642 950l25-7l-16-6l-24 6z"/>
<path fill="#fbd8da" stroke="#6e5e5e" d="M2845 860l23-24l-13-12l-23 23z"/>
<path fill="#f6a0a4" stroke="#7b4d4f" d="M2979 825l24-12l-14-13l-23 12z"/>
<path fill="#f48a8f" stroke="#804547" d="M3118 814l24-6l-14-6l-24 5z"/>
<path fill="#f59398" stroke="#7e484b" d="M3258 823l25 10l-15-7l-24-7z"/>
<path fill="#fbdbdc" stroke="#6e5e5f" d="M3399 895l24 5l-14-15l-25-4z"/>
<path fill="#ffffff" stroke="#666666" d="M3539 945l24-2l-14-13l-25 2z"/>
<path fill="#ffffff" stroke="#666666" d="M3682 946l25-7l-16-3l-24 7z"/>
<path fill="#f9c3c5" stroke="#735859" d="M2882 850l23-21l-14-13l-23 20z"/>
<path fill="#f6999e" stroke="#7c4a4d" d="M3017 826l24-11l-14-12l-24 10z"/>
<path fill="#f48389" stroke="#814245" d="M3156 811l24-1l-14-5l-24 3z"/>
<path fill="#f6a1a5" stroke="#7b4d4f" d="M3297 840l24 12l-14-10l-24-9z"/>
<path fill="#fdeced" stroke="#6a6262" d="M3437 916l25 2l-15-16l-24-2z"/>
<path fill="#ffffff" stroke="#666666" d="M3578 953l24-4l-14-10l-25 4z"/>
<path fill="#f8b3b6" stroke="#775355" d="M2918 843l24-17l-14-14l-23 17z"/>
<path fill="#f59297" stroke="#7e484a" d="M3055 825l24-10l-14-9l-24 9z"/>
<path fill="#f37f84" stroke="#824043" d="M3195 811l24 3l-14-3l-25-1z"/>
<path fill="#f8b4b7" stroke="#775355" d="M3336 862l24 11l-14-12l-25-9z"/>
<path fill="#fefafa" stroke="#676565" d="M3476 933l24 0l-14-15l-24 0z"/>
<path fill="#ffffff" stroke="#666666" d="M3617 956l25-6l-15-7l-25 6z"/>
<path fill="#fdf1f1" stroke="#696363" d="M2823 889l22-29l-13-13l-22 27z"/>
<path fill="#f7a8ab" stroke="#794f51" d="M2956 840l23-15l-13-13l-24 14z"/>
<path fill="#f4898e" stroke="#804447" d="M3093 822l25-8l-14-7l-25 8z"/>
<path fill="#f37f85" stroke="#824043" d="M3234 814l24 9l-14-4l-25-5z"/>
<path fill="#fac9cb" stroke="#72595b" d="M3375 887l24 8l-15-14l-24-8z"/>
<path fill="#ffffff" stroke="#666666" d="M3515 947l24-2l-15-13l-24 1z"/>
<path fill="#ffffff" stroke="#666666" d="M3657 954l25-8l-15-3l-25 7z"/>
<path fill="#fbd7d8" stroke="#6f5d5e" d="M2859 874l23-24l-14-14l-23 24z"/>
<path fill="#f69fa3" stroke="#7b4c4e" d="M2993 839l24-13l-14-13l-24 12z"/>
<path fill="#f37e84" stroke="#824043" d="M3131 817l25-6l-14-3l-24 6z"/>
<path fill="#f4888d" stroke="#804447" d="M3273 826l24 14l-14-7l-25-10z"/>
<path fill="#fcddde" stroke="#6d5f5f" d="M3413 910l24 6l-14-16l-24-5z"/>
<path fill="#ffffff" stroke="#666666" d="M3554 957l24-4l-15-10l-24 2z"/>
<path fill="#f9c2c5" stroke="#735859" d="M2895 864l23-21l-13-14l-23 21z"/>
<path fill="#f5969b" stroke="#7d494b" d="M3031 837l24-12l-14-10l-24 11z"/>
<path fill="#f2747a" stroke="#843c3f" d="M3170 811l25 0l-15-1l-24 1z"/>
<path fill="#f69a9e" stroke="#7c4b4d" d="M3312 846l24 16l-15-10l-24-12z"/>
<path fill="#fdeeef" stroke="#696263" d="M3452 931l24 2l-14-15l-25-2z"/>
<path fill="#ffffff" stroke="#666666" d="M3593 962l24-6l-15-7l-24 4z"/>
<path fill="#f8b3b6" stroke="#775355" d="M2932 858l24-18l-14-14l-24 17z"/>
<path fill="#f48b90" stroke="#7f4548" d="M3069 833l24-11l-14-7l-24 10z"/>
<path fill="#f26d74" stroke="#86393c" d="M3209 808l25 6l-15 0l-24-3z"/>
<path fill="#f8b1b5" stroke="#775354" d="M3350 873l25 14l-15-14l-24-11z"/>
<path fill="#fefbfc" stroke="#666565" d="M3490 948l25-1l-15-14l-24 0z"/>
<path fill="#ffffff" stroke="#666666" d="M3633 961l24-7l-15-4l-25 6z"/>
<path fill="#fdf0f1" stroke="#696363" d="M2836 903l23-29l-14-14l-22 29z"/>
<path fill="#f7a7ab" stroke="#794f51" d="M2969 854l24-15l-14-14l-23 15z"/>
<path fill="#f37e83" stroke="#824043" d="M3107 826l24-9l-13-3l-25 8z"/>
<path fill="#f26f75" stroke="#853a3d" d="M3248 813l25 13l-15-3l-24-9z"/>
<path fill="#facacc" stroke="#725a5b" d="M3389 901l24 9l-14-15l-24-8z"/>
<path fill="#ffffff" stroke="#666666" d="M3529 960l25-3l-15-12l-24 2z"/>
<path fill="#fbd6d8" stroke="#6f5d5e" d="M2872 888l23-24l-13-14l-23 24z"/>
<path fill="#f69da1" stroke="#7c4c4e" d="M3007 851l24-14l-14-11l-24 13z"/>
<path fill="#f26e74" stroke="#86393c" d="M3145 816l25-5l-14 0l-25 6z"/>
<path fill="#f37c82" stroke="#833f42" d="M3287 829l25 17l-15-6l-24-14z"/>
<path fill="#fcdfe1" stroke="#6d5f60" d="M3427 926l25 5l-15-15l-24-6z"/>
<path fill="#ffffff" stroke="#666666" d="M3568 967l25-5l-15-9l-24 4z"/>
<path fill="#f9c3c5" stroke="#735859" d="M2909 879l23-21l-14-15l-23 21z"/>
<path fill="#f59095" stroke="#7e474a" d="M3045 846l24-13l-14-8l-24 12z"/>
<path fill="#f16067" stroke="#883337" d="M3184 806l25 2l-14 3l-25 0z"/>
<path fill="#f59499" stroke="#7e484b" d="M3326 855l24 18l-14-11l-24-16z"/>
<path fill="#fdf1f1" stroke="#696363" d="M3466 947l24 1l-14-15l-24-2z"/>
<path fill="#ffffff" stroke="#666666" d="M3608 967l25-6l-16-5l-24 6z"/>
<path fill="#f8b3b7" stroke="#775355" d="M2946 872l23-18l-13-14l-24 18z"/>
<path fill="#f48186" stroke="#824144" d="M3083 838l24-12l-14-4l-24 11z"/>
<path fill="#f05960" stroke="#8a3033" d="M3223 803l25 10l-14 1l-25-6z"/>
<path fill="#f8b0b4" stroke="#775254" d="M3365 886l24 15l-14-14l-25-14z"/>
<path fill="#fefcfc" stroke="#666565" d="M3505 962l24-2l-14-13l-25 1z"/>
<path fill="#fdf0f1" stroke="#696363" d="M2850 917l22-29l-13-14l-23 29z"/>
<path fill="#f7a6aa" stroke="#794f51" d="M2983 868l24-17l-14-12l-24 15z"/>
<path fill="#f26d74" stroke="#86393c" d="M3121 825l24-9l-14 1l-24 9z"/>
<path fill="#f15f65" stroke="#893236" d="M3263 812l24 17l-14-3l-25-13z"/>
<path fill="#faccce" stroke="#715a5b" d="M3403 917l24 9l-14-16l-24-9z"/>
<path fill="#ffffff" stroke="#666666" d="M3544 971l24-4l-14-10l-25 3z"/>
<path fill="#fbd7d9" stroke="#6f5d5e" d="M2886 903l23-24l-14-15l-23 24z"/>
<path fill="#f6999d" stroke="#7c4a4c" d="M3021 862l24-16l-14-9l-24 14z"/>
<path fill="#f05960" stroke="#8a2f33" d="M3160 811l24-5l-14 5l-25 5z"/>
<path fill="#f27279" stroke="#853b3e" d="M3302 834l24 21l-14-9l-25-17z"/>
<path fill="#fce2e4" stroke="#6c6060" d="M3442 943l24 4l-14-16l-25-5z"/>
<path fill="#fefefe" stroke="#666565" d="M3583 974l25-7l-15-5l-25 5z"/>
<path fill="#f9c3c6" stroke="#735859" d="M2922 894l24-22l-14-14l-23 21z"/>
<path fill="#f4888d" stroke="#804446" d="M3059 853l24-15l-14-5l-24 13z"/>
<path fill="#ef4850" stroke="#8d272c" d="M3198 799l25 4l-14 5l-25-2z"/>
<path fill="#f59196" stroke="#7e474a" d="M3341 866l24 20l-15-13l-24-18z"/>
<path fill="#fdf2f3" stroke="#686364" d="M3480 963l25-1l-15-14l-24-1z"/>
<path fill="#f8b4b7" stroke="#775355" d="M2959 887l24-19l-14-14l-23 18z"/>
<path fill="#f27278" stroke="#853b3e" d="M3097 839l24-14l-14 1l-24 12z"/>
<path fill="#ee444c" stroke="#8e252a" d="M3238 799l25 13l-15 1l-25-10z"/>
<path fill="#f8b2b6" stroke="#775354" d="M3379 903l24 14l-14-16l-24-15z"/>
<path fill="#fefbfb" stroke="#666565" d="M3519 975l25-4l-15-11l-24 2z"/>
<path fill="#fdf0f1" stroke="#696363" d="M2863 932l23-29l-14-15l-22 29z"/>
<path fill="#f7a4a8" stroke="#7a4e50" d="M2997 880l24-18l-14-11l-24 17z"/>
<path fill="#f0585f" stroke="#8a2f33" d="M3135 821l25-10l-15 5l-24 9z"/>
<path fill="#ef5058" stroke="#8c2b30" d="M3277 814l25 20l-15-5l-24-17z"/>
<path fill="#fad0d2" stroke="#705b5c" d="M3418 935l24 8l-15-17l-24-9z"/>
<path fill="#fefbfb" stroke="#666565" d="M3558 981l25-7l-15-7l-24 4z"/>
<path fill="#fbd8d9" stroke="#6e5d5e" d="M2899 918l23-24l-13-15l-23 24z"/>
<path fill="#f59297" stroke="#7e484a" d="M3034 870l25-17l-14-7l-24 16z"/>
<path fill="#ee3f47" stroke="#8f2327" d="M3174 803l24-4l-14 7l-24 5z"/>
<path fill="#f26c73" stroke="#86383c" d="M3316 844l25 22l-15-11l-24-21z"/>
<path fill="#fce6e7" stroke="#6b6161" d="M3456 961l24 2l-14-16l-24-4z"/>
<path fill="#f9c4c7" stroke="#735859" d="M2936 909l23-22l-13-15l-24 22z"/>
<path fill="#f37b80" stroke="#833f41" d="M3072 856l25-17l-14-1l-24 15z"/>
<path fill="#ec2f38" stroke="#921a20" d="M3213 793l25 6l-15 4l-25-4z"/>
<path fill="#f59297" stroke="#7e484a" d="M3355 883l24 20l-14-17l-24-20z"/>
<path fill="#fef4f4" stroke="#686464" d="M3495 978l24-3l-14-13l-25 1z"/>
<path fill="#f8b3b6" stroke="#775355" d="M2973 900l24-20l-14-12l-24 19z"/>
<path fill="#f15e65" stroke="#893236" d="M3110 836l25-15l-14 4l-24 14z"/>
<path fill="#ed313a" stroke="#921c21" d="M3252 798l25 16l-14-2l-25-13z"/>
<path fill="#f8b7bb" stroke="#765456" d="M3393 923l25 12l-15-18l-24-14z"/>
<path fill="#fef8f8" stroke="#676464" d="M3534 987l24-6l-14-10l-25 4z"/>
<path fill="#fdf1f1" stroke="#696363" d="M2876 946l23-28l-13-15l-23 29z"/>
<path fill="#f6a0a4" stroke="#7b4d4f" d="M3011 890l23-20l-13-8l-24 18z"/>
<path fill="#ee3e46" stroke="#8f2227" d="M3149 813l25-10l-14 8l-25 10z"/>
<path fill="#ef474f" stroke="#8e272b" d="M3292 822l24 22l-14-10l-25-20z"/>
<path fill="#fbd6d8" stroke="#6f5d5e" d="M3432 956l24 5l-14-18l-24-8z"/>
<path fill="#fbd9da" stroke="#6e5e5e" d="M2913 933l23-24l-14-15l-23 24z"/>
<path fill="#f4888d" stroke="#804446" d="M3048 876l24-20l-13-3l-25 17z"/>
<path fill="#eb242d" stroke="#95141a" d="M3188 795l25-2l-15 6l-24 4z"/>
<path fill="#f26c73" stroke="#86383c" d="M3331 860l24 23l-14-17l-25-22z"/>
<path fill="#fdebeb" stroke="#6a6262" d="M3470 980l25-2l-15-15l-24-2z"/>
<path fill="#f9c5c7" stroke="#735859" d="M2950 923l23-23l-14-13l-23 22z"/>
<path fill="#f1696f" stroke="#87373a" d="M3086 855l24-19l-13 3l-25 17z"/>
<path fill="#eb1923" stroke="#970e14" d="M3227 790l25 8l-14 1l-25-6z"/>
<path fill="#f6989d" stroke="#7d4a4c" d="M3369 905l24 18l-14-20l-24-20z"/>
<path fill="#fef4f5" stroke="#686464" d="M3509 994l25-7l-15-12l-24 3z"/>
<path fill="#f8b0b4" stroke="#775254" d="M2987 912l24-22l-14-10l-24 20z"/>
<path fill="#ee454d" stroke="#8e262a" d="M3124 830l25-17l-14 8l-25 15z"/>
<path fill="#ec252e" stroke="#94151a" d="M3267 805l25 17l-15-8l-25-16z"/>
<path fill="#f9c1c4" stroke="#745759" d="M3408 947l24 9l-14-21l-25-12z"/>
<path fill="#fdf1f2" stroke="#696363" d="M2890 960l23-27l-14-15l-23 28z"/>
<path fill="#f6989c" stroke="#7d4a4c" d="M3024 898l24-22l-14-6l-23 20z"/>
<path fill="#eb232c" stroke="#951419" d="M3163 806l25-11l-14 8l-25 10z"/>
<path fill="#ee464e" stroke="#8e262b" d="M3306 838l25 22l-15-16l-24-22z"/>
<path fill="#fcdfe0" stroke="#6d5f60" d="M3446 980l24 0l-14-19l-24-5z"/>
<path fill="#fbd9db" stroke="#6e5e5f" d="M2926 948l24-25l-14-14l-23 24z"/>
<path fill="#f3797f" stroke="#833e41" d="M3062 878l24-23l-14 1l-24 20z"/>
<path fill="#eb1923" stroke="#970e14" d="M3202 792l25-2l-14 3l-25 2z"/>
<path fill="#f2747a" stroke="#843c3f" d="M3345 885l24 20l-14-22l-24-23z"/>
<path fill="#fdf0f0" stroke="#696363" d="M3484 1000l25-6l-14-16l-25 2z"/>
<path fill="#f9c4c6" stroke="#735859" d="M2963 936l24-24l-14-12l-23 23z"/>
<path fill="#f0535a" stroke="#8b2d31" d="M3100 852l24-22l-14 6l-24 19z"/>
<path fill="#eb1923" stroke="#970e14" d="M3242 795l25 10l-15-7l-25-8z"/>
<path fill="#f7a6aa" stroke="#7a4f51" d="M3383 935l25 12l-15-24l-24-18z"/>
<path fill="#f7abaf" stroke="#785152" d="M3000 923l24-25l-13-8l-24 22z"/>
<path fill="#ec2b34" stroke="#93181e" d="M3138 824l25-18l-14 7l-25 17z"/>
<path fill="#eb222c" stroke="#951419" d="M3282 821l24 17l-14-16l-25-17z"/>
<path fill="#facfd1" stroke="#705b5c" d="M3421 978l25 2l-14-24l-24-9z"/>
<path fill="#fdf2f2" stroke="#696363" d="M2903 975l23-27l-13-15l-23 27z"/>
<path fill="#f58c91" stroke="#7f4648" d="M3038 903l24-25l-14-2l-24 22z"/>
<path fill="#eb1923" stroke="#970e14" d="M3177 804l25-12l-14 3l-25 11z"/>
<path fill="#ef4f57" stroke="#8c2b2f" d="M3321 865l24 20l-14-25l-25-22z"/>
<path fill="#fdeaeb" stroke="#6a6262" d="M3459 1007l25-7l-14-20l-24 0z"/>
<path fill="#fbdadb" stroke="#6e5e5f" d="M2940 962l23-26l-13-13l-24 25z"/>
<path fill="#f1666d" stroke="#873639" d="M3075 877l25-25l-14 3l-24 23z"/>
<path fill="#eb1923" stroke="#970e14" d="M3217 797l25-2l-15-5l-25 2z"/>
<path fill="#f4878c" stroke="#804346" d="M3359 920l24 15l-14-30l-24-20z"/>
<path fill="#f9c1c4" stroke="#745759" d="M2977 949l23-26l-13-11l-24 24z"/>
<path fill="#ee3b44" stroke="#902126" d="M3114 848l24-24l-14 6l-24 22z"/>
<path fill="#eb1923" stroke="#970e14" d="M3257 812l25 9l-15-16l-25-10z"/>
<path fill="#f9bcbf" stroke="#755657" d="M3397 973l24 5l-13-31l-25-12z"/>
<path fill="#f7a3a7" stroke="#7a4e50" d="M3014 931l24-28l-14-5l-24 25z"/>
<path fill="#eb1923" stroke="#970e14" d="M3153 823l24-19l-14 2l-25 18z"/>
<path fill="#ec2d36" stroke="#931a1f" d="M3296 850l25 15l-15-27l-24-17z"/>
<path fill="#fce4e5" stroke="#6c6061" d="M3435 1015l24-8l-13-27l-25-2z"/>
<path fill="#fdf2f2" stroke="#686363" d="M2916 989l24-27l-14-14l-23 27z"/>
<path fill="#f37d83" stroke="#824043" d="M3051 906l24-29l-13 1l-24 25z"/>
<path fill="#eb1923" stroke="#970e14" d="M3192 808l25-11l-15-5l-25 12z"/>
<path fill="#f1676d" stroke="#873639" d="M3335 906l24 14l-14-35l-24-20z"/>
<path fill="#fbd9da" stroke="#6e5e5e" d="M2953 976l24-27l-14-13l-23 26z"/>
<path fill="#ef5259" stroke="#8b2c30" d="M3089 877l25-29l-14 4l-25 25z"/>
<path fill="#eb1923" stroke="#970e14" d="M3232 813l25-1l-15-17l-25 2z"/>
<path fill="#f7a6aa" stroke="#7a4f51" d="M3372 967l25 6l-14-38l-24-15z"/>
<path fill="#f9bcbf" stroke="#755657" d="M2990 959l24-28l-14-8l-23 26z"/>
<path fill="#ec2630" stroke="#94161b" d="M3128 849l25-26l-15 1l-24 24z"/>
<path fill="#eb1923" stroke="#970e14" d="M3271 842l25 8l-14-29l-25-9z"/>
<path fill="#fcdcde" stroke="#6d5e5f" d="M3410 1022l25-7l-14-37l-24-5z"/>
<path fill="#f6989d" stroke="#7d4a4c" d="M3027 937l24-31l-13-3l-24 28z"/>
<path fill="#eb1923" stroke="#970e14" d="M3167 828l25-20l-15-4l-24 19z"/>
<path fill="#ef4a51" stroke="#8d282d" d="M3310 895l25 11l-14-41l-25-15z"/>
<path fill="#fdf2f2" stroke="#696363" d="M2930 1003l23-27l-13-14l-24 27z"/>
<path fill="#f26d73" stroke="#86393c" d="M3065 909l24-32l-14 0l-24 29z"/>
<path fill="#eb1923" stroke="#970e14" d="M3206 824l26-11l-15-16l-25 11z"/>
<path fill="#f58f94" stroke="#7f4749" d="M3348 962l24 5l-13-47l-24-14z"/>
<path fill="#fbd6d8" stroke="#6f5d5e" d="M2966 989l24-30l-13-10l-24 27z"/>
<path fill="#ee4048" stroke="#8f2328" d="M3103 880l25-31l-14-1l-25 29z"/>
<path fill="#eb1923" stroke="#970e14" d="M3246 844l25-2l-14-30l-25 1z"/>
<path fill="#fbd3d5" stroke="#6f5c5d" d="M3385 1030l25-8l-13-49l-25-6z"/>
<path fill="#f8b5b8" stroke="#765455" d="M3003 969l24-32l-13-6l-24 28z"/>
<path fill="#eb1923" stroke="#970e14" d="M3142 855l25-27l-14-5l-25 26z"/>
<path fill="#ed333c" stroke="#921d22" d="M3285 890l25 5l-14-45l-25-8z"/>
<path fill="#f58c91" stroke="#7f4548" d="M3041 943l24-34l-14-3l-24 31z"/>
<path fill="#eb1923" stroke="#970e14" d="M3181 844l25-20l-14-16l-25 20z"/>
<path fill="#f37a80" stroke="#833e41" d="M3323 959l25 3l-13-56l-25-11z"/>
<path fill="#fdf1f2" stroke="#696363" d="M2943 1018l23-29l-13-13l-23 27z"/>
<path fill="#f15f66" stroke="#893236" d="M3079 914l24-34l-14-3l-24 32z"/>
<path fill="#eb1923" stroke="#970e14" d="M3221 855l25-11l-14-31l-26 11z"/>
<path fill="#facbcd" stroke="#715a5b" d="M3360 1038l25-8l-13-63l-24-5z"/>
<path fill="#fbd3d4" stroke="#705c5d" d="M2980 1001l23-32l-13-10l-24 30z"/>
<path fill="#ed343c" stroke="#911d22" d="M3117 887l25-32l-14-6l-25 31z"/>
<path fill="#ec2730" stroke="#94161b" d="M3260 893l25-3l-14-48l-25 2z"/>
<path fill="#f7adb0" stroke="#785153" d="M3017 978l24-35l-14-6l-24 32z"/>
<path fill="#eb1923" stroke="#970e14" d="M3156 871l25-27l-14-16l-25 27z"/>
<path fill="#f26a71" stroke="#86383b" d="M3298 960l25-1l-13-64l-25-5z"/>
<path fill="#f48187" stroke="#824144" d="M3054 951l25-37l-14-5l-24 34z"/>
<path fill="#eb1923" stroke="#970e14" d="M3196 874l25-19l-15-31l-25 20z"/>
<path fill="#f9c3c6" stroke="#735859" d="M3335 1046l25-8l-12-76l-25-3z"/>
<path fill="#fdf0f1" stroke="#696363" d="M2956 1032l24-31l-14-12l-23 29z"/>
<path fill="#f0555c" stroke="#8b2e32" d="M3093 923l24-36l-14-7l-24 34z"/>
<path fill="#ec252f" stroke="#94151b" d="M3235 904l25-11l-14-49l-25 11z"/>
<path fill="#faced0" stroke="#715b5c" d="M2993 1013l24-35l-14-9l-23 32z"/>
<path fill="#ed313a" stroke="#921c21" d="M3131 903l25-32l-14-16l-25 32z"/>
<path fill="#f16269" stroke="#883437" d="M3273 965l25-5l-13-70l-25 3z"/>
<path fill="#f7a6aa" stroke="#7a4f51" d="M3030 989l24-38l-13-8l-24 35z"/>
<path fill="#eb202a" stroke="#951318" d="M3170 899l26-25l-15-30l-25 27z"/>
<path fill="#f9bec1" stroke="#745658" d="M3311 1054l24-8l-12-87l-25 1z"/>
<path fill="#f37a80" stroke="#833e41" d="M3068 962l25-39l-14-9l-25 37z"/>
<path fill="#ec2e37" stroke="#931a1f" d="M3210 921l25-17l-14-49l-25 19z"/>
<path fill="#fdefef" stroke="#696363" d="M2969 1046l24-33l-13-12l-24 31z"/>
<path fill="#f0535a" stroke="#8b2d31" d="M3107 939l24-36l-14-16l-24 36z"/>
<path fill="#f16168" stroke="#883337" d="M3248 975l25-10l-13-72l-25 11z"/>
<path fill="#facacd" stroke="#725a5b" d="M3006 1026l24-37l-13-11l-24 35z"/>
<path fill="#ee3b44" stroke="#902126" d="M3145 930l25-31l-14-28l-25 32z"/>
<path fill="#f9bbbe" stroke="#755657" d="M3286 1063l25-9l-13-94l-25 5z"/>
<path fill="#f6a1a5" stroke="#7b4d4f" d="M3044 1001l24-39l-14-11l-24 38z"/>
<path fill="#ee3f47" stroke="#8f2327" d="M3184 943l26-22l-14-47l-26 25z"/>
<path fill="#f3797e" stroke="#833e41" d="M3082 977l25-38l-14-16l-25 39z"/>
<path fill="#f1686e" stroke="#87363a" d="M3223 989l25-14l-13-71l-25 17z"/>
<path fill="#fdeeee" stroke="#696263" d="M2983 1061l23-35l-13-13l-24 33z"/>
<path fill="#f05c63" stroke="#893135" d="M3121 963l24-33l-14-27l-24 36z"/>
<path fill="#f9bcbf" stroke="#755657" d="M3261 1072l25-9l-13-98l-25 10z"/>
<path fill="#fac8ca" stroke="#72595a" d="M3020 1039l24-38l-14-12l-24 37z"/>
<path fill="#f0565d" stroke="#8b2e32" d="M3159 970l25-27l-14-44l-25 31z"/>
<path fill="#f6a0a4" stroke="#7b4d4f" d="M3058 1016l24-39l-14-15l-24 39z"/>
<path fill="#f2747a" stroke="#843c3f" d="M3198 1006l25-17l-13-68l-26 22z"/>
<path fill="#f38085" stroke="#824143" d="M3096 999l25-36l-14-24l-25 38z"/>
<path fill="#f9bfc2" stroke="#745758" d="M3236 1082l25-10l-13-97l-25 14z"/>
<path fill="#fdedee" stroke="#6a6262" d="M2996 1075l24-36l-14-13l-23 35z"/>
<path fill="#f27278" stroke="#853b3e" d="M3134 999l25-29l-14-40l-24 33z"/>
<path fill="#fac8ca" stroke="#72595a" d="M3033 1054l25-38l-14-15l-24 38z"/>
<path fill="#f4858a" stroke="#814345" d="M3173 1026l25-20l-14-63l-25 27z"/>
<path fill="#f7a5a9" stroke="#7a4f50" d="M3071 1035l25-36l-14-22l-24 39z"/>
<path fill="#f9c5c7" stroke="#735859" d="M3211 1091l25-9l-13-93l-25 17z"/>
<path fill="#f59196" stroke="#7e474a" d="M3110 1029l24-30l-13-36l-25 36z"/>
<path fill="#fdeded" stroke="#6a6262" d="M3009 1089l24-35l-13-15l-24 36z"/>
<path fill="#f6999e" stroke="#7c4a4d" d="M3148 1047l25-21l-14-56l-25 29z"/>
<path fill="#facbcd" stroke="#715a5b" d="M3047 1071l24-36l-13-19l-25 38z"/>
<path fill="#faccce" stroke="#715a5b" d="M3186 1100l25-9l-13-85l-25 20z"/>
<path fill="#f8b2b5" stroke="#775354" d="M3085 1060l25-31l-14-30l-25 36z"/>
<path fill="#f8b0b3" stroke="#775254" d="M3123 1068l25-21l-14-48l-24 30z"/>
<path fill="#fdeeee" stroke="#696263" d="M3023 1104l24-33l-14-17l-24 35z"/>
<path fill="#fbd5d7" stroke="#6f5d5d" d="M3162 1110l24-10l-13-74l-25 21z"/>
<path fill="#fbd2d4" stroke="#705c5d" d="M3060 1090l25-30l-14-25l-24 36z"/>
<path fill="#fac7ca" stroke="#72595a" d="M3099 1091l24-23l-13-39l-25 31z"/>
<path fill="#fcdee0" stroke="#6d5f60" d="M3137 1119l25-9l-14-63l-25 21z"/>
<path fill="#fdf0f1" stroke="#696363" d="M3036 1118l24-28l-13-19l-24 33z"/>
<path fill="#fcdfe0" stroke="#6d5f60" d="M3074 1112l25-21l-14-31l-25 30z"/>
<path fill="#fde8e9" stroke="#6b6162" d="M3112 1129l25-10l-14-51l-24 23z"/>
<path fill="#fef4f5" stroke="#686464" d="M3049 1132l25-20l-14-22l-24 28z"/>
<path fill="#fdf2f2" stroke="#696363" d="M3087 1138l25-9l-13-38l-25 21z"/>
<path fill="#fefafb" stroke="#666565" d="M3062 1146l25-8l-13-26l-25 20z"/>
</g>
<line x1="277.90" y1="63.30" x2="350.60" y2="41.30" stroke="#0a0a0a" stroke-width="1.25" stroke-linecap="round"/>
<line x1="350.60" y1="41.30" x2="382.60" y2="67.00" stroke="#0a0a0a" stroke-width="1.25" stroke-linecap="round"/>
<line x1="382.60" y1="67.00" x2="306.10" y2="90.40" stroke="#0a0a0a" stroke-width="1.25" stroke-linecap="round"/>
<line x1="306.10" y1="90.40" x2="277.90" y2="63.30" stroke="#0a0a0a" stroke-width="1.25" stroke-linecap="round"/>
<line x1="277.90" y1="63.30" x2="281.40" y2="108.70" stroke="#0a0a0a" stroke-width="1.25" stroke-linecap="round"/>
<line x1="306.10" y1="90.40" x2="306.40" y2="138.90" stroke="#0a0a0a" stroke-width="1.25" stroke-linecap="round"/>
<line x1="382.60" y1="67.00" x2="378.60" y2="114.30" stroke="#0a0a0a" stroke-width="1.25" stroke-linecap="round"/>
<line x1="281.40" y1="108.70" x2="306.40" y2="138.90" stroke="#0a0a0a" stroke-width="1.25" stroke-linecap="round"/>
<line x1="306.40" y1="138.90" x2="378.60" y2="114.30" stroke="#0a0a0a" stroke-width="1.25" stroke-linecap="round"/>
<line x1="275.50" y1="63.30" x2="277.90" y2="63.30" stroke="#1a1a1a" stroke-width="0.8" />
<text x="273.00" y="65.60" font-size="6.5" text-anchor="end" font-weight="normal" fill="#111" >40</text>
<line x1="275.94" y1="68.97" x2="278.34" y2="68.97" stroke="#1a1a1a" stroke-width="0.8" />
<text x="273.44" y="71.27" font-size="6.5" text-anchor="end" font-weight="normal" fill="#111" >30</text>
<line x1="276.38" y1="74.65" x2="278.77" y2="74.65" stroke="#1a1a1a" stroke-width="0.8" />
<text x="273.88" y="76.95" font-size="6.5" text-anchor="end" font-weight="normal" fill="#111" >20</text>
<line x1="276.81" y1="80.33" x2="279.21" y2="80.33" stroke="#1a1a1a" stroke-width="0.8" />
<text x="274.31" y="82.62" font-size="6.5" text-anchor="end" font-weight="normal" fill="#111" >10</text>
<line x1="277.25" y1="86.00" x2="279.65" y2="86.00" stroke="#1a1a1a" stroke-width="0.8" />
<text x="274.75" y="88.30" font-size="6.5" text-anchor="end" font-weight="normal" fill="#111" >0</text>
<line x1="277.69" y1="91.67" x2="280.09" y2="91.67" stroke="#1a1a1a" stroke-width="0.8" />
<text x="275.19" y="93.97" font-size="6.5" text-anchor="end" font-weight="normal" fill="#111" >−10</text>
<line x1="278.12" y1="97.35" x2="280.52" y2="97.35" stroke="#1a1a1a" stroke-width="0.8" />
<text x="275.62" y="99.65" font-size="6.5" text-anchor="end" font-weight="normal" fill="#111" >−20</text>
<line x1="278.56" y1="103.03" x2="280.96" y2="103.03" stroke="#1a1a1a" stroke-width="0.8" />
<text x="276.06" y="105.33" font-size="6.5" text-anchor="end" font-weight="normal" fill="#111" >−30</text>
<line x1="279.00" y1="108.70" x2="281.40" y2="108.70" stroke="#1a1a1a" stroke-width="0.8" />
<text x="276.50" y="111.00" font-size="6.5" text-anchor="end" font-weight="normal" fill="#111" >−40</text>
<line x1="281.90" y1="109.30" x2="280.00" y2="110.80" stroke="#1a1a1a" stroke-width="0.8" />
<text x="273.30" y="116.70" font-size="6.5" text-anchor="middle" font-weight="normal" fill="#111" >200</text>
<line x1="288.65" y1="117.46" x2="286.75" y2="118.96" stroke="#1a1a1a" stroke-width="0.8" />
<text x="279.20" y="124.70" font-size="6.5" text-anchor="middle" font-weight="normal" fill="#111" >100</text>
<line x1="294.90" y1="125.01" x2="293.00" y2="126.51" stroke="#1a1a1a" stroke-width="0.8" />
<text x="287.30" y="132.40" font-size="6.5" text-anchor="middle" font-weight="normal" fill="#111" >50</text>
<line x1="301.27" y1="132.71" x2="299.38" y2="134.21" stroke="#1a1a1a" stroke-width="0.8" />
<text x="292.20" y="140.70" font-size="6.5" text-anchor="middle" font-weight="normal" fill="#111" >12.5</text>
<line x1="317.52" y1="135.11" x2="318.52" y2="137.51" stroke="#1a1a1a" stroke-width="0.8" />
<text x="320.00" y="147.70" font-size="6.5" text-anchor="middle" font-weight="normal" fill="#111" >0.5</text>
<line x1="329.36" y1="131.08" x2="330.36" y2="133.48" stroke="#1a1a1a" stroke-width="0.8" />
<text x="332.20" y="142.50" font-size="6.5" text-anchor="middle" font-weight="normal" fill="#111" >1</text>
<line x1="341.20" y1="127.04" x2="342.20" y2="129.44" stroke="#1a1a1a" stroke-width="0.8" />
<text x="343.50" y="138.00" font-size="6.5" text-anchor="middle" font-weight="normal" fill="#111" >2</text>
<line x1="353.69" y1="122.79" x2="354.69" y2="125.19" stroke="#1a1a1a" stroke-width="0.8" />
<text x="355.60" y="133.40" font-size="6.5" text-anchor="middle" font-weight="normal" fill="#111" >4</text>
<line x1="365.89" y1="118.63" x2="366.89" y2="121.03" stroke="#1a1a1a" stroke-width="0.8" />
<text x="367.60" y="129.30" font-size="6.5" text-anchor="middle" font-weight="normal" fill="#111" >8</text>
<line x1="378.09" y1="114.47" x2="379.09" y2="116.87" stroke="#1a1a1a" stroke-width="0.8" />
<text x="380.30" y="125.60" font-size="6.5" text-anchor="middle" font-weight="normal" fill="#111" >16</text>
<text transform="translate(349.6,147.4) rotate(-19.5) scale(0.68,1)" font-size="7.2" text-anchor="middle" fill="#000" stroke="#000" stroke-width="0.22">Carfilzomib (nM)</text>
<text transform="translate(274.0,140.3) rotate(49.5) scale(0.68,1)" font-size="7.2" text-anchor="middle" fill="#000" stroke="#000" stroke-width="0.22">Subasumstat (nM)</text>
<text x="458.60" y="9.00" font-size="9.4" text-anchor="middle" font-weight="normal" fill="#111" >AMO1</text>
<text x="458.80" y="20.30" font-size="7.6" text-anchor="middle" font-weight="normal" fill="#111" >ZIP synergy score: 10.016</text>
<defs><linearGradient id="cb270" x1="0" y1="0" x2="1" y2="0"><stop offset="0" stop-color="#5fa544"/><stop offset="0.234" stop-color="#b3d6a3"/><stop offset="0.438" stop-color="#ffffff"/><stop offset="0.498" stop-color="#ffffff"/><stop offset="0.734" stop-color="#ee93a1"/><stop offset="1" stop-color="#cc1a3c"/></linearGradient></defs>
<rect x="400.00" y="34.40" width="121.00" height="1.90" fill="url(#cb270)" />
<text x="401.10" y="29.90" font-size="6.5" text-anchor="middle" font-weight="normal" fill="#111" >−30</text>
<text x="420.28" y="29.90" font-size="6.5" text-anchor="middle" font-weight="normal" fill="#111" >−20</text>
<text x="439.47" y="29.90" font-size="6.5" text-anchor="middle" font-weight="normal" fill="#111" >−10</text>
<text x="458.65" y="29.90" font-size="6.5" text-anchor="middle" font-weight="normal" fill="#111" >0</text>
<text x="477.83" y="29.90" font-size="6.5" text-anchor="middle" font-weight="normal" fill="#111" >10</text>
<text x="497.02" y="29.90" font-size="6.5" text-anchor="middle" font-weight="normal" fill="#111" >20</text>
<text x="516.20" y="29.90" font-size="6.5" text-anchor="middle" font-weight="normal" fill="#111" >30</text>
<line x1="485.60" y1="41.30" x2="485.30" y2="87.30" stroke="#111" stroke-width="1.25" stroke-dasharray="2.4,2.4"/>
<line x1="416.40" y1="108.70" x2="485.30" y2="87.30" stroke="#111" stroke-width="1.25" stroke-dasharray="2.4,2.4"/>
<line x1="513.60" y1="114.30" x2="485.30" y2="87.30" stroke="#111" stroke-width="1.25" stroke-dasharray="2.4,2.4"/>
<g transform="scale(0.1)" stroke-width="5.2" stroke-linejoin="round">
<path fill="#eb1923" stroke="#970e14" d="M4847 553l24-10l-16-46l-24 13z"/>
<path fill="#eb1923" stroke="#970e14" d="M4823 561l24-8l-16-43l-24 11z"/>
<path fill="#ee4048" stroke="#8f2328" d="M4862 590l24-7l-15-40l-24 10z"/>
<path fill="#eb1923" stroke="#970e14" d="M4799 567l24-6l-16-40l-24 11z"/>
<path fill="#ee4048" stroke="#8f2328" d="M4838 596l24-6l-15-37l-24 8z"/>
<path fill="#f26c72" stroke="#86383b" d="M4877 623l24-5l-15-35l-24 7z"/>
<path fill="#eb1923" stroke="#970e14" d="M4775 573l24-6l-16-35l-23 9z"/>
<path fill="#ee3d45" stroke="#902227" d="M4814 599l24-3l-15-35l-24 6z"/>
<path fill="#f1686e" stroke="#87363a" d="M4853 626l24-3l-15-33l-24 6z"/>
<path fill="#eb1923" stroke="#970e14" d="M4751 578l24-5l-15-32l-24 8z"/>
<path fill="#f58e93" stroke="#7f4649" d="M4892 651l24-4l-15-29l-24 5z"/>
<path fill="#ed3840" stroke="#911f24" d="M4790 602l24-3l-15-32l-24 6z"/>
<path fill="#f16067" stroke="#883337" d="M4829 628l24-2l-15-30l-24 3z"/>
<path fill="#eb1923" stroke="#970e14" d="M4727 582l24-4l-15-29l-24 8z"/>
<path fill="#f4878c" stroke="#804446" d="M4868 653l24-2l-15-28l-24 3z"/>
<path fill="#ed3039" stroke="#921b20" d="M4766 604l24-2l-15-29l-24 5z"/>
<path fill="#f7a9ad" stroke="#795052" d="M4907 676l24-4l-15-25l-24 4z"/>
<path fill="#f0565d" stroke="#8b2e32" d="M4805 628l24 0l-15-29l-24 3z"/>
<path fill="#eb1923" stroke="#970e14" d="M4703 585l24-3l-15-25l-24 7z"/>
<path fill="#f37c82" stroke="#833f42" d="M4844 653l24 0l-15-27l-24 2z"/>
<path fill="#ec2831" stroke="#94171c" d="M4742 605l24-1l-15-26l-24 4z"/>
<path fill="#f6a0a4" stroke="#7b4d4f" d="M4883 677l24-1l-15-25l-24 2z"/>
<path fill="#ef4a52" stroke="#8d282d" d="M4781 628l24 0l-15-26l-24 2z"/>
<path fill="#f9bdbf" stroke="#755657" d="M4922 697l24-3l-15-22l-24 4z"/>
<path fill="#eb1923" stroke="#970e14" d="M4679 589l24-4l-15-21l-24 7z"/>
<path fill="#f26f75" stroke="#85393d" d="M4820 652l24 1l-15-25l-24 0z"/>
<path fill="#eb1e28" stroke="#961217" d="M4718 606l24-1l-15-23l-24 3z"/>
<path fill="#f59397" stroke="#7e484a" d="M4859 676l24 1l-15-24l-24 0z"/>
<path fill="#ee3c45" stroke="#902226" d="M4757 627l24 1l-15-24l-24 1z"/>
<path fill="#f8b2b6" stroke="#775354" d="M4898 698l24-1l-15-21l-24 1z"/>
<path fill="#eb1923" stroke="#970e14" d="M4655 593l24-4l-15-18l-24 7z"/>
<path fill="#f15f66" stroke="#893236" d="M4796 650l24 2l-15-24l-24 0z"/>
<path fill="#facbcd" stroke="#715a5b" d="M4937 717l24-3l-15-20l-24 3z"/>
<path fill="#eb1923" stroke="#970e14" d="M4694 607l24-1l-15-21l-24 4z"/>
<path fill="#f48388" stroke="#814245" d="M4835 674l24 2l-15-23l-24-1z"/>
<path fill="#ec2e38" stroke="#921a1f" d="M4733 626l24 1l-15-22l-24 1z"/>
<path fill="#f7a4a8" stroke="#7a4e50" d="M4874 697l24 1l-15-21l-24-1z"/>
<path fill="#eb1923" stroke="#970e14" d="M4631 598l24-5l-15-15l-24 8z"/>
<path fill="#ef4e56" stroke="#8c2b2f" d="M4772 648l24 2l-15-22l-24-1z"/>
<path fill="#f9c0c3" stroke="#745758" d="M4913 718l24-1l-15-20l-24 1z"/>
<path fill="#eb1923" stroke="#970e14" d="M4670 609l24-2l-15-18l-24 4z"/>
<path fill="#f27177" stroke="#853b3e" d="M4811 672l24 2l-15-22l-24-2z"/>
<path fill="#fbd5d7" stroke="#6f5d5e" d="M4952 735l24-4l-15-17l-24 3z"/>
<path fill="#eb212a" stroke="#951318" d="M4709 625l24 1l-15-20l-24 1z"/>
<path fill="#f59498" stroke="#7e484b" d="M4850 695l24 2l-15-21l-24-2z"/>
<path fill="#eb1923" stroke="#970e14" d="M4607 603l24-5l-15-12l-24 7z"/>
<path fill="#ee3d46" stroke="#902227" d="M4748 646l24 2l-15-21l-24-1z"/>
<path fill="#f8b3b6" stroke="#775354" d="M4889 717l24 1l-15-20l-24-1z"/>
<path fill="#eb1923" stroke="#970e14" d="M4646 611l24-2l-15-16l-24 5z"/>
<path fill="#f15e65" stroke="#893236" d="M4787 669l24 3l-15-22l-24-2z"/>
<path fill="#faccce" stroke="#715a5b" d="M4928 737l24-2l-15-18l-24 1z"/>
<path fill="#eb1923" stroke="#970e14" d="M4685 626l24-1l-15-18l-24 2z"/>
<path fill="#f48186" stroke="#824144" d="M4826 693l24 2l-15-21l-24-2z"/>
<path fill="#fcdddf" stroke="#6d5f5f" d="M4967 752l24-4l-15-17l-24 4z"/>
<path fill="#eb1923" stroke="#970e14" d="M4583 609l24-6l-15-10l-24 8z"/>
<path fill="#ec2c36" stroke="#93191e" d="M4724 644l24 2l-15-20l-24-1z"/>
<path fill="#f6a2a6" stroke="#7b4d4f" d="M4865 716l24 1l-15-20l-24-2z"/>
<path fill="#eb1923" stroke="#970e14" d="M4622 615l24-4l-15-13l-24 5z"/>
<path fill="#ef4b53" stroke="#8d292d" d="M4763 666l24 3l-15-21l-24-2z"/>
<path fill="#f9bec1" stroke="#745758" d="M4904 737l24 0l-15-19l-24-1z"/>
<path fill="#eb1923" stroke="#970e14" d="M4661 627l24-1l-15-17l-24 2z"/>
<path fill="#f26d74" stroke="#86393c" d="M4802 690l24 3l-15-21l-24-3z"/>
<path fill="#fbd5d7" stroke="#6f5d5e" d="M4943 755l24-3l-15-17l-24 2z"/>
<path fill="#eb1923" stroke="#970e14" d="M4559 616l24-7l-15-8l-24 9z"/>
<path fill="#eb1d27" stroke="#961116" d="M4700 644l24 0l-15-19l-24 1z"/>
<path fill="#f58f94" stroke="#7e4749" d="M4841 713l24 3l-15-21l-24-2z"/>
<path fill="#fce4e5" stroke="#6c6061" d="M4982 769l24-5l-15-16l-24 4z"/>
<path fill="#eb1923" stroke="#970e14" d="M4597 620l25-5l-15-12l-24 6z"/>
<path fill="#ed3942" stroke="#902025" d="M4739 664l24 2l-15-20l-24-2z"/>
<path fill="#f8afb2" stroke="#785253" d="M4880 736l24 1l-15-20l-24-1z"/>
<path fill="#eb1923" stroke="#970e14" d="M4637 630l24-3l-15-16l-24 4z"/>
<path fill="#f05a61" stroke="#8a3034" d="M4778 687l24 3l-15-21l-24-3z"/>
<path fill="#fac9cc" stroke="#725a5b" d="M4919 756l24-1l-15-18l-24 0z"/>
<path fill="#eb1923" stroke="#970e14" d="M4535 625l24-9l-15-6l-24 9z"/>
<path fill="#eb1923" stroke="#970e14" d="M4676 644l24 0l-15-18l-24 1z"/>
<path fill="#f37c82" stroke="#833f42" d="M4817 711l24 2l-15-20l-24-3z"/>
<path fill="#fcdedf" stroke="#6d5f5f" d="M4958 773l24-4l-15-17l-24 3z"/>
<path fill="#eb1923" stroke="#970e14" d="M4573 627l24-7l-14-11l-24 7z"/>
<path fill="#ec2831" stroke="#94171c" d="M4715 663l24 1l-15-20l-24 0z"/>
<path fill="#f69da2" stroke="#7b4c4e" d="M4856 734l24 2l-15-20l-24-3z"/>
<path fill="#fdebec" stroke="#6a6262" d="M4996 787l25-7l-15-16l-24 5z"/>
<path fill="#eb1923" stroke="#970e14" d="M4612 634l25-4l-15-15l-25 5z"/>
<path fill="#ef474f" stroke="#8e272b" d="M4754 685l24 2l-15-21l-24-2z"/>
<path fill="#f9bbbe" stroke="#755657" d="M4895 756l24 0l-15-19l-24-1z"/>
<path fill="#eb1923" stroke="#970e14" d="M4511 635l24-10l-15-6l-24 11z"/>
<path fill="#eb1923" stroke="#970e14" d="M4651 646l25-2l-15-17l-24 3z"/>
<path fill="#f1686f" stroke="#87373a" d="M4793 708l24 3l-15-21l-24-3z"/>
<path fill="#fbd4d6" stroke="#6f5d5d" d="M4933 776l25-3l-15-18l-24 1z"/>
<path fill="#eb1923" stroke="#970e14" d="M4549 635l24-8l-14-11l-24 9z"/>
<path fill="#eb1923" stroke="#970e14" d="M4691 663l24 0l-15-19l-24 0z"/>
<path fill="#f48b90" stroke="#7f4548" d="M4832 733l24 1l-15-21l-24-2z"/>
<path fill="#fce7e8" stroke="#6b6161" d="M4972 793l24-6l-14-18l-24 4z"/>
<path fill="#eb1923" stroke="#970e14" d="M4588 640l24-6l-15-14l-24 7z"/>
<path fill="#ed353e" stroke="#911e23" d="M4730 684l24 1l-15-21l-24-1z"/>
<path fill="#f7acaf" stroke="#785152" d="M4871 756l24 0l-15-20l-24-2z"/>
<path fill="#fef4f4" stroke="#686464" d="M5011 806l25-8l-15-18l-25 7z"/>
<path fill="#eb1923" stroke="#970e14" d="M4487 647l24-12l-15-5l-24 11z"/>
<path fill="#eb1923" stroke="#970e14" d="M4627 650l24-4l-14-16l-25 4z"/>
<path fill="#f0565d" stroke="#8b2e32" d="M4769 707l24 1l-15-21l-24-2z"/>
<path fill="#fac9cb" stroke="#72595b" d="M4909 778l24-2l-14-20l-24 0z"/>
<path fill="#eb1923" stroke="#970e14" d="M4525 645l24-10l-14-10l-24 10z"/>
<path fill="#eb1923" stroke="#970e14" d="M4666 665l25-2l-15-19l-25 2z"/>
<path fill="#f3797e" stroke="#833e41" d="M4808 731l24 2l-15-22l-24-3z"/>
<path fill="#fce1e2" stroke="#6c6060" d="M4948 797l24-4l-14-20l-25 3z"/>
<path fill="#eb1923" stroke="#970e14" d="M4564 648l24-8l-15-13l-24 8z"/>
<path fill="#ec262f" stroke="#94161b" d="M4706 684l24 0l-15-21l-24 0z"/>
<path fill="#f69b9f" stroke="#7c4b4d" d="M4847 755l24 1l-15-22l-24-1z"/>
<path fill="#fdf3f3" stroke="#686364" d="M4987 813l24-7l-15-19l-24 6z"/>
<path fill="#eb1923" stroke="#970e14" d="M4463 660l24-13l-15-6l-23 13z"/>
<path fill="#eb1923" stroke="#970e14" d="M4603 656l24-6l-15-16l-24 6z"/>
<path fill="#ee454d" stroke="#8e262a" d="M4745 706l24 1l-15-22l-24-1z"/>
<path fill="#f9bbbe" stroke="#755657" d="M4885 779l24-1l-14-22l-24 0z"/>
<path fill="#fefefe" stroke="#666565" d="M5026 826l24-10l-14-18l-25 8z"/>
<path fill="#eb1923" stroke="#970e14" d="M4501 656l24-11l-14-10l-24 12z"/>
<path fill="#eb1923" stroke="#970e14" d="M4642 669l24-4l-15-19l-24 4z"/>
<path fill="#f1676d" stroke="#873639" d="M4784 730l24 1l-15-23l-24-1z"/>
<path fill="#fbd8d9" stroke="#6e5d5e" d="M4924 800l24-3l-15-21l-24 2z"/>
<path fill="#eb1923" stroke="#970e14" d="M4540 657l24-9l-15-13l-24 10z"/>
<path fill="#eb1a24" stroke="#960f15" d="M4681 686l25-2l-15-21l-25 2z"/>
<path fill="#f48a8f" stroke="#804547" d="M4823 755l24 0l-15-22l-24-2z"/>
<path fill="#fdeff0" stroke="#696363" d="M4963 819l24-6l-15-20l-24 4z"/>
<path fill="#eb242d" stroke="#95151a" d="M4439 674l24-14l-14-6l-24 14z"/>
<path fill="#eb1923" stroke="#970e14" d="M4579 664l24-8l-15-16l-24 8z"/>
<path fill="#ed363f" stroke="#911e23" d="M4720 707l25-1l-15-22l-24 0z"/>
<path fill="#f7adb1" stroke="#785153" d="M4861 779l24 0l-14-23l-24-1z"/>
<path fill="#ffffff" stroke="#666666" d="M5001 835l25-9l-15-20l-24 7z"/>
<path fill="#eb1923" stroke="#970e14" d="M4477 670l24-14l-14-9l-24 13z"/>
<path fill="#eb1923" stroke="#970e14" d="M4618 675l24-6l-15-19l-24 6z"/>
<path fill="#f0575e" stroke="#8a2f33" d="M4760 730l24 0l-15-23l-24-1z"/>
<path fill="#facdcf" stroke="#715b5c" d="M4900 803l24-3l-15-22l-24 1z"/>
<path fill="#ffffff" stroke="#666666" d="M5041 846l24-12l-15-18l-24 10z"/>
<path fill="#eb1923" stroke="#970e14" d="M4516 669l24-12l-15-12l-24 11z"/>
<path fill="#eb1923" stroke="#970e14" d="M4657 690l24-4l-15-21l-24 4z"/>
<path fill="#f37b80" stroke="#833e41" d="M4798 755l25 0l-15-24l-24-1z"/>
<path fill="#fde9ea" stroke="#6a6162" d="M4938 824l25-5l-15-22l-24 3z"/>
<path fill="#ed313a" stroke="#921c21" d="M4416 689l23-15l-14-6l-23 14z"/>
<path fill="#eb1923" stroke="#970e14" d="M4555 673l24-9l-15-16l-24 9z"/>
<path fill="#ec2a34" stroke="#93181d" d="M4696 709l24-2l-14-23l-25 2z"/>
<path fill="#f69fa3" stroke="#7b4c4e" d="M4837 780l24-1l-14-24l-24 0z"/>
<path fill="#ffffff" stroke="#666666" d="M4977 843l24-8l-14-22l-24 6z"/>
<path fill="#eb1923" stroke="#970e14" d="M4454 684l23-14l-14-10l-24 14z"/>
<path fill="#eb1923" stroke="#970e14" d="M4594 683l24-8l-15-19l-24 8z"/>
<path fill="#ef4951" stroke="#8d282c" d="M4735 732l25-2l-15-24l-25 1z"/>
<path fill="#f9c2c4" stroke="#735859" d="M4876 805l24-2l-15-24l-24 0z"/>
<path fill="#ffffff" stroke="#666666" d="M5016 856l25-10l-15-20l-25 9z"/>
<path fill="#eb1923" stroke="#970e14" d="M4492 683l24-14l-15-13l-24 14z"/>
<path fill="#eb1923" stroke="#970e14" d="M4633 696l24-6l-15-21l-24 6z"/>
<path fill="#f26c73" stroke="#86383c" d="M4774 756l24-1l-14-25l-24 0z"/>
<path fill="#fce2e3" stroke="#6c6060" d="M4914 829l24-5l-14-24l-24 3z"/>
<path fill="#ffffff" stroke="#666666" d="M5055 865l25-13l-15-18l-24 12z"/>
<path fill="#ee4048" stroke="#8f2328" d="M4392 704l24-15l-14-7l-24 14z"/>
<path fill="#eb1923" stroke="#970e14" d="M4531 685l24-12l-15-16l-24 12z"/>
<path fill="#eb232c" stroke="#951419" d="M4672 714l24-5l-15-23l-24 4z"/>
<path fill="#f59196" stroke="#7e474a" d="M4813 781l24-1l-14-25l-25 0z"/>
<path fill="#fefdfd" stroke="#666565" d="M4953 849l24-6l-14-24l-25 5z"/>
<path fill="#ec2731" stroke="#94161c" d="M4430 699l24-15l-15-10l-23 15z"/>
<path fill="#eb1923" stroke="#970e14" d="M4569 692l25-9l-15-19l-24 9z"/>
<path fill="#ee3f47" stroke="#8f2327" d="M4711 735l24-3l-15-25l-24 2z"/>
<path fill="#f8b6b9" stroke="#765456" d="M4852 807l24-2l-15-26l-24 1z"/>
<path fill="#ffffff" stroke="#666666" d="M4991 866l25-10l-15-21l-24 8z"/>
<path fill="#eb1923" stroke="#970e14" d="M4468 697l24-14l-15-13l-23 14z"/>
<path fill="#eb1923" stroke="#970e14" d="M4608 704l25-8l-15-21l-24 8z"/>
<path fill="#f16067" stroke="#883337" d="M4750 758l24-2l-14-26l-25 2z"/>
<path fill="#fbdadb" stroke="#6e5e5f" d="M4890 833l24-4l-14-26l-24 2z"/>
<path fill="#ffffff" stroke="#666666" d="M5030 877l25-12l-14-19l-25 10z"/>
<path fill="#ef4e56" stroke="#8c2a2f" d="M4368 719l24-15l-14-8l-23 15z"/>
<path fill="#eb1923" stroke="#970e14" d="M4506 698l25-13l-15-16l-24 14z"/>
<path fill="#eb1e28" stroke="#961117" d="M4648 720l24-6l-15-24l-24 6z"/>
<path fill="#f4858a" stroke="#814345" d="M4789 784l24-3l-15-26l-24 1z"/>
<path fill="#fef9f9" stroke="#676565" d="M4929 856l24-7l-15-25l-24 5z"/>
<path fill="#ffffff" stroke="#666666" d="M5070 882l25-14l-15-16l-25 13z"/>
<path fill="#ed363f" stroke="#911e23" d="M4406 715l24-16l-14-10l-24 15z"/>
<path fill="#eb1923" stroke="#970e14" d="M4545 704l24-12l-14-19l-24 12z"/>
<path fill="#ed3840" stroke="#911f24" d="M4687 740l24-5l-15-26l-24 5z"/>
<path fill="#f7abaf" stroke="#785152" d="M4827 810l25-3l-15-27l-24 1z"/>
<path fill="#ffffff" stroke="#666666" d="M4967 874l24-8l-14-23l-24 6z"/>
<path fill="#eb232d" stroke="#95141a" d="M4444 712l24-15l-14-13l-24 15z"/>
<path fill="#eb1923" stroke="#970e14" d="M4584 714l24-10l-14-21l-25 9z"/>
<path fill="#f0575e" stroke="#8a2f33" d="M4726 762l24-4l-15-26l-24 3z"/>
<path fill="#fbd1d3" stroke="#705c5d" d="M4866 837l24-4l-14-28l-24 2z"/>
<path fill="#ffffff" stroke="#666666" d="M5006 888l24-11l-14-21l-25 10z"/>
<path fill="#f05d64" stroke="#893135" d="M4345 734l23-15l-13-8l-24 14z"/>
<path fill="#eb1923" stroke="#970e14" d="M4482 713l24-15l-14-15l-24 14z"/>
<path fill="#eb1d27" stroke="#961117" d="M4623 728l25-8l-15-24l-25 8z"/>
<path fill="#f37b80" stroke="#833e41" d="M4764 787l25-3l-15-28l-24 2z"/>
<path fill="#fef4f4" stroke="#686464" d="M4904 861l25-5l-15-27l-24 4z"/>
<path fill="#ffffff" stroke="#666666" d="M5045 895l25-13l-15-17l-25 12z"/>
<path fill="#ee464e" stroke="#8e262b" d="M4382 730l24-15l-14-11l-24 15z"/>
<path fill="#eb1923" stroke="#970e14" d="M4521 717l24-13l-14-19l-25 13z"/>
<path fill="#ed343d" stroke="#911d22" d="M4662 747l25-7l-15-26l-24 6z"/>
<path fill="#f6a1a5" stroke="#7b4d4f" d="M4803 813l24-3l-14-29l-24 3z"/>
<path fill="#ffffff" stroke="#666666" d="M4943 882l24-8l-14-25l-24 7z"/>
<path fill="#ffffff" stroke="#666666" d="M5085 898l25-14l-15-16l-25 14z"/>
<path fill="#ed333b" stroke="#921c21" d="M4420 728l24-16l-14-13l-24 16z"/>
<path fill="#eb1923" stroke="#970e14" d="M4560 725l24-11l-15-22l-24 12z"/>
<path fill="#ef5159" stroke="#8b2c30" d="M4701 768l25-6l-15-27l-24 5z"/>
<path fill="#fac9cb" stroke="#72595a" d="M4842 841l24-4l-14-30l-25 3z"/>
<path fill="#ffffff" stroke="#666666" d="M4981 898l25-10l-15-22l-24 8z"/>
<path fill="#f26c72" stroke="#86383b" d="M4321 750l24-16l-14-9l-23 15z"/>
<path fill="#ec242e" stroke="#94151a" d="M4459 728l23-15l-14-16l-24 15z"/>
<path fill="#eb202a" stroke="#951218" d="M4599 738l24-10l-15-24l-24 10z"/>
<path fill="#f27379" stroke="#853b3e" d="M4740 792l24-5l-14-29l-24 4z"/>
<path fill="#fdeeef" stroke="#696263" d="M4880 867l24-6l-14-28l-24 4z"/>
<path fill="#ffffff" stroke="#666666" d="M5020 908l25-13l-15-18l-24 11z"/>
<path fill="#f0555d" stroke="#8b2e32" d="M4359 746l23-16l-14-11l-23 15z"/>
<path fill="#eb1d27" stroke="#961116" d="M4497 731l24-14l-15-19l-24 15z"/>
<path fill="#ed343d" stroke="#911d22" d="M4638 755l24-8l-14-27l-25 8z"/>
<path fill="#f6999d" stroke="#7d4a4c" d="M4779 818l24-5l-14-29l-25 3z"/>
<path fill="#ffffff" stroke="#666666" d="M4918 889l25-7l-14-26l-25 5z"/>
<path fill="#ffffff" stroke="#666666" d="M5060 912l25-14l-15-16l-25 13z"/>
<path fill="#ee424a" stroke="#8f2529" d="M4397 743l23-15l-14-13l-24 15z"/>
<path fill="#eb1d27" stroke="#961117" d="M4536 738l24-13l-15-21l-24 13z"/>
<path fill="#ef4f56" stroke="#8c2b2f" d="M4677 775l24-7l-14-28l-25 7z"/>
<path fill="#f9c1c3" stroke="#745758" d="M4817 845l25-4l-15-31l-24 3z"/>
<path fill="#ffffff" stroke="#666666" d="M4957 907l24-9l-14-24l-24 8z"/>
<path fill="#ffffff" stroke="#666666" d="M5100 911l25-14l-15-13l-25 14z"/>
<path fill="#f37b81" stroke="#833f42" d="M4298 766l23-16l-13-10l-24 15z"/>
<path fill="#ed343d" stroke="#911d22" d="M4435 744l24-16l-15-16l-24 16z"/>
<path fill="#ec2630" stroke="#94161b" d="M4575 750l24-12l-15-24l-24 11z"/>
<path fill="#f26e75" stroke="#85393d" d="M4716 798l24-6l-14-30l-25 6z"/>
<path fill="#fde9e9" stroke="#6b6162" d="M4856 872l24-5l-14-30l-24 4z"/>
<path fill="#ffffff" stroke="#666666" d="M4996 919l24-11l-14-20l-25 10z"/>
<path fill="#f1656c" stroke="#873539" d="M4335 761l24-15l-14-12l-24 16z"/>
<path fill="#ec2b34" stroke="#93181e" d="M4473 746l24-15l-15-18l-23 15z"/>
<path fill="#ed3740" stroke="#911f24" d="M4614 765l24-10l-15-27l-24 10z"/>
<path fill="#f59397" stroke="#7e484a" d="M4754 823l25-5l-15-31l-24 5z"/>
<path fill="#ffffff" stroke="#666666" d="M4894 896l24-7l-14-28l-24 6z"/>
<path fill="#ffffff" stroke="#666666" d="M5035 924l25-12l-15-17l-25 13z"/>
<path fill="#f0525a" stroke="#8b2c30" d="M4373 759l24-16l-15-13l-23 16z"/>
<path fill="#ec2932" stroke="#94171d" d="M4512 752l24-14l-15-21l-24 14z"/>
<path fill="#ef4f56" stroke="#8c2b2f" d="M4652 784l25-9l-15-28l-24 8z"/>
<path fill="#f9babd" stroke="#755557" d="M4793 850l24-5l-14-32l-24 5z"/>
<path fill="#ffffff" stroke="#666666" d="M4932 916l25-9l-14-25l-25 7z"/>
<path fill="#ffffff" stroke="#666666" d="M5075 924l25-13l-15-13l-25 14z"/>
<path fill="#f48b90" stroke="#7f4548" d="M4275 782l23-16l-14-11l-23 16z"/>
<path fill="#ee434c" stroke="#8e252a" d="M4411 759l24-15l-15-16l-23 15z"/>
<path fill="#ec2f38" stroke="#921a20" d="M4550 762l25-12l-15-25l-24 13z"/>
<path fill="#f26d73" stroke="#86393c" d="M4691 805l25-7l-15-30l-24 7z"/>
<path fill="#fce3e4" stroke="#6c6061" d="M4831 878l25-6l-14-31l-25 4z"/>
<path fill="#ffffff" stroke="#666666" d="M4971 930l25-11l-15-21l-24 9z"/>
<path fill="#ffffff" stroke="#666666" d="M5115 920l25-13l-15-10l-25 14z"/>
<path fill="#f3757b" stroke="#843c3f" d="M4312 777l23-16l-14-11l-23 16z"/>
<path fill="#ed3a43" stroke="#902025" d="M4449 761l24-15l-14-18l-24 16z"/>
<path fill="#ee3d45" stroke="#902226" d="M4589 776l25-11l-15-27l-24 12z"/>
<path fill="#f58f94" stroke="#7f4749" d="M4730 830l24-7l-14-31l-24 6z"/>
<path fill="#ffffff" stroke="#666666" d="M4870 903l24-7l-14-29l-24 5z"/>
<path fill="#ffffff" stroke="#666666" d="M5010 937l25-13l-15-16l-24 11z"/>
<path fill="#f16269" stroke="#883437" d="M4349 775l24-16l-14-13l-24 15z"/>
<path fill="#ed363f" stroke="#911e23" d="M4488 767l24-15l-15-21l-24 15z"/>
<path fill="#ef5259" stroke="#8b2c30" d="M4628 793l24-9l-14-29l-24 10z"/>
<path fill="#f8b6b9" stroke="#765455" d="M4769 856l24-6l-14-32l-25 5z"/>
<path fill="#ffffff" stroke="#666666" d="M4908 924l24-8l-14-27l-24 7z"/>
<path fill="#ffffff" stroke="#666666" d="M5050 937l25-13l-15-12l-25 12z"/>
<path fill="#f69da1" stroke="#7c4c4e" d="M4252 799l23-17l-14-11l-23 16z"/>
<path fill="#f0535a" stroke="#8b2d31" d="M4387 774l24-15l-14-16l-24 16z"/>
<path fill="#ed3a42" stroke="#902025" d="M4526 776l24-14l-14-24l-24 14z"/>
<path fill="#f26d74" stroke="#86393c" d="M4667 814l24-9l-14-30l-25 9z"/>
<path fill="#fcdfe0" stroke="#6d5f60" d="M4807 884l24-6l-14-33l-24 5z"/>
<path fill="#ffffff" stroke="#666666" d="M4946 940l25-10l-14-23l-25 9z"/>
<path fill="#ffffff" stroke="#666666" d="M5090 933l25-13l-15-9l-25 13z"/>
<path fill="#f4868c" stroke="#804346" d="M4288 794l24-17l-14-11l-23 16z"/>
<path fill="#ef4951" stroke="#8d282c" d="M4425 776l24-15l-14-17l-24 15z"/>
<path fill="#ee454d" stroke="#8e262a" d="M4565 788l24-12l-14-26l-25 12z"/>
<path fill="#f58e93" stroke="#7f4649" d="M4706 838l24-8l-14-32l-25 7z"/>
<path fill="#ffffff" stroke="#666666" d="M4845 910l25-7l-14-31l-25 6z"/>
<path fill="#ffffff" stroke="#666666" d="M4985 948l25-11l-14-18l-25 11z"/>
<path fill="#ffffff" stroke="#666666" d="M5130 925l25-11l-15-7l-25 13z"/>
<path fill="#f27379" stroke="#853b3e" d="M4326 791l23-16l-14-14l-23 16z"/>
<path fill="#ee454d" stroke="#8e262a" d="M4463 781l25-14l-15-21l-24 15z"/>
<path fill="#f0575f" stroke="#8a2f33" d="M4604 804l24-11l-14-28l-25 11z"/>
<path fill="#f8b3b7" stroke="#775355" d="M4744 863l25-7l-15-33l-24 7z"/>
<path fill="#ffffff" stroke="#666666" d="M4884 932l24-8l-14-28l-24 7z"/>
<path fill="#ffffff" stroke="#666666" d="M5025 950l25-13l-15-13l-25 13z"/>
<path fill="#f8b0b3" stroke="#775254" d="M4228 816l24-17l-14-12l-23 17z"/>
<path fill="#f1636a" stroke="#883438" d="M4363 790l24-16l-14-15l-24 16z"/>
<path fill="#ee464e" stroke="#8e272b" d="M4502 789l24-13l-14-24l-24 15z"/>
<path fill="#f27077" stroke="#853a3d" d="M4643 824l24-10l-15-30l-24 9z"/>
<path fill="#fbdbdd" stroke="#6e5e5f" d="M4783 890l24-6l-14-34l-24 6z"/>
<path fill="#ffffff" stroke="#666666" d="M4922 949l24-9l-14-24l-24 8z"/>
<path fill="#ffffff" stroke="#666666" d="M5065 945l25-12l-15-9l-25 13z"/>
<path fill="#f6999d" stroke="#7c4a4c" d="M4265 811l23-17l-13-12l-23 17z"/>
<path fill="#f0585f" stroke="#8a2f33" d="M4401 791l24-15l-14-17l-24 15z"/>
<path fill="#ef4f57" stroke="#8c2b2f" d="M4541 801l24-13l-15-26l-24 14z"/>
<path fill="#f58f94" stroke="#7f4749" d="M4681 846l25-8l-15-33l-24 9z"/>
<path fill="#ffffff" stroke="#666666" d="M4821 916l24-6l-14-32l-24 6z"/>
<path fill="#ffffff" stroke="#666666" d="M4961 960l24-12l-14-18l-25 10z"/>
<path fill="#ffffff" stroke="#666666" d="M5105 936l25-11l-15-5l-25 13z"/>
<path fill="#f48489" stroke="#814245" d="M4302 808l24-17l-14-14l-24 17z"/>
<path fill="#f0535a" stroke="#8b2d31" d="M4439 796l24-15l-14-20l-24 15z"/>
<path fill="#f15f66" stroke="#893236" d="M4579 816l25-12l-15-28l-24 12z"/>
<path fill="#f8b3b6" stroke="#775355" d="M4720 871l24-8l-14-33l-24 8z"/>
<path fill="#ffffff" stroke="#666666" d="M4859 940l25-8l-14-29l-25 7z"/>
<path fill="#ffffff" stroke="#666666" d="M5000 962l25-12l-15-13l-25 11z"/>
<path fill="#f9c4c7" stroke="#735859" d="M4205 835l23-19l-13-12l-23 18z"/>
<path fill="#f27379" stroke="#843b3f" d="M4340 806l23-16l-14-15l-23 16z"/>
<path fill="#f0535b" stroke="#8b2d31" d="M4478 803l24-14l-14-22l-25 14z"/>
<path fill="#f3757b" stroke="#843c3f" d="M4618 834l25-10l-15-31l-24 11z"/>
<path fill="#fbdadb" stroke="#6e5e5f" d="M4758 898l25-8l-14-34l-25 7z"/>
<path fill="#ffffff" stroke="#666666" d="M4897 958l25-9l-14-25l-24 8z"/>
<path fill="#ffffff" stroke="#666666" d="M5040 958l25-13l-15-8l-25 13z"/>
<path fill="#f7adb0" stroke="#785153" d="M4242 830l23-19l-13-12l-24 17z"/>
<path fill="#f1676e" stroke="#87363a" d="M4377 807l24-16l-14-17l-24 16z"/>
<path fill="#f05a61" stroke="#8a3034" d="M4516 814l25-13l-15-25l-24 13z"/>
<path fill="#f59297" stroke="#7e484a" d="M4657 856l24-10l-14-32l-24 10z"/>
<path fill="#ffffff" stroke="#666666" d="M4797 924l24-8l-14-32l-24 6z"/>
<path fill="#ffffff" stroke="#666666" d="M4936 970l25-10l-15-20l-24 9z"/>
<path fill="#ffffff" stroke="#666666" d="M5080 947l25-11l-15-3l-25 12z"/>
<path fill="#f5979b" stroke="#7d4a4c" d="M4279 825l23-17l-14-14l-23 17z"/>
<path fill="#f16168" stroke="#883337" d="M4416 810l23-14l-14-20l-24 15z"/>
<path fill="#f1686e" stroke="#87363a" d="M4555 828l24-12l-14-28l-24 13z"/>
<path fill="#f8b4b7" stroke="#775355" d="M4695 880l25-9l-14-33l-25 8z"/>
<path fill="#ffffff" stroke="#666666" d="M4835 947l24-7l-14-30l-24 6z"/>
<path fill="#ffffff" stroke="#666666" d="M4975 974l25-12l-15-14l-24 12z"/>
<path fill="#fbdadc" stroke="#6e5e5f" d="M4183 855l22-20l-13-13l-23 18z"/>
<path fill="#f4858a" stroke="#814345" d="M4316 822l24-16l-14-15l-24 17z"/>
<path fill="#f16067" stroke="#883337" d="M4454 817l24-14l-15-22l-24 15z"/>
<path fill="#f37c82" stroke="#833f42" d="M4594 846l24-12l-14-30l-25 12z"/>
<path fill="#fbd9db" stroke="#6e5e5e" d="M4734 905l24-7l-14-35l-24 8z"/>
<path fill="#ffffff" stroke="#666666" d="M4873 967l24-9l-13-26l-25 8z"/>
<path fill="#ffffff" stroke="#666666" d="M5015 970l25-12l-15-8l-25 12z"/>
<path fill="#f9c2c5" stroke="#735859" d="M4219 849l23-19l-14-14l-23 19z"/>
<path fill="#f3777d" stroke="#843d40" d="M4354 822l23-15l-14-17l-23 16z"/>
<path fill="#f1666c" stroke="#873639" d="M4492 828l24-14l-14-25l-24 14z"/>
<path fill="#f5979b" stroke="#7d494c" d="M4632 866l25-10l-14-32l-25 10z"/>
<path fill="#ffffff" stroke="#666666" d="M4772 931l25-7l-14-34l-25 8z"/>
<path fill="#ffffff" stroke="#666666" d="M4911 980l25-10l-14-21l-25 9z"/>
<path fill="#ffffff" stroke="#666666" d="M5055 959l25-12l-15-2l-25 13z"/>
<path fill="#f7acaf" stroke="#785152" d="M4256 844l23-19l-14-14l-23 19z"/>
<path fill="#f26f75" stroke="#853a3d" d="M4392 825l24-15l-15-19l-24 16z"/>
<path fill="#f27278" stroke="#853b3e" d="M4531 841l24-13l-14-27l-25 13z"/>
<path fill="#f8b6ba" stroke="#765456" d="M4671 889l24-9l-14-34l-24 10z"/>
<path fill="#ffffff" stroke="#666666" d="M4810 955l25-8l-14-31l-24 8z"/>
<path fill="#ffffff" stroke="#666666" d="M4950 985l25-11l-14-14l-25 10z"/>
<path fill="#fef3f4" stroke="#686364" d="M4160 876l23-21l-14-15l-23 20z"/>
<path fill="#f6979c" stroke="#7d4a4c" d="M4293 840l23-18l-14-14l-23 17z"/>
<path fill="#f26d73" stroke="#86393c" d="M4430 831l24-14l-15-21l-23 14z"/>
<path fill="#f48489" stroke="#814245" d="M4569 857l25-11l-15-30l-24 12z"/>
<path fill="#fbdadc" stroke="#6e5e5f" d="M4709 914l25-9l-14-34l-25 9z"/>
<path fill="#ffffff" stroke="#666666" d="M4849 975l24-8l-14-27l-24 7z"/>
<path fill="#ffffff" stroke="#666666" d="M4990 982l25-12l-15-8l-25 12z"/>
<path fill="#fbdadc" stroke="#6e5e5f" d="M4196 870l23-21l-14-14l-22 20z"/>
<path fill="#f4888d" stroke="#804446" d="M4330 839l24-17l-14-16l-24 16z"/>
<path fill="#f27178" stroke="#853b3e" d="M4468 841l24-13l-14-25l-24 14z"/>
<path fill="#f69ca1" stroke="#7c4c4e" d="M4608 877l24-11l-14-32l-24 12z"/>
<path fill="#ffffff" stroke="#666666" d="M4748 939l24-8l-14-33l-24 7z"/>
<path fill="#ffffff" stroke="#666666" d="M4887 989l24-9l-14-22l-24 9z"/>
<path fill="#ffffff" stroke="#666666" d="M5030 970l25-11l-15-1l-25 12z"/>
<path fill="#f9c2c5" stroke="#735859" d="M4232 863l24-19l-14-14l-23 19z"/>
<path fill="#f37e84" stroke="#824043" d="M4368 840l24-15l-15-18l-23 15z"/>
<path fill="#f37c82" stroke="#833f42" d="M4507 853l24-12l-15-27l-24 14z"/>
<path fill="#f9babd" stroke="#755557" d="M4647 899l24-10l-14-33l-25 10z"/>
<path fill="#ffffff" stroke="#666666" d="M4786 963l24-8l-13-31l-25 7z"/>
<path fill="#fdfefd" stroke="#656565" d="M4926 996l24-11l-14-15l-25 10z"/>
<path fill="#f7acb0" stroke="#785153" d="M4269 859l24-19l-14-15l-23 19z"/>
<path fill="#f37a80" stroke="#833e41" d="M4406 845l24-14l-14-21l-24 15z"/>
<path fill="#f58c91" stroke="#7f4648" d="M4545 869l24-12l-14-29l-24 13z"/>
<path fill="#fcdcde" stroke="#6d5e5f" d="M4685 923l24-9l-14-34l-24 9z"/>
<path fill="#ffffff" stroke="#666666" d="M4824 983l25-8l-14-28l-25 8z"/>
<path fill="#ffffff" stroke="#666666" d="M4965 993l25-11l-15-8l-25 11z"/>
<path fill="#fef5f5" stroke="#686464" d="M4173 892l23-22l-13-15l-23 21z"/>
<path fill="#f69a9f" stroke="#7c4b4d" d="M4306 856l24-17l-14-17l-23 18z"/>
<path fill="#f37d82" stroke="#823f42" d="M4444 854l24-13l-14-24l-24 14z"/>
<path fill="#f7a3a7" stroke="#7a4e50" d="M4584 888l24-11l-14-31l-25 11z"/>
<path fill="#ffffff" stroke="#666666" d="M4723 947l25-8l-14-34l-25 9z"/>
<path fill="#ffffff" stroke="#666666" d="M4862 998l25-9l-14-22l-24 8z"/>
<path fill="#ffffff" stroke="#666666" d="M5006 982l24-12l-15 0l-25 12z"/>
<path fill="#fbdbdd" stroke="#6e5e5f" d="M4209 885l23-22l-13-14l-23 21z"/>
<path fill="#f58e93" stroke="#7f4649" d="M4344 856l24-16l-14-18l-24 17z"/>
<path fill="#f4868b" stroke="#814346" d="M4482 866l25-13l-15-25l-24 13z"/>
<path fill="#f9bfc2" stroke="#745758" d="M4622 909l25-10l-15-33l-24 11z"/>
<path fill="#ffffff" stroke="#666666" d="M4762 970l24-7l-14-32l-24 8z"/>
<path fill="#fafcfa" stroke="#646564" d="M4901 1006l25-10l-15-16l-24 9z"/>
<path fill="#f9c3c6" stroke="#735859" d="M4246 878l23-19l-13-15l-24 19z"/>
<path fill="#f4888d" stroke="#804446" d="M4382 860l24-15l-14-20l-24 15z"/>
<path fill="#f5959a" stroke="#7d494b" d="M4521 881l24-12l-14-28l-24 12z"/>
<path fill="#fcdfe1" stroke="#6d5f60" d="M4661 932l24-9l-14-34l-24 10z"/>
<path fill="#ffffff" stroke="#666666" d="M4800 991l24-8l-14-28l-24 8z"/>
<path fill="#ffffff" stroke="#666666" d="M4940 1004l25-11l-15-8l-24 11z"/>
<path fill="#f8afb2" stroke="#785253" d="M4283 874l23-18l-13-16l-24 19z"/>
<path fill="#f4888e" stroke="#804447" d="M4420 867l24-13l-14-23l-24 14z"/>
<path fill="#f7aaae" stroke="#795052" d="M4559 899l25-11l-15-31l-24 12z"/>
<path fill="#ffffff" stroke="#666666" d="M4699 955l24-8l-14-33l-24 9z"/>
<path fill="#ffffff" stroke="#666666" d="M4838 1007l24-9l-13-23l-25 8z"/>
<path fill="#ffffff" stroke="#666666" d="M4981 993l25-11l-16 0l-25 11z"/>
<path fill="#fef7f7" stroke="#676464" d="M4187 907l22-22l-13-15l-23 22z"/>
<path fill="#f69fa4" stroke="#7b4d4f" d="M4320 873l24-17l-14-17l-24 17z"/>
<path fill="#f59095" stroke="#7e4749" d="M4458 878l24-12l-14-25l-24 13z"/>
<path fill="#f9c5c7" stroke="#735859" d="M4598 919l24-10l-14-32l-24 11z"/>
<path fill="#ffffff" stroke="#666666" d="M4737 978l25-8l-14-31l-25 8z"/>
<path fill="#f7fbf7" stroke="#636563" d="M4877 1015l24-9l-14-17l-25 9z"/>
<path fill="#fcddde" stroke="#6d5f5f" d="M4223 900l23-22l-14-15l-23 22z"/>
<path fill="#f5979b" stroke="#7d494c" d="M4358 875l24-15l-14-20l-24 16z"/>
<path fill="#f69ea2" stroke="#7b4c4e" d="M4497 892l24-11l-14-28l-25 13z"/>
<path fill="#fce3e4" stroke="#6c6061" d="M4636 942l25-10l-14-33l-25 10z"/>
<path fill="#ffffff" stroke="#666666" d="M4775 999l25-8l-14-28l-24 7z"/>
<path fill="#fbfdfb" stroke="#656565" d="M4916 1015l24-11l-14-8l-25 10z"/>
<path fill="#fac5c8" stroke="#73595a" d="M4260 894l23-20l-14-15l-23 19z"/>
<path fill="#f59599" stroke="#7d494b" d="M4396 881l24-14l-14-22l-24 15z"/>
<path fill="#f8b1b5" stroke="#775354" d="M4535 910l24-11l-14-30l-24 12z"/>
<path fill="#ffffff" stroke="#666666" d="M4675 964l24-9l-14-32l-24 9z"/>
<path fill="#ffffff" stroke="#666666" d="M4814 1015l24-8l-14-24l-24 8z"/>
<path fill="#ffffff" stroke="#666666" d="M4956 1004l25-11l-16 0l-25 11z"/>
<path fill="#f8b3b6" stroke="#775355" d="M4297 891l23-18l-14-17l-23 18z"/>
<path fill="#f69a9e" stroke="#7c4b4d" d="M4434 890l24-12l-14-24l-24 13z"/>
<path fill="#facacd" stroke="#725a5b" d="M4573 930l25-11l-14-31l-25 11z"/>
<path fill="#ffffff" stroke="#666666" d="M4713 986l24-8l-14-31l-24 8z"/>
<path fill="#f6fbf6" stroke="#636563" d="M4852 1024l25-9l-15-17l-24 9z"/>
<path fill="#fef9f9" stroke="#676565" d="M4200 923l23-23l-14-15l-22 22z"/>
<path fill="#f7a7ab" stroke="#794f51" d="M4334 891l24-16l-14-19l-24 17z"/>
<path fill="#f7a6aa" stroke="#7a4f51" d="M4472 904l25-12l-15-26l-24 12z"/>
<path fill="#fce7e8" stroke="#6b6161" d="M4612 951l24-9l-14-33l-24 10z"/>
<path fill="#ffffff" stroke="#666666" d="M4751 1006l24-7l-13-29l-25 8z"/>
<path fill="#f8fcf8" stroke="#646564" d="M4891 1025l25-10l-15-9l-24 9z"/>
<path fill="#fcdfe0" stroke="#6d5f60" d="M4236 915l24-21l-14-16l-23 22z"/>
<path fill="#f6a2a6" stroke="#7a4d4f" d="M4372 895l24-14l-14-21l-24 15z"/>
<path fill="#f8b8bb" stroke="#765556" d="M4511 920l24-10l-14-29l-24 11z"/>
<path fill="#ffffff" stroke="#666666" d="M4650 973l25-9l-14-32l-25 10z"/>
<path fill="#ffffff" stroke="#666666" d="M4789 1023l25-8l-14-24l-25 8z"/>
<path fill="#ffffff" stroke="#666666" d="M4931 1015l25-11l-16 0l-24 11z"/>
<path fill="#fac9cb" stroke="#725a5b" d="M4273 910l24-19l-14-17l-23 20z"/>
<path fill="#f7a4a8" stroke="#7a4e50" d="M4410 903l24-13l-14-23l-24 14z"/>
<path fill="#fad0d2" stroke="#705b5c" d="M4549 940l24-10l-14-31l-24 11z"/>
<path fill="#ffffff" stroke="#666666" d="M4688 995l25-9l-14-31l-24 9z"/>
<path fill="#f5faf5" stroke="#636563" d="M4828 1033l24-9l-14-17l-24 8z"/>
<path fill="#f8b9bc" stroke="#755556" d="M4310 908l24-17l-14-18l-23 18z"/>
<path fill="#f7aeb1" stroke="#785153" d="M4448 915l24-11l-14-26l-24 12z"/>
<path fill="#fdecec" stroke="#6a6262" d="M4587 961l25-10l-14-32l-25 11z"/>
<path fill="#ffffff" stroke="#666666" d="M4726 1014l25-8l-14-28l-24 8z"/>
<path fill="#f5fbf5" stroke="#636563" d="M4866 1035l25-10l-14-10l-25 9z"/>
<path fill="#fefbfc" stroke="#666565" d="M4213 939l23-24l-13-15l-23 23z"/>
<path fill="#f8b1b4" stroke="#775254" d="M4348 910l24-15l-14-20l-24 16z"/>
<path fill="#f9bfc1" stroke="#745758" d="M4486 931l25-11l-14-28l-25 12z"/>
<path fill="#ffffff" stroke="#666666" d="M4626 983l24-10l-14-31l-24 9z"/>
<path fill="#ffffff" stroke="#666666" d="M4765 1031l24-8l-14-24l-24 7z"/>
<path fill="#ffffff" stroke="#666666" d="M4906 1026l25-11l-15 0l-25 10z"/>
<path fill="#fce2e3" stroke="#6c6060" d="M4250 931l23-21l-13-16l-24 21z"/>
<path fill="#f8b0b3" stroke="#775254" d="M4386 917l24-14l-14-22l-24 14z"/>
<path fill="#fbd5d7" stroke="#6f5d5e" d="M4525 950l24-10l-14-30l-24 10z"/>
<path fill="#ffffff" stroke="#666666" d="M4664 1003l24-8l-13-31l-25 9z"/>
<path fill="#f4faf4" stroke="#636562" d="M4803 1041l25-8l-14-18l-25 8z"/>
<path fill="#faced0" stroke="#715b5c" d="M4287 927l23-19l-13-17l-24 19z"/>
<path fill="#f8b7ba" stroke="#765456" d="M4424 927l24-12l-14-25l-24 13z"/>
<path fill="#fdf0f0" stroke="#696363" d="M4563 971l24-10l-14-31l-24 10z"/>
<path fill="#ffffff" stroke="#666666" d="M4702 1023l24-9l-13-28l-25 9z"/>
<path fill="#f4faf4" stroke="#626562" d="M4842 1044l24-9l-14-11l-24 9z"/>
<path fill="#f9c1c4" stroke="#745759" d="M4324 927l24-17l-14-19l-24 17z"/>
<path fill="#f9c5c7" stroke="#73585a" d="M4462 942l24-11l-14-27l-24 11z"/>
<path fill="#ffffff" stroke="#666666" d="M4601 992l25-9l-14-32l-25 10z"/>
<path fill="#ffffff" stroke="#666666" d="M4740 1038l25-7l-14-25l-25 8z"/>
<path fill="#ffffff" stroke="#666666" d="M4881 1037l25-11l-15-1l-25 10z"/>
<path fill="#fefefe" stroke="#666565" d="M4227 954l23-23l-14-16l-23 24z"/>
<path fill="#f9bdc0" stroke="#755657" d="M4362 931l24-14l-14-22l-24 15z"/>
<path fill="#fbdadb" stroke="#6e5e5f" d="M4500 959l25-9l-14-30l-25 11z"/>
<path fill="#ffffff" stroke="#666666" d="M4639 1012l25-9l-14-30l-24 10z"/>
<path fill="#f4faf4" stroke="#636562" d="M4779 1049l24-8l-14-18l-24 8z"/>
<path fill="#fce6e7" stroke="#6b6161" d="M4263 948l24-21l-14-17l-23 21z"/>
<path fill="#f9c0c3" stroke="#745758" d="M4400 939l24-12l-14-24l-24 14z"/>
<path fill="#fef3f4" stroke="#686464" d="M4539 980l24-9l-14-31l-24 10z"/>
<path fill="#ffffff" stroke="#666666" d="M4678 1031l24-8l-14-28l-24 8z"/>
<path fill="#f3f9f3" stroke="#626562" d="M4817 1053l25-9l-14-11l-25 8z"/>
<path fill="#fbd5d7" stroke="#6f5d5d" d="M4300 945l24-18l-14-19l-23 19z"/>
<path fill="#faccce" stroke="#715a5b" d="M4438 952l24-10l-14-27l-24 12z"/>
<path fill="#ffffff" stroke="#666666" d="M4577 1000l24-8l-14-31l-24 10z"/>
<path fill="#ffffff" stroke="#666666" d="M4716 1046l24-8l-14-24l-24 9z"/>
<path fill="#ffffff" stroke="#666666" d="M4856 1047l25-10l-15-2l-24 9z"/>
<path fill="#faccce" stroke="#715a5b" d="M4338 946l24-15l-14-21l-24 17z"/>
<path fill="#fcdee0" stroke="#6d5f60" d="M4476 969l24-10l-14-28l-24 11z"/>
<path fill="#ffffff" stroke="#666666" d="M4615 1021l24-9l-13-29l-25 9z"/>
<path fill="#f4faf4" stroke="#636562" d="M4754 1057l25-8l-14-18l-25 7z"/>
<path fill="#ffffff" stroke="#666666" d="M4240 970l23-22l-13-17l-23 23z"/>
<path fill="#facbcd" stroke="#715a5b" d="M4376 953l24-14l-14-22l-24 14z"/>
<path fill="#fef7f7" stroke="#676464" d="M4514 989l25-9l-14-30l-25 9z"/>
<path fill="#ffffff" stroke="#666666" d="M4653 1039l25-8l-14-28l-25 9z"/>
<path fill="#f2f9f2" stroke="#626562" d="M4793 1061l24-8l-14-12l-24 8z"/>
<path fill="#fdebec" stroke="#6a6262" d="M4277 964l23-19l-13-18l-24 21z"/>
<path fill="#fbd3d5" stroke="#705c5d" d="M4414 964l24-12l-14-25l-24 12z"/>
<path fill="#ffffff" stroke="#666666" d="M4553 1009l24-9l-14-29l-24 9z"/>
<path fill="#ffffff" stroke="#666666" d="M4691 1054l25-8l-14-23l-24 8z"/>
<path fill="#fdfefd" stroke="#656565" d="M4832 1056l24-9l-14-3l-25 9z"/>
<path fill="#fcddde" stroke="#6d5f5f" d="M4314 963l24-17l-14-19l-24 18z"/>
<path fill="#fce3e4" stroke="#6c6061" d="M4452 979l24-10l-14-27l-24 10z"/>
<path fill="#ffffff" stroke="#666666" d="M4591 1029l24-8l-14-29l-24 8z"/>
<path fill="#f5faf5" stroke="#636562" d="M4730 1065l24-8l-14-19l-24 8z"/>
<path fill="#fbd8da" stroke="#6e5d5e" d="M4352 967l24-14l-14-22l-24 15z"/>
<path fill="#fefafa" stroke="#676565" d="M4490 997l24-8l-14-30l-24 10z"/>
<path fill="#ffffff" stroke="#666666" d="M4629 1047l24-8l-14-27l-24 9z"/>
<path fill="#f2f9f2" stroke="#626562" d="M4768 1069l25-8l-14-12l-25 8z"/>
<path fill="#ffffff" stroke="#666666" d="M4253 986l24-22l-14-16l-23 22z"/>
<path fill="#fbdcdd" stroke="#6e5e5f" d="M4390 976l24-12l-14-25l-24 14z"/>
<path fill="#ffffff" stroke="#666666" d="M4528 1017l25-8l-14-29l-25 9z"/>
<path fill="#ffffff" stroke="#666666" d="M4667 1062l24-8l-13-23l-25 8z"/>
<path fill="#fbfdfb" stroke="#656565" d="M4807 1066l25-10l-15-3l-24 8z"/>
<path fill="#fdf1f2" stroke="#696363" d="M4290 981l24-18l-14-18l-23 19z"/>
<path fill="#fde9ea" stroke="#6b6162" d="M4428 989l24-10l-14-27l-24 12z"/>
<path fill="#ffffff" stroke="#666666" d="M4566 1037l25-8l-14-29l-24 9z"/>
<path fill="#f5faf5" stroke="#636563" d="M4705 1072l25-7l-14-19l-25 8z"/>
<path fill="#fce7e8" stroke="#6b6161" d="M4328 982l24-15l-14-21l-24 17z"/>
<path fill="#fefcfd" stroke="#666565" d="M4466 1006l24-9l-14-28l-24 10z"/>
<path fill="#ffffff" stroke="#666666" d="M4604 1055l25-8l-14-26l-24 8z"/>
<path fill="#f2f9f2" stroke="#626562" d="M4744 1077l24-8l-14-12l-24 8z"/>
<path fill="#fce6e7" stroke="#6b6161" d="M4365 988l25-12l-14-23l-24 14z"/>
<path fill="#ffffff" stroke="#666666" d="M4504 1025l24-8l-14-28l-24 8z"/>
<path fill="#ffffff" stroke="#666666" d="M4642 1069l25-7l-14-23l-24 8z"/>
<path fill="#fafdfa" stroke="#646564" d="M4782 1074l25-8l-14-5l-25 8z"/>
<path fill="#ffffff" stroke="#666666" d="M4267 1001l23-20l-13-17l-24 22z"/>
<path fill="#fdeff0" stroke="#696363" d="M4403 1000l25-11l-14-25l-24 12z"/>
<path fill="#ffffff" stroke="#666666" d="M4542 1044l24-7l-13-28l-25 8z"/>
<path fill="#f5faf5" stroke="#636563" d="M4681 1080l24-8l-14-18l-24 8z"/>
<path fill="#fef8f8" stroke="#676464" d="M4304 999l24-17l-14-19l-24 18z"/>
<path fill="#ffffff" stroke="#666666" d="M4441 1015l25-9l-14-27l-24 10z"/>
<path fill="#ffffff" stroke="#666666" d="M4580 1062l24-7l-13-26l-25 8z"/>
<path fill="#f2f9f2" stroke="#626562" d="M4719 1085l25-8l-14-12l-25 7z"/>
<path fill="#fdf2f3" stroke="#686363" d="M4341 1002l24-14l-13-21l-24 15z"/>
<path fill="#ffffff" stroke="#666666" d="M4479 1033l25-8l-14-28l-24 9z"/>
<path fill="#ffffff" stroke="#666666" d="M4618 1077l24-8l-13-22l-25 8z"/>
<path fill="#fafdfa" stroke="#646564" d="M4758 1083l24-9l-14-5l-24 8z"/>
<path fill="#fef6f7" stroke="#676464" d="M4379 1011l24-11l-13-24l-25 12z"/>
<path fill="#ffffff" stroke="#666666" d="M4517 1051l25-7l-14-27l-24 8z"/>
<path fill="#f6fbf6" stroke="#636563" d="M4656 1087l25-7l-14-18l-25 7z"/>
<path fill="#ffffff" stroke="#666666" d="M4280 1017l24-18l-14-18l-23 20z"/>
<path fill="#ffffff" stroke="#666666" d="M4417 1024l24-9l-13-26l-25 11z"/>
<path fill="#ffffff" stroke="#666666" d="M4556 1069l24-7l-14-25l-24 7z"/>
<path fill="#f3faf3" stroke="#626562" d="M4694 1092l25-7l-14-13l-24 8z"/>
<path fill="#ffffff" stroke="#666666" d="M4317 1017l24-15l-13-20l-24 17z"/>
<path fill="#ffffff" stroke="#666666" d="M4455 1041l24-8l-13-27l-25 9z"/>
<path fill="#ffffff" stroke="#666666" d="M4594 1084l24-7l-14-22l-24 7z"/>
<path fill="#fafdfa" stroke="#646564" d="M4733 1090l25-7l-14-6l-25 8z"/>
<path fill="#ffffff" stroke="#666666" d="M4355 1023l24-12l-14-23l-24 14z"/>
<path fill="#ffffff" stroke="#666666" d="M4493 1058l24-7l-13-26l-25 8z"/>
<path fill="#f7fbf7" stroke="#636563" d="M4632 1094l24-7l-14-18l-24 8z"/>
<path fill="#ffffff" stroke="#666666" d="M4393 1034l24-10l-14-24l-24 11z"/>
<path fill="#ffffff" stroke="#666666" d="M4531 1075l25-6l-14-25l-25 7z"/>
<path fill="#f4faf4" stroke="#636562" d="M4670 1099l24-7l-13-12l-25 7z"/>
<path fill="#ffffff" stroke="#666666" d="M4293 1033l24-16l-13-18l-24 18z"/>
<path fill="#ffffff" stroke="#666666" d="M4431 1048l24-7l-14-26l-24 9z"/>
<path fill="#ffffff" stroke="#666666" d="M4569 1090l25-6l-14-22l-24 7z"/>
<path fill="#fbfdfb" stroke="#656565" d="M4709 1097l24-7l-14-5l-25 7z"/>
<path fill="#ffffff" stroke="#666666" d="M4331 1035l24-12l-14-21l-24 15z"/>
<path fill="#ffffff" stroke="#666666" d="M4469 1065l24-7l-14-25l-24 8z"/>
<path fill="#f9fcf9" stroke="#646564" d="M4607 1101l25-7l-14-17l-24 7z"/>
<path fill="#ffffff" stroke="#666666" d="M4368 1044l25-10l-14-23l-24 12z"/>
<path fill="#ffffff" stroke="#666666" d="M4507 1081l24-6l-14-24l-24 7z"/>
<path fill="#f6fbf6" stroke="#636563" d="M4645 1106l25-7l-14-12l-24 7z"/>
<path fill="#ffffff" stroke="#666666" d="M4406 1056l25-8l-14-24l-24 10z"/>
<path fill="#ffffff" stroke="#666666" d="M4545 1096l24-6l-13-21l-25 6z"/>
<path fill="#fdfefd" stroke="#656565" d="M4684 1104l25-7l-15-5l-24 7z"/>
<path fill="#ffffff" stroke="#666666" d="M4307 1049l24-14l-14-18l-24 16z"/>
<path fill="#ffffff" stroke="#666666" d="M4444 1071l25-6l-14-24l-24 7z"/>
<path fill="#fbfdfb" stroke="#646564" d="M4583 1107l24-6l-13-17l-25 6z"/>
<path fill="#ffffff" stroke="#666666" d="M4344 1054l24-10l-13-21l-24 12z"/>
<path fill="#ffffff" stroke="#666666" d="M4482 1087l25-6l-14-23l-24 7z"/>
<path fill="#f8fcf8" stroke="#646564" d="M4621 1112l24-6l-13-12l-25 7z"/>
<path fill="#ffffff" stroke="#666666" d="M4382 1064l24-8l-13-22l-25 10z"/>
<path fill="#ffffff" stroke="#666666" d="M4520 1102l25-6l-14-21l-24 6z"/>
<path fill="#ffffff" stroke="#666666" d="M4659 1111l25-7l-14-5l-25 7z"/>
<path fill="#ffffff" stroke="#666666" d="M4420 1078l24-7l-13-23l-25 8z"/>
<path fill="#fefefe" stroke="#656565" d="M4558 1112l25-5l-14-17l-24 6z"/>
<path fill="#ffffff" stroke="#666666" d="M4320 1066l24-12l-13-19l-24 14z"/>
<path fill="#ffffff" stroke="#666666" d="M4458 1093l24-6l-13-22l-25 6z"/>
<path fill="#fbfdfb" stroke="#656564" d="M4596 1118l25-6l-14-11l-24 6z"/>
<path fill="#ffffff" stroke="#666666" d="M4358 1073l24-9l-14-20l-24 10z"/>
<path fill="#ffffff" stroke="#666666" d="M4496 1107l24-5l-13-21l-25 6z"/>
<path fill="#ffffff" stroke="#666666" d="M4635 1117l24-6l-14-5l-24 6z"/>
<path fill="#ffffff" stroke="#666666" d="M4395 1084l25-6l-14-22l-24 8z"/>
<path fill="#ffffff" stroke="#666666" d="M4534 1117l24-5l-13-16l-25 6z"/>
<path fill="#ffffff" stroke="#666666" d="M4433 1098l25-5l-14-22l-24 7z"/>
<path fill="#ffffff" stroke="#666666" d="M4572 1123l24-5l-13-11l-25 5z"/>
<path fill="#ffffff" stroke="#666666" d="M4333 1082l25-9l-14-19l-24 12z"/>
<path fill="#ffffff" stroke="#666666" d="M4471 1112l25-5l-14-20l-24 6z"/>
<path fill="#ffffff" stroke="#666666" d="M4610 1122l25-5l-14-5l-25 6z"/>
<path fill="#ffffff" stroke="#666666" d="M4371 1091l24-7l-13-20l-24 9z"/>
<path fill="#ffffff" stroke="#666666" d="M4509 1122l25-5l-14-15l-24 5z"/>
<path fill="#ffffff" stroke="#666666" d="M4409 1103l24-5l-13-20l-25 6z"/>
<path fill="#ffffff" stroke="#666666" d="M4547 1128l25-5l-14-11l-24 5z"/>
<path fill="#ffffff" stroke="#666666" d="M4447 1116l24-4l-13-19l-25 5z"/>
<path fill="#ffffff" stroke="#666666" d="M4585 1128l25-6l-14-4l-24 5z"/>
<path fill="#ffffff" stroke="#666666" d="M4347 1098l24-7l-13-18l-25 9z"/>
<path fill="#ffffff" stroke="#666666" d="M4485 1127l24-5l-13-15l-25 5z"/>
<path fill="#ffffff" stroke="#666666" d="M4384 1108l25-5l-14-19l-24 7z"/>
<path fill="#ffffff" stroke="#666666" d="M4523 1133l24-5l-13-11l-25 5z"/>
<path fill="#ffffff" stroke="#666666" d="M4422 1120l25-4l-14-18l-24 5z"/>
<path fill="#ffffff" stroke="#666666" d="M4561 1133l24-5l-13-5l-25 5z"/>
<path fill="#ffffff" stroke="#666666" d="M4460 1131l25-4l-14-15l-24 4z"/>
<path fill="#ffffff" stroke="#666666" d="M4360 1113l24-5l-13-17l-24 7z"/>
<path fill="#ffffff" stroke="#666666" d="M4498 1138l25-5l-14-11l-24 5z"/>
<path fill="#ffffff" stroke="#666666" d="M4398 1124l24-4l-13-17l-25 5z"/>
<path fill="#ffffff" stroke="#666666" d="M4536 1139l25-6l-14-5l-24 5z"/>
<path fill="#ffffff" stroke="#666666" d="M4435 1135l25-4l-13-15l-25 4z"/>
<path fill="#ffffff" stroke="#666666" d="M4473 1142l25-4l-13-11l-25 4z"/>
<path fill="#ffffff" stroke="#666666" d="M4373 1128l25-4l-14-16l-24 5z"/>
<path fill="#ffffff" stroke="#666666" d="M4511 1144l25-5l-13-6l-25 5z"/>
<path fill="#ffffff" stroke="#666666" d="M4411 1138l24-3l-13-15l-24 4z"/>
<path fill="#ffffff" stroke="#666666" d="M4449 1147l24-5l-13-11l-25 4z"/>
<path fill="#ffffff" stroke="#666666" d="M4487 1149l24-5l-13-6l-25 4z"/>
<path fill="#ffffff" stroke="#666666" d="M4386 1142l25-4l-13-14l-25 4z"/>
<path fill="#ffffff" stroke="#666666" d="M4424 1151l25-4l-14-12l-24 3z"/>
<path fill="#ffffff" stroke="#666666" d="M4462 1155l25-6l-14-7l-24 5z"/>
<path fill="#ffffff" stroke="#666666" d="M4399 1155l25-4l-13-13l-25 4z"/>
<path fill="#ffffff" stroke="#666666" d="M4437 1161l25-6l-13-8l-25 4z"/>
<path fill="#ffffff" stroke="#666666" d="M4413 1167l24-6l-13-10l-25 4z"/>
</g>
<line x1="412.90" y1="63.30" x2="485.60" y2="41.30" stroke="#0a0a0a" stroke-width="1.25" stroke-linecap="round"/>
<line x1="485.60" y1="41.30" x2="517.60" y2="67.00" stroke="#0a0a0a" stroke-width="1.25" stroke-linecap="round"/>
<line x1="517.60" y1="67.00" x2="441.10" y2="90.40" stroke="#0a0a0a" stroke-width="1.25" stroke-linecap="round"/>
<line x1="441.10" y1="90.40" x2="412.90" y2="63.30" stroke="#0a0a0a" stroke-width="1.25" stroke-linecap="round"/>
<line x1="412.90" y1="63.30" x2="416.40" y2="108.70" stroke="#0a0a0a" stroke-width="1.25" stroke-linecap="round"/>
<line x1="441.10" y1="90.40" x2="441.40" y2="138.90" stroke="#0a0a0a" stroke-width="1.25" stroke-linecap="round"/>
<line x1="517.60" y1="67.00" x2="513.60" y2="114.30" stroke="#0a0a0a" stroke-width="1.25" stroke-linecap="round"/>
<line x1="416.40" y1="108.70" x2="441.40" y2="138.90" stroke="#0a0a0a" stroke-width="1.25" stroke-linecap="round"/>
<line x1="441.40" y1="138.90" x2="513.60" y2="114.30" stroke="#0a0a0a" stroke-width="1.25" stroke-linecap="round"/>
<line x1="410.50" y1="63.30" x2="412.90" y2="63.30" stroke="#1a1a1a" stroke-width="0.8" />
<text x="408.00" y="65.60" font-size="6.5" text-anchor="end" font-weight="normal" fill="#111" >30</text>
<line x1="411.08" y1="70.87" x2="413.48" y2="70.87" stroke="#1a1a1a" stroke-width="0.8" />
<text x="408.58" y="73.17" font-size="6.5" text-anchor="end" font-weight="normal" fill="#111" >20</text>
<line x1="411.67" y1="78.43" x2="414.07" y2="78.43" stroke="#1a1a1a" stroke-width="0.8" />
<text x="409.17" y="80.73" font-size="6.5" text-anchor="end" font-weight="normal" fill="#111" >10</text>
<line x1="412.25" y1="86.00" x2="414.65" y2="86.00" stroke="#1a1a1a" stroke-width="0.8" />
<text x="409.75" y="88.30" font-size="6.5" text-anchor="end" font-weight="normal" fill="#111" >0</text>
<line x1="412.83" y1="93.57" x2="415.23" y2="93.57" stroke="#1a1a1a" stroke-width="0.8" />
<text x="410.33" y="95.87" font-size="6.5" text-anchor="end" font-weight="normal" fill="#111" >−10</text>
<line x1="413.42" y1="101.13" x2="415.82" y2="101.13" stroke="#1a1a1a" stroke-width="0.8" />
<text x="410.92" y="103.43" font-size="6.5" text-anchor="end" font-weight="normal" fill="#111" >−20</text>
<line x1="414.00" y1="108.70" x2="416.40" y2="108.70" stroke="#1a1a1a" stroke-width="0.8" />
<text x="411.50" y="111.00" font-size="6.5" text-anchor="end" font-weight="normal" fill="#111" >−30</text>
<line x1="416.90" y1="109.30" x2="415.00" y2="110.80" stroke="#1a1a1a" stroke-width="0.8" />
<text x="408.30" y="116.70" font-size="6.5" text-anchor="middle" font-weight="normal" fill="#111" >200</text>
<line x1="423.65" y1="117.46" x2="421.75" y2="118.96" stroke="#1a1a1a" stroke-width="0.8" />
<text x="414.20" y="124.70" font-size="6.5" text-anchor="middle" font-weight="normal" fill="#111" >100</text>
<line x1="429.90" y1="125.01" x2="428.00" y2="126.51" stroke="#1a1a1a" stroke-width="0.8" />
<text x="422.30" y="132.40" font-size="6.5" text-anchor="middle" font-weight="normal" fill="#111" >50</text>
<line x1="436.27" y1="132.71" x2="434.38" y2="134.21" stroke="#1a1a1a" stroke-width="0.8" />
<text x="427.20" y="140.70" font-size="6.5" text-anchor="middle" font-weight="normal" fill="#111" >12.5</text>
<line x1="452.52" y1="135.11" x2="453.52" y2="137.51" stroke="#1a1a1a" stroke-width="0.8" />
<text x="455.00" y="147.70" font-size="6.5" text-anchor="middle" font-weight="normal" fill="#111" >0.5</text>
<line x1="464.36" y1="131.08" x2="465.36" y2="133.48" stroke="#1a1a1a" stroke-width="0.8" />
<text x="467.20" y="142.50" font-size="6.5" text-anchor="middle" font-weight="normal" fill="#111" >1</text>
<line x1="476.20" y1="127.04" x2="477.20" y2="129.44" stroke="#1a1a1a" stroke-width="0.8" />
<text x="478.50" y="138.00" font-size="6.5" text-anchor="middle" font-weight="normal" fill="#111" >2</text>
<line x1="488.69" y1="122.79" x2="489.69" y2="125.19" stroke="#1a1a1a" stroke-width="0.8" />
<text x="490.60" y="133.40" font-size="6.5" text-anchor="middle" font-weight="normal" fill="#111" >4</text>
<line x1="500.89" y1="118.63" x2="501.89" y2="121.03" stroke="#1a1a1a" stroke-width="0.8" />
<text x="502.60" y="129.30" font-size="6.5" text-anchor="middle" font-weight="normal" fill="#111" >8</text>
<line x1="513.09" y1="114.47" x2="514.09" y2="116.87" stroke="#1a1a1a" stroke-width="0.8" />
<text x="515.30" y="125.60" font-size="6.5" text-anchor="middle" font-weight="normal" fill="#111" >16</text>
<text transform="translate(484.6,147.4) rotate(-19.5) scale(0.68,1)" font-size="7.2" text-anchor="middle" fill="#000" stroke="#000" stroke-width="0.22">Carfilzomib (nM)</text>
<text transform="translate(409.0,140.3) rotate(49.5) scale(0.68,1)" font-size="7.2" text-anchor="middle" fill="#000" stroke="#000" stroke-width="0.22">Subasumstat (nM)</text>
<text x="1.00" y="194.80" font-size="10.5" text-anchor="start" font-weight="bold" fill="#111" >C</text>
<line x1="34.00" y1="201.20" x2="34.00" y2="343.00" stroke="#1c1c1c" stroke-width="1.4" />
<line x1="30.40" y1="342.30" x2="128.00" y2="342.30" stroke="#1c1c1c" stroke-width="1.4" />
<text x="27.10" y="345.00" font-size="7.6" text-anchor="end" font-weight="normal" fill="#111" >0</text>
<line x1="30.40" y1="319.80" x2="34.00" y2="319.80" stroke="#1c1c1c" stroke-width="1.05" />
<text x="27.10" y="322.50" font-size="7.6" text-anchor="end" font-weight="normal" fill="#111" >20</text>
<line x1="30.40" y1="297.30" x2="34.00" y2="297.30" stroke="#1c1c1c" stroke-width="1.05" />
<text x="27.10" y="300.00" font-size="7.6" text-anchor="end" font-weight="normal" fill="#111" >40</text>
<line x1="30.40" y1="274.80" x2="34.00" y2="274.80" stroke="#1c1c1c" stroke-width="1.05" />
<text x="27.10" y="277.50" font-size="7.6" text-anchor="end" font-weight="normal" fill="#111" >60</text>
<line x1="30.40" y1="252.30" x2="34.00" y2="252.30" stroke="#1c1c1c" stroke-width="1.05" />
<text x="27.10" y="255.00" font-size="7.6" text-anchor="end" font-weight="normal" fill="#111" >80</text>
<line x1="30.40" y1="229.80" x2="34.00" y2="229.80" stroke="#1c1c1c" stroke-width="1.05" />
<text x="27.10" y="232.50" font-size="7.6" text-anchor="end" font-weight="normal" fill="#111" >100</text>
<line x1="30.40" y1="207.30" x2="34.00" y2="207.30" stroke="#1c1c1c" stroke-width="1.05" />
<text x="27.10" y="210.00" font-size="7.6" text-anchor="end" font-weight="normal" fill="#111" >120</text>
<text x="80.50" y="192.00" font-size="9.0" text-anchor="middle" font-weight="normal" fill="#111" >JJN3</text>
<rect x="40.00" y="229.80" width="11.00" height="112.10" fill="#e18292" />
<line x1="46.00" y1="234.86" x2="46.00" y2="224.74" stroke="#3d0812" stroke-width="1.15" />
<line x1="44.50" y1="224.74" x2="47.50" y2="224.74" stroke="#3d0812" stroke-width="1.0" />
<line x1="44.50" y1="234.86" x2="47.50" y2="234.86" stroke="#3d0812" stroke-width="1.0" />
<circle cx="42.80" cy="225.30" r="2.25" fill="#c4113a"/>
<circle cx="48.50" cy="228.68" r="2.25" fill="#c4113a"/>
<circle cx="45.90" cy="235.43" r="2.25" fill="#c4113a"/>
<line x1="45.50" y1="342.30" x2="45.50" y2="345.90" stroke="#1c1c1c" stroke-width="1.1" />
<text x="45.50" y="354.00" font-size="8" text-anchor="middle" font-weight="normal" fill="#111" stroke="#111" stroke-width="0.25">−</text>
<text x="45.50" y="363.10" font-size="8" text-anchor="middle" font-weight="normal" fill="#111" stroke="#111" stroke-width="0.25">−</text>
<rect x="63.50" y="283.69" width="11.00" height="58.21" fill="#82a5c4" />
<line x1="69.00" y1="285.49" x2="69.00" y2="278.74" stroke="#0f2a4a" stroke-width="1.15" />
<line x1="67.50" y1="278.74" x2="70.50" y2="278.74" stroke="#0f2a4a" stroke-width="1.0" />
<line x1="67.50" y1="285.49" x2="70.50" y2="285.49" stroke="#0f2a4a" stroke-width="1.0" />
<circle cx="69.00" cy="279.86" r="2.25" fill="#1c4e86"/>
<circle cx="66.50" cy="282.68" r="2.25" fill="#1c4e86"/>
<circle cx="72.00" cy="284.48" r="2.25" fill="#1c4e86"/>
<line x1="69.00" y1="342.30" x2="69.00" y2="345.90" stroke="#1c1c1c" stroke-width="1.1" />
<text x="69.00" y="354.00" font-size="8" text-anchor="middle" font-weight="normal" fill="#111" stroke="#111" stroke-width="0.25">−</text>
<text x="69.00" y="363.10" font-size="8" text-anchor="middle" font-weight="normal" fill="#111" stroke="#111" stroke-width="0.25">+</text>
<rect x="87.00" y="286.61" width="11.00" height="55.29" fill="#82a5c4" />
<line x1="92.50" y1="292.80" x2="92.50" y2="284.93" stroke="#0f2a4a" stroke-width="1.15" />
<line x1="91.00" y1="284.93" x2="94.00" y2="284.93" stroke="#0f2a4a" stroke-width="1.0" />
<line x1="91.00" y1="292.80" x2="94.00" y2="292.80" stroke="#0f2a4a" stroke-width="1.0" />
<polygon points="86.89,283.35 92.51,283.35 89.70,288.41" fill="#1c4e86"/>
<polygon points="92.39,283.35 98.01,283.35 95.20,288.41" fill="#1c4e86"/>
<circle cx="92.30" cy="292.46" r="2.25" fill="#1c4e86"/>
<line x1="92.50" y1="342.30" x2="92.50" y2="345.90" stroke="#1c1c1c" stroke-width="1.1" />
<text x="92.50" y="354.00" font-size="8" text-anchor="middle" font-weight="normal" fill="#111" stroke="#111" stroke-width="0.25">+</text>
<text x="92.50" y="363.10" font-size="8" text-anchor="middle" font-weight="normal" fill="#111" stroke="#111" stroke-width="0.25">−</text>
<rect x="110.50" y="331.28" width="11.00" height="10.62" fill="#82a5c4" />
<line x1="116.00" y1="333.30" x2="116.00" y2="328.24" stroke="#0f2a4a" stroke-width="1.15" />
<line x1="114.50" y1="328.24" x2="117.50" y2="328.24" stroke="#0f2a4a" stroke-width="1.0" />
<line x1="114.50" y1="333.30" x2="117.50" y2="333.30" stroke="#0f2a4a" stroke-width="1.0" />
<circle cx="115.70" cy="328.57" r="2.25" fill="#1c4e86"/>
<circle cx="113.10" cy="330.38" r="2.25" fill="#1c4e86"/>
<circle cx="118.60" cy="333.07" r="2.25" fill="#1c4e86"/>
<line x1="116.00" y1="342.30" x2="116.00" y2="345.90" stroke="#1c1c1c" stroke-width="1.1" />
<text x="116.00" y="354.00" font-size="8" text-anchor="middle" font-weight="normal" fill="#111" stroke="#111" stroke-width="0.25">+</text>
<text x="116.00" y="363.10" font-size="8" text-anchor="middle" font-weight="normal" fill="#111" stroke="#111" stroke-width="0.25">+</text>
<line x1="66.00" y1="228.30" x2="118.30" y2="228.30" stroke="#222" stroke-width="1.0" />
<text x="92.15" y="228.20" font-size="7.3" text-anchor="middle" font-weight="bold" fill="#1a1a1a" stroke="#1a1a1a" stroke-width="0.3">****</text>
<line x1="89.50" y1="238.00" x2="118.30" y2="238.00" stroke="#222" stroke-width="1.0" />
<text x="103.90" y="237.90" font-size="7.3" text-anchor="middle" font-weight="bold" fill="#1a1a1a" stroke="#1a1a1a" stroke-width="0.3">****</text>
<text transform="translate(7.3,272.1) rotate(-90) scale(0.744,1)" font-size="8.6" text-anchor="middle" fill="#111" stroke="#111" stroke-width="0.2">Cell viability (%)</text>
<line x1="210.00" y1="201.20" x2="210.00" y2="343.00" stroke="#1c1c1c" stroke-width="1.4" />
<line x1="206.40" y1="342.30" x2="304.00" y2="342.30" stroke="#1c1c1c" stroke-width="1.4" />
<text x="203.10" y="345.00" font-size="7.6" text-anchor="end" font-weight="normal" fill="#111" >0</text>
<line x1="206.40" y1="319.80" x2="210.00" y2="319.80" stroke="#1c1c1c" stroke-width="1.05" />
<text x="203.10" y="322.50" font-size="7.6" text-anchor="end" font-weight="normal" fill="#111" >20</text>
<line x1="206.40" y1="297.30" x2="210.00" y2="297.30" stroke="#1c1c1c" stroke-width="1.05" />
<text x="203.10" y="300.00" font-size="7.6" text-anchor="end" font-weight="normal" fill="#111" >40</text>
<line x1="206.40" y1="274.80" x2="210.00" y2="274.80" stroke="#1c1c1c" stroke-width="1.05" />
<text x="203.10" y="277.50" font-size="7.6" text-anchor="end" font-weight="normal" fill="#111" >60</text>
<line x1="206.40" y1="252.30" x2="210.00" y2="252.30" stroke="#1c1c1c" stroke-width="1.05" />
<text x="203.10" y="255.00" font-size="7.6" text-anchor="end" font-weight="normal" fill="#111" >80</text>
<line x1="206.40" y1="229.80" x2="210.00" y2="229.80" stroke="#1c1c1c" stroke-width="1.05" />
<text x="203.10" y="232.50" font-size="7.6" text-anchor="end" font-weight="normal" fill="#111" >100</text>
<line x1="206.40" y1="207.30" x2="210.00" y2="207.30" stroke="#1c1c1c" stroke-width="1.05" />
<text x="203.10" y="210.00" font-size="7.6" text-anchor="end" font-weight="normal" fill="#111" >120</text>
<text x="256.50" y="192.00" font-size="9.0" text-anchor="middle" font-weight="normal" fill="#111" >OPM2</text>
<rect x="216.00" y="229.80" width="11.00" height="112.10" fill="#e18292" />
<line x1="221.50" y1="253.43" x2="221.50" y2="209.55" stroke="#3d0812" stroke-width="1.15" />
<line x1="220.00" y1="209.55" x2="223.00" y2="209.55" stroke="#3d0812" stroke-width="1.0" />
<line x1="220.00" y1="253.43" x2="223.00" y2="253.43" stroke="#3d0812" stroke-width="1.0" />
<polygon points="218.69,207.30 224.31,207.30 221.50,212.36" fill="#c4113a"/>
<circle cx="221.50" cy="226.43" r="2.25" fill="#c4113a"/>
<polygon points="218.69,251.18 224.31,251.18 221.50,256.24" fill="#c4113a"/>
<line x1="221.50" y1="342.30" x2="221.50" y2="345.90" stroke="#1c1c1c" stroke-width="1.1" />
<text x="221.50" y="354.00" font-size="8" text-anchor="middle" font-weight="normal" fill="#111" stroke="#111" stroke-width="0.25">−</text>
<text x="221.50" y="363.10" font-size="8" text-anchor="middle" font-weight="normal" fill="#111" stroke="#111" stroke-width="0.25">−</text>
<rect x="239.50" y="256.35" width="11.00" height="85.55" fill="#82a5c4" />
<line x1="245.00" y1="269.18" x2="245.00" y2="244.99" stroke="#0f2a4a" stroke-width="1.15" />
<line x1="243.50" y1="244.99" x2="246.50" y2="244.99" stroke="#0f2a4a" stroke-width="1.0" />
<line x1="243.50" y1="269.18" x2="246.50" y2="269.18" stroke="#0f2a4a" stroke-width="1.0" />
<circle cx="242.00" cy="247.80" r="2.25" fill="#1c4e86"/>
<circle cx="248.00" cy="251.18" r="2.25" fill="#1c4e86"/>
<circle cx="245.00" cy="269.18" r="2.25" fill="#1c4e86"/>
<line x1="245.00" y1="342.30" x2="245.00" y2="345.90" stroke="#1c1c1c" stroke-width="1.1" />
<text x="245.00" y="354.00" font-size="8" text-anchor="middle" font-weight="normal" fill="#111" stroke="#111" stroke-width="0.25">−</text>
<text x="245.00" y="363.10" font-size="8" text-anchor="middle" font-weight="normal" fill="#111" stroke="#111" stroke-width="0.25">+</text>
<rect x="263.00" y="265.46" width="11.00" height="76.44" fill="#82a5c4" />
<line x1="268.50" y1="278.18" x2="268.50" y2="252.30" stroke="#0f2a4a" stroke-width="1.15" />
<line x1="267.00" y1="252.30" x2="270.00" y2="252.30" stroke="#0f2a4a" stroke-width="1.0" />
<line x1="267.00" y1="278.18" x2="270.00" y2="278.18" stroke="#0f2a4a" stroke-width="1.0" />
<circle cx="268.50" cy="252.30" r="2.25" fill="#1c4e86"/>
<circle cx="268.50" cy="264.68" r="2.25" fill="#1c4e86"/>
<circle cx="268.50" cy="278.18" r="2.25" fill="#1c4e86"/>
<line x1="268.50" y1="342.30" x2="268.50" y2="345.90" stroke="#1c1c1c" stroke-width="1.1" />
<text x="268.50" y="354.00" font-size="8" text-anchor="middle" font-weight="normal" fill="#111" stroke="#111" stroke-width="0.25">+</text>
<text x="268.50" y="363.10" font-size="8" text-anchor="middle" font-weight="normal" fill="#111" stroke="#111" stroke-width="0.25">−</text>
<rect x="286.50" y="315.30" width="11.00" height="26.60" fill="#82a5c4" />
<line x1="292.00" y1="318.68" x2="292.00" y2="312.49" stroke="#0f2a4a" stroke-width="1.15" />
<line x1="290.50" y1="312.49" x2="293.50" y2="312.49" stroke="#0f2a4a" stroke-width="1.0" />
<line x1="290.50" y1="318.68" x2="293.50" y2="318.68" stroke="#0f2a4a" stroke-width="1.0" />
<circle cx="289.50" cy="313.61" r="2.25" fill="#1c4e86"/>
<circle cx="294.80" cy="314.74" r="2.25" fill="#1c4e86"/>
<circle cx="292.00" cy="318.11" r="2.25" fill="#1c4e86"/>
<line x1="292.00" y1="342.30" x2="292.00" y2="345.90" stroke="#1c1c1c" stroke-width="1.1" />
<text x="292.00" y="354.00" font-size="8" text-anchor="middle" font-weight="normal" fill="#111" stroke="#111" stroke-width="0.25">+</text>
<text x="292.00" y="363.10" font-size="8" text-anchor="middle" font-weight="normal" fill="#111" stroke="#111" stroke-width="0.25">+</text>
<line x1="242.00" y1="228.30" x2="294.30" y2="228.30" stroke="#222" stroke-width="1.0" />
<text x="268.15" y="228.20" font-size="7.3" text-anchor="middle" font-weight="bold" fill="#1a1a1a" stroke="#1a1a1a" stroke-width="0.3">**</text>
<line x1="265.50" y1="238.00" x2="294.30" y2="238.00" stroke="#222" stroke-width="1.0" />
<text x="279.90" y="237.90" font-size="7.3" text-anchor="middle" font-weight="bold" fill="#1a1a1a" stroke="#1a1a1a" stroke-width="0.3">*</text>
<line x1="381.00" y1="201.20" x2="381.00" y2="343.00" stroke="#1c1c1c" stroke-width="1.4" />
<line x1="377.40" y1="342.30" x2="475.00" y2="342.30" stroke="#1c1c1c" stroke-width="1.4" />
<text x="374.10" y="345.00" font-size="7.6" text-anchor="end" font-weight="normal" fill="#111" >0</text>
<line x1="377.40" y1="319.80" x2="381.00" y2="319.80" stroke="#1c1c1c" stroke-width="1.05" />
<text x="374.10" y="322.50" font-size="7.6" text-anchor="end" font-weight="normal" fill="#111" >20</text>
<line x1="377.40" y1="297.30" x2="381.00" y2="297.30" stroke="#1c1c1c" stroke-width="1.05" />
<text x="374.10" y="300.00" font-size="7.6" text-anchor="end" font-weight="normal" fill="#111" >40</text>
<line x1="377.40" y1="274.80" x2="381.00" y2="274.80" stroke="#1c1c1c" stroke-width="1.05" />
<text x="374.10" y="277.50" font-size="7.6" text-anchor="end" font-weight="normal" fill="#111" >60</text>
<line x1="377.40" y1="252.30" x2="381.00" y2="252.30" stroke="#1c1c1c" stroke-width="1.05" />
<text x="374.10" y="255.00" font-size="7.6" text-anchor="end" font-weight="normal" fill="#111" >80</text>
<line x1="377.40" y1="229.80" x2="381.00" y2="229.80" stroke="#1c1c1c" stroke-width="1.05" />
<text x="374.10" y="232.50" font-size="7.6" text-anchor="end" font-weight="normal" fill="#111" >100</text>
<line x1="377.40" y1="207.30" x2="381.00" y2="207.30" stroke="#1c1c1c" stroke-width="1.05" />
<text x="374.10" y="210.00" font-size="7.6" text-anchor="end" font-weight="normal" fill="#111" >120</text>
<text x="427.50" y="192.00" font-size="9.0" text-anchor="middle" font-weight="normal" fill="#111" >AMO1</text>
<rect x="387.00" y="229.80" width="11.00" height="112.10" fill="#e18292" />
<line x1="392.50" y1="237.68" x2="392.50" y2="220.80" stroke="#3d0812" stroke-width="1.15" />
<line x1="391.00" y1="220.80" x2="394.00" y2="220.80" stroke="#3d0812" stroke-width="1.0" />
<line x1="391.00" y1="237.68" x2="394.00" y2="237.68" stroke="#3d0812" stroke-width="1.0" />
<polygon points="389.69,223.61 395.31,223.61 392.50,218.55" fill="#c4113a"/>
<circle cx="389.50" cy="233.18" r="2.25" fill="#c4113a"/>
<circle cx="395.50" cy="233.18" r="2.25" fill="#c4113a"/>
<line x1="392.50" y1="342.30" x2="392.50" y2="345.90" stroke="#1c1c1c" stroke-width="1.1" />
<text x="392.50" y="354.00" font-size="8" text-anchor="middle" font-weight="normal" fill="#111" stroke="#111" stroke-width="0.25">−</text>
<text x="392.50" y="363.10" font-size="8" text-anchor="middle" font-weight="normal" fill="#111" stroke="#111" stroke-width="0.25">−</text>
<rect x="410.50" y="255.11" width="11.00" height="86.79" fill="#82a5c4" />
<line x1="416.00" y1="257.36" x2="416.00" y2="249.49" stroke="#0f2a4a" stroke-width="1.15" />
<line x1="414.50" y1="249.49" x2="417.50" y2="249.49" stroke="#0f2a4a" stroke-width="1.0" />
<line x1="414.50" y1="257.36" x2="417.50" y2="257.36" stroke="#0f2a4a" stroke-width="1.0" />
<circle cx="416.00" cy="249.49" r="2.25" fill="#1c4e86"/>
<polygon points="410.39,253.99 416.01,253.99 413.20,259.05" fill="#1c4e86"/>
<polygon points="415.99,253.99 421.61,253.99 418.80,259.05" fill="#1c4e86"/>
<line x1="416.00" y1="342.30" x2="416.00" y2="345.90" stroke="#1c1c1c" stroke-width="1.1" />
<text x="416.00" y="354.00" font-size="8" text-anchor="middle" font-weight="normal" fill="#111" stroke="#111" stroke-width="0.25">−</text>
<text x="416.00" y="363.10" font-size="8" text-anchor="middle" font-weight="normal" fill="#111" stroke="#111" stroke-width="0.25">+</text>
<rect x="434.00" y="256.24" width="11.00" height="85.66" fill="#82a5c4" />
<line x1="439.50" y1="257.93" x2="439.50" y2="253.99" stroke="#0f2a4a" stroke-width="1.15" />
<line x1="438.00" y1="253.99" x2="441.00" y2="253.99" stroke="#0f2a4a" stroke-width="1.0" />
<line x1="438.00" y1="257.93" x2="441.00" y2="257.93" stroke="#0f2a4a" stroke-width="1.0" />
<circle cx="436.00" cy="254.55" r="2.25" fill="#1c4e86"/>
<circle cx="439.70" cy="254.55" r="2.25" fill="#1c4e86"/>
<circle cx="443.50" cy="257.36" r="2.25" fill="#1c4e86"/>
<line x1="439.50" y1="342.30" x2="439.50" y2="345.90" stroke="#1c1c1c" stroke-width="1.1" />
<text x="439.50" y="354.00" font-size="8" text-anchor="middle" font-weight="normal" fill="#111" stroke="#111" stroke-width="0.25">+</text>
<text x="439.50" y="363.10" font-size="8" text-anchor="middle" font-weight="normal" fill="#111" stroke="#111" stroke-width="0.25">−</text>
<rect x="457.50" y="300.68" width="11.00" height="41.23" fill="#82a5c4" />
<line x1="463.00" y1="305.18" x2="463.00" y2="296.18" stroke="#0f2a4a" stroke-width="1.15" />
<line x1="461.50" y1="296.18" x2="464.50" y2="296.18" stroke="#0f2a4a" stroke-width="1.0" />
<line x1="461.50" y1="305.18" x2="464.50" y2="305.18" stroke="#0f2a4a" stroke-width="1.0" />
<circle cx="461.50" cy="296.74" r="2.25" fill="#1c4e86"/>
<circle cx="466.20" cy="300.11" r="2.25" fill="#1c4e86"/>
<circle cx="463.50" cy="304.61" r="2.25" fill="#1c4e86"/>
<line x1="463.00" y1="342.30" x2="463.00" y2="345.90" stroke="#1c1c1c" stroke-width="1.1" />
<text x="463.00" y="354.00" font-size="8" text-anchor="middle" font-weight="normal" fill="#111" stroke="#111" stroke-width="0.25">+</text>
<text x="463.00" y="363.10" font-size="8" text-anchor="middle" font-weight="normal" fill="#111" stroke="#111" stroke-width="0.25">+</text>
<line x1="413.00" y1="228.30" x2="465.30" y2="228.30" stroke="#222" stroke-width="1.0" />
<text x="439.15" y="228.20" font-size="7.3" text-anchor="middle" font-weight="bold" fill="#1a1a1a" stroke="#1a1a1a" stroke-width="0.3">****</text>
<line x1="436.50" y1="238.00" x2="465.30" y2="238.00" stroke="#222" stroke-width="1.0" />
<text x="450.90" y="237.90" font-size="7.3" text-anchor="middle" font-weight="bold" fill="#1a1a1a" stroke="#1a1a1a" stroke-width="0.3">****</text>
<text x="469.80" y="353.90" font-size="7.7" text-anchor="start" font-weight="normal" fill="#111" >CFZ (4nM)</text>
<text x="469.80" y="363.40" font-size="7.7" text-anchor="start" font-weight="normal" fill="#111" >Suba (200nM)</text>
<text x="62.60" y="385.60" font-size="10.5" text-anchor="start" font-weight="bold" fill="#111" >D</text>
<line x1="94.80" y1="391.00" x2="94.80" y2="542.40" stroke="#1c1c1c" stroke-width="1.4" />
<line x1="91.20" y1="541.70" x2="194.10" y2="541.70" stroke="#1c1c1c" stroke-width="1.4" />
<text x="87.90" y="544.40" font-size="7.6" text-anchor="end" font-weight="normal" fill="#111" >0</text>
<line x1="91.20" y1="517.70" x2="94.80" y2="517.70" stroke="#1c1c1c" stroke-width="1.05" />
<text x="87.90" y="520.40" font-size="7.6" text-anchor="end" font-weight="normal" fill="#111" >20</text>
<line x1="91.20" y1="493.70" x2="94.80" y2="493.70" stroke="#1c1c1c" stroke-width="1.05" />
<text x="87.90" y="496.40" font-size="7.6" text-anchor="end" font-weight="normal" fill="#111" >40</text>
<line x1="91.20" y1="469.70" x2="94.80" y2="469.70" stroke="#1c1c1c" stroke-width="1.05" />
<text x="87.90" y="472.40" font-size="7.6" text-anchor="end" font-weight="normal" fill="#111" >60</text>
<line x1="91.20" y1="445.70" x2="94.80" y2="445.70" stroke="#1c1c1c" stroke-width="1.05" />
<text x="87.90" y="448.40" font-size="7.6" text-anchor="end" font-weight="normal" fill="#111" >80</text>
<line x1="91.20" y1="421.70" x2="94.80" y2="421.70" stroke="#1c1c1c" stroke-width="1.05" />
<text x="87.90" y="424.40" font-size="7.6" text-anchor="end" font-weight="normal" fill="#111" >100</text>
<line x1="91.20" y1="397.70" x2="94.80" y2="397.70" stroke="#1c1c1c" stroke-width="1.05" />
<text x="87.90" y="400.40" font-size="7.6" text-anchor="end" font-weight="normal" fill="#111" >120</text>
<text x="141.30" y="385.10" font-size="9.0" text-anchor="middle" font-weight="normal" fill="#111" >JJN3</text>
<rect x="100.60" y="421.70" width="11.20" height="119.50" fill="#e18292" />
<line x1="106.20" y1="431.30" x2="106.20" y2="409.70" stroke="#3d0812" stroke-width="1.15" />
<line x1="104.70" y1="409.70" x2="107.70" y2="409.70" stroke="#3d0812" stroke-width="1.0" />
<line x1="104.70" y1="431.30" x2="107.70" y2="431.30" stroke="#3d0812" stroke-width="1.0" />
<line x1="106.20" y1="541.70" x2="106.20" y2="545.20" stroke="#1c1c1c" stroke-width="1.1" />
<text x="106.20" y="554.20" font-size="8" text-anchor="middle" font-weight="normal" fill="#111" stroke="#111" stroke-width="0.25">−</text>
<text x="106.20" y="563.30" font-size="8" text-anchor="middle" font-weight="normal" fill="#111" stroke="#111" stroke-width="0.25">−</text>
<line x1="123.60" y1="541.70" x2="123.60" y2="545.20" stroke="#1c1c1c" stroke-width="1.1" />
<text x="123.60" y="554.20" font-size="8" text-anchor="middle" font-weight="normal" fill="#111" stroke="#111" stroke-width="0.25">+</text>
<text x="123.60" y="563.30" font-size="8" text-anchor="middle" font-weight="normal" fill="#111" stroke="#111" stroke-width="0.25">−</text>
<line x1="140.90" y1="541.70" x2="140.90" y2="545.20" stroke="#1c1c1c" stroke-width="1.1" />
<text x="140.90" y="554.20" font-size="8" text-anchor="middle" font-weight="normal" fill="#111" stroke="#111" stroke-width="0.25">+</text>
<text x="140.90" y="563.30" font-size="8" text-anchor="middle" font-weight="normal" fill="#111" stroke="#111" stroke-width="0.25">+</text>
<rect x="158.70" y="476.30" width="11.20" height="64.90" fill="#9fd9a7" />
<line x1="164.70" y1="482.30" x2="164.70" y2="468.50" stroke="#16241a" stroke-width="1.15" />
<line x1="163.20" y1="468.50" x2="166.20" y2="468.50" stroke="#16241a" stroke-width="1.0" />
<line x1="163.20" y1="482.30" x2="166.20" y2="482.30" stroke="#16241a" stroke-width="1.0" />
<line x1="164.30" y1="541.70" x2="164.30" y2="545.20" stroke="#1c1c1c" stroke-width="1.1" />
<text x="164.30" y="554.20" font-size="8" text-anchor="middle" font-weight="normal" fill="#111" stroke="#111" stroke-width="0.25">+</text>
<text x="164.30" y="563.30" font-size="8" text-anchor="middle" font-weight="normal" fill="#111" stroke="#111" stroke-width="0.25">−</text>
<rect x="176.20" y="528.74" width="11.20" height="12.46" fill="#9fd9a7" />
<line x1="181.80" y1="535.70" x2="181.80" y2="525.50" stroke="#16241a" stroke-width="1.15" />
<line x1="180.30" y1="525.50" x2="183.30" y2="525.50" stroke="#16241a" stroke-width="1.0" />
<line x1="180.30" y1="535.70" x2="183.30" y2="535.70" stroke="#16241a" stroke-width="1.0" />
<line x1="181.80" y1="541.70" x2="181.80" y2="545.20" stroke="#1c1c1c" stroke-width="1.1" />
<text x="181.80" y="554.20" font-size="8" text-anchor="middle" font-weight="normal" fill="#111" stroke="#111" stroke-width="0.25">+</text>
<text x="181.80" y="563.30" font-size="8" text-anchor="middle" font-weight="normal" fill="#111" stroke="#111" stroke-width="0.25">+</text>
<circle cx="106.20" cy="409.70" r="2.25" fill="#c4113a"/>
<circle cx="106.20" cy="424.70" r="2.25" fill="#c4113a"/>
<polygon points="103.39,432.95 109.01,432.95 106.20,427.89" fill="#c4113a"/>
<rect x="118.20" y="539.60" width="10.80" height="4.20" fill="#35ad55" rx="2.1"/>
<rect x="135.50" y="539.60" width="10.80" height="4.20" fill="#35ad55" rx="2.1"/>
<circle cx="164.50" cy="468.62" r="2.25" fill="#35ad55"/>
<circle cx="161.50" cy="477.14" r="2.25" fill="#35ad55"/>
<circle cx="167.30" cy="482.06" r="2.25" fill="#35ad55"/>
<circle cx="179.40" cy="525.74" r="2.25" fill="#35ad55"/>
<circle cx="184.20" cy="527.06" r="2.25" fill="#35ad55"/>
<circle cx="181.70" cy="535.70" r="2.25" fill="#35ad55"/>
<line x1="160.90" y1="455.30" x2="182.80" y2="455.30" stroke="#222" stroke-width="1.0" />
<text x="171.85" y="455.20" font-size="6.9" text-anchor="middle" font-weight="bold" fill="#1a1a1a" stroke="#1a1a1a" stroke-width="0.3">****</text>
<line x1="102.40" y1="565.50" x2="145.30" y2="565.50" stroke="#222" stroke-width="1.0" />
<line x1="160.30" y1="565.50" x2="185.00" y2="565.50" stroke="#222" stroke-width="1.0" />
<text x="123.40" y="576.20" font-size="8.6" text-anchor="middle" font-weight="normal" fill="#111" >P</text>
<text x="171.85" y="576.20" font-size="8.6" text-anchor="middle" font-weight="normal" fill="#111" >R</text>
<text x="190.40" y="554.00" font-size="7.7" text-anchor="start" font-weight="normal" fill="#111" >CFZ (12nM)</text>
<text x="190.40" y="563.30" font-size="7.7" text-anchor="start" font-weight="normal" fill="#111" >Suba (200nM)</text>
<text transform="translate(68.2,466.9) rotate(-90) scale(0.744,1)" font-size="8.6" text-anchor="middle" fill="#111" stroke="#111" stroke-width="0.2">Cell viability (%)</text>
<line x1="322.00" y1="391.00" x2="322.00" y2="542.40" stroke="#1c1c1c" stroke-width="1.4" />
<line x1="318.40" y1="541.70" x2="421.30" y2="541.70" stroke="#1c1c1c" stroke-width="1.4" />
<text x="315.10" y="544.40" font-size="7.6" text-anchor="end" font-weight="normal" fill="#111" >0</text>
<line x1="318.40" y1="517.70" x2="322.00" y2="517.70" stroke="#1c1c1c" stroke-width="1.05" />
<text x="315.10" y="520.40" font-size="7.6" text-anchor="end" font-weight="normal" fill="#111" >20</text>
<line x1="318.40" y1="493.70" x2="322.00" y2="493.70" stroke="#1c1c1c" stroke-width="1.05" />
<text x="315.10" y="496.40" font-size="7.6" text-anchor="end" font-weight="normal" fill="#111" >40</text>
<line x1="318.40" y1="469.70" x2="322.00" y2="469.70" stroke="#1c1c1c" stroke-width="1.05" />
<text x="315.10" y="472.40" font-size="7.6" text-anchor="end" font-weight="normal" fill="#111" >60</text>
<line x1="318.40" y1="445.70" x2="322.00" y2="445.70" stroke="#1c1c1c" stroke-width="1.05" />
<text x="315.10" y="448.40" font-size="7.6" text-anchor="end" font-weight="normal" fill="#111" >80</text>
<line x1="318.40" y1="421.70" x2="322.00" y2="421.70" stroke="#1c1c1c" stroke-width="1.05" />
<text x="315.10" y="424.40" font-size="7.6" text-anchor="end" font-weight="normal" fill="#111" >100</text>
<line x1="318.40" y1="397.70" x2="322.00" y2="397.70" stroke="#1c1c1c" stroke-width="1.05" />
<text x="315.10" y="400.40" font-size="7.6" text-anchor="end" font-weight="normal" fill="#111" >120</text>
<text x="368.50" y="385.10" font-size="9.0" text-anchor="middle" font-weight="normal" fill="#111" >AMO1</text>
<rect x="327.80" y="421.70" width="11.20" height="119.50" fill="#e18292" />
<line x1="333.40" y1="426.50" x2="333.40" y2="414.50" stroke="#3d0812" stroke-width="1.15" />
<line x1="331.90" y1="414.50" x2="334.90" y2="414.50" stroke="#3d0812" stroke-width="1.0" />
<line x1="331.90" y1="426.50" x2="334.90" y2="426.50" stroke="#3d0812" stroke-width="1.0" />
<line x1="333.40" y1="541.70" x2="333.40" y2="545.20" stroke="#1c1c1c" stroke-width="1.1" />
<text x="333.40" y="554.20" font-size="8" text-anchor="middle" font-weight="normal" fill="#111" stroke="#111" stroke-width="0.25">−</text>
<text x="333.40" y="563.30" font-size="8" text-anchor="middle" font-weight="normal" fill="#111" stroke="#111" stroke-width="0.25">−</text>
<line x1="350.80" y1="541.70" x2="350.80" y2="545.20" stroke="#1c1c1c" stroke-width="1.1" />
<text x="350.80" y="554.20" font-size="8" text-anchor="middle" font-weight="normal" fill="#111" stroke="#111" stroke-width="0.25">+</text>
<text x="350.80" y="563.30" font-size="8" text-anchor="middle" font-weight="normal" fill="#111" stroke="#111" stroke-width="0.25">−</text>
<line x1="368.10" y1="541.70" x2="368.10" y2="545.20" stroke="#1c1c1c" stroke-width="1.1" />
<text x="368.10" y="554.20" font-size="8" text-anchor="middle" font-weight="normal" fill="#111" stroke="#111" stroke-width="0.25">+</text>
<text x="368.10" y="563.30" font-size="8" text-anchor="middle" font-weight="normal" fill="#111" stroke="#111" stroke-width="0.25">+</text>
<rect x="385.90" y="467.30" width="11.20" height="73.90" fill="#9fd9a7" />
<line x1="391.50" y1="472.94" x2="391.50" y2="461.90" stroke="#16241a" stroke-width="1.15" />
<line x1="390.00" y1="461.90" x2="393.00" y2="461.90" stroke="#16241a" stroke-width="1.0" />
<line x1="390.00" y1="472.94" x2="393.00" y2="472.94" stroke="#16241a" stroke-width="1.0" />
<line x1="391.50" y1="541.70" x2="391.50" y2="545.20" stroke="#1c1c1c" stroke-width="1.1" />
<text x="391.50" y="554.20" font-size="8" text-anchor="middle" font-weight="normal" fill="#111" stroke="#111" stroke-width="0.25">+</text>
<text x="391.50" y="563.30" font-size="8" text-anchor="middle" font-weight="normal" fill="#111" stroke="#111" stroke-width="0.25">−</text>
<rect x="403.40" y="515.30" width="11.20" height="25.90" fill="#9fd9a7" />
<line x1="409.00" y1="520.10" x2="409.00" y2="509.90" stroke="#16241a" stroke-width="1.15" />
<line x1="407.50" y1="509.90" x2="410.50" y2="509.90" stroke="#16241a" stroke-width="1.0" />
<line x1="407.50" y1="520.10" x2="410.50" y2="520.10" stroke="#16241a" stroke-width="1.0" />
<line x1="409.00" y1="541.70" x2="409.00" y2="545.20" stroke="#1c1c1c" stroke-width="1.1" />
<text x="409.00" y="554.20" font-size="8" text-anchor="middle" font-weight="normal" fill="#111" stroke="#111" stroke-width="0.25">+</text>
<text x="409.00" y="563.30" font-size="8" text-anchor="middle" font-weight="normal" fill="#111" stroke="#111" stroke-width="0.25">+</text>
<circle cx="333.40" cy="414.50" r="2.25" fill="#c4113a"/>
<circle cx="330.40" cy="423.50" r="2.25" fill="#c4113a"/>
<polygon points="333.59,428.15 339.21,428.15 336.40,423.09" fill="#c4113a"/>
<rect x="345.40" y="539.60" width="10.80" height="4.20" fill="#35ad55" rx="2.1"/>
<rect x="362.70" y="539.60" width="10.80" height="4.20" fill="#35ad55" rx="2.1"/>
<circle cx="388.30" cy="462.50" r="2.25" fill="#35ad55"/>
<circle cx="394.50" cy="465.38" r="2.25" fill="#35ad55"/>
<polygon points="388.49,470.69 394.11,470.69 391.30,475.75" fill="#35ad55"/>
<circle cx="406.00" cy="510.50" r="2.25" fill="#35ad55"/>
<circle cx="412.00" cy="512.90" r="2.25" fill="#35ad55"/>
<circle cx="409.00" cy="520.10" r="2.25" fill="#35ad55"/>
<line x1="390.00" y1="455.30" x2="412.20" y2="455.30" stroke="#222" stroke-width="1.0" />
<text x="401.10" y="455.20" font-size="6.9" text-anchor="middle" font-weight="bold" fill="#1a1a1a" stroke="#1a1a1a" stroke-width="0.3">****</text>
<line x1="329.60" y1="565.50" x2="372.50" y2="565.50" stroke="#222" stroke-width="1.0" />
<line x1="387.50" y1="565.50" x2="412.20" y2="565.50" stroke="#222" stroke-width="1.0" />
<text x="350.60" y="576.20" font-size="8.6" text-anchor="middle" font-weight="normal" fill="#111" >P</text>
<text x="399.05" y="576.20" font-size="8.6" text-anchor="middle" font-weight="normal" fill="#111" >R</text>
<text x="417.60" y="554.00" font-size="7.7" text-anchor="start" font-weight="normal" fill="#111" >CFZ (12nM)</text>
<text x="417.60" y="563.30" font-size="7.7" text-anchor="start" font-weight="normal" fill="#111" >Suba (1µM)</text>
<text transform="translate(295.4,466.9) rotate(-90) scale(0.744,1)" font-size="8.6" text-anchor="middle" fill="#111" stroke="#111" stroke-width="0.2">Cell viability (%)</text>
</svg>
</body></html>
